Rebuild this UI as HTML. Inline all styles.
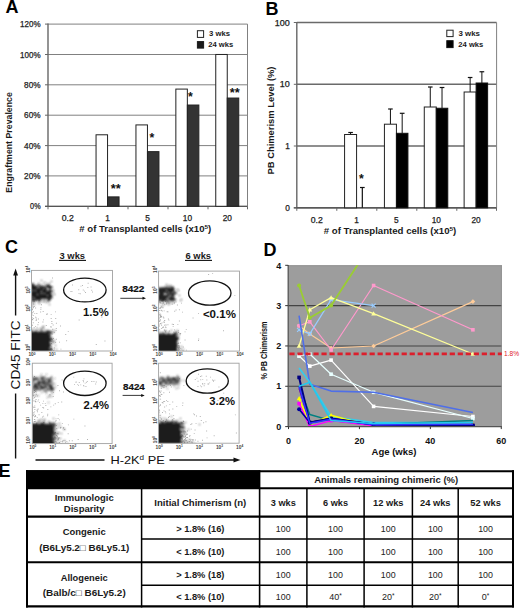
<!DOCTYPE html>
<html><head><meta charset="utf-8"><style>
html,body{margin:0;padding:0;background:#fff;}
body{width:520px;height:608px;overflow:hidden;}
svg{display:block;font-family:"Liberation Sans", sans-serif;}
</style></head><body>
<svg width="520" height="608" viewBox="0 0 520 608" font-family='"Liberation Sans", sans-serif'>
<text x="5.6" y="12.7" font-size="18" font-weight="bold" text-anchor="start" fill="#000" >A</text>
<line x1="48" y1="206.3" x2="247.5" y2="206.3" stroke="#808080" stroke-width="1" />
<line x1="45" y1="206.3" x2="48" y2="206.3" stroke="#666" stroke-width="1" />
<text x="40.6" y="209.35000000000002" font-size="8.3" text-anchor="end" fill="#222" textLength="10.5" lengthAdjust="spacingAndGlyphs" stroke="#222" stroke-width="0.25">0%</text>
<line x1="48" y1="175.9" x2="247.5" y2="175.9" stroke="#808080" stroke-width="1" />
<line x1="45" y1="175.9" x2="48" y2="175.9" stroke="#666" stroke-width="1" />
<text x="40.6" y="178.95000000000002" font-size="8.3" text-anchor="end" fill="#222" textLength="16.5" lengthAdjust="spacingAndGlyphs" stroke="#222" stroke-width="0.25">20%</text>
<line x1="48" y1="145.6" x2="247.5" y2="145.6" stroke="#808080" stroke-width="1" />
<line x1="45" y1="145.6" x2="48" y2="145.6" stroke="#666" stroke-width="1" />
<text x="40.6" y="148.65" font-size="8.3" text-anchor="end" fill="#222" textLength="16.5" lengthAdjust="spacingAndGlyphs" stroke="#222" stroke-width="0.25">40%</text>
<line x1="48" y1="115.2" x2="247.5" y2="115.2" stroke="#808080" stroke-width="1" />
<line x1="45" y1="115.2" x2="48" y2="115.2" stroke="#666" stroke-width="1" />
<text x="40.6" y="118.25" font-size="8.3" text-anchor="end" fill="#222" textLength="16.5" lengthAdjust="spacingAndGlyphs" stroke="#222" stroke-width="0.25">60%</text>
<line x1="48" y1="84.8" x2="247.5" y2="84.8" stroke="#808080" stroke-width="1" />
<line x1="45" y1="84.8" x2="48" y2="84.8" stroke="#666" stroke-width="1" />
<text x="40.6" y="87.85" font-size="8.3" text-anchor="end" fill="#222" textLength="16.5" lengthAdjust="spacingAndGlyphs" stroke="#222" stroke-width="0.25">80%</text>
<line x1="48" y1="54.5" x2="247.5" y2="54.5" stroke="#808080" stroke-width="1" />
<line x1="45" y1="54.5" x2="48" y2="54.5" stroke="#666" stroke-width="1" />
<text x="40.6" y="57.55" font-size="8.3" text-anchor="end" fill="#222" textLength="20.5" lengthAdjust="spacingAndGlyphs" stroke="#222" stroke-width="0.25">100%</text>
<line x1="48" y1="24.1" x2="247.5" y2="24.1" stroke="#808080" stroke-width="1" />
<line x1="45" y1="24.1" x2="48" y2="24.1" stroke="#666" stroke-width="1" />
<text x="40.6" y="27.150000000000002" font-size="8.3" text-anchor="end" fill="#222" textLength="20.5" lengthAdjust="spacingAndGlyphs" stroke="#222" stroke-width="0.25">120%</text>
<line x1="247.5" y1="24.1" x2="247.5" y2="206.3" stroke="#808080" stroke-width="1" />
<line x1="48" y1="23.6" x2="48" y2="206.8" stroke="#666" stroke-width="1.4" />
<line x1="45" y1="206.3" x2="247.5" y2="206.3" stroke="#555" stroke-width="1.3" />
<line x1="48" y1="206.3" x2="48" y2="209.3" stroke="#666" stroke-width="1" />
<line x1="88" y1="206.3" x2="88" y2="209.3" stroke="#666" stroke-width="1" />
<line x1="128" y1="206.3" x2="128" y2="209.3" stroke="#666" stroke-width="1" />
<line x1="168" y1="206.3" x2="168" y2="209.3" stroke="#666" stroke-width="1" />
<line x1="208" y1="206.3" x2="208" y2="209.3" stroke="#666" stroke-width="1" />
<line x1="247.5" y1="206.3" x2="247.5" y2="209.3" stroke="#666" stroke-width="1" />
<text x="67.75" y="221.2" font-size="8.3" text-anchor="middle" fill="#222" textLength="12.1" lengthAdjust="spacingAndGlyphs" stroke="#222" stroke-width="0.25">0.2</text>
<text x="107.64999999999999" y="221.2" font-size="8.3" text-anchor="middle" fill="#222" stroke="#222" stroke-width="0.25">1</text>
<text x="147.55" y="221.2" font-size="8.3" text-anchor="middle" fill="#222" stroke="#222" stroke-width="0.25">5</text>
<text x="187.45000000000002" y="221.2" font-size="8.3" text-anchor="middle" fill="#222" stroke="#222" stroke-width="0.25">10</text>
<text x="227.35" y="221.2" font-size="8.3" text-anchor="middle" fill="#222" stroke="#222" stroke-width="0.25">20</text>
<rect x="96.05" y="134.7865" width="11.5" height="71.51350000000001" fill="#fff" stroke="#222" stroke-width="1" />
<rect x="107.55" y="196.88633333333334" width="11.5" height="9.413666666666668" fill="#333" stroke="#222" stroke-width="1" />
<rect x="135.95" y="124.91733333333333" width="11.5" height="81.38266666666668" fill="#fff" stroke="#222" stroke-width="1" />
<rect x="147.45" y="151.64" width="11.5" height="54.66000000000001" fill="#333" stroke="#222" stroke-width="1" />
<rect x="175.85" y="89.08466666666666" width="11.5" height="117.21533333333335" fill="#fff" stroke="#222" stroke-width="1" />
<rect x="187.35" y="105.02716666666666" width="11.5" height="101.27283333333335" fill="#333" stroke="#222" stroke-width="1" />
<rect x="215.74999999999997" y="54.46666666666667" width="11.5" height="151.83333333333334" fill="#fff" stroke="#222" stroke-width="1" />
<rect x="227.24999999999997" y="98.04283333333333" width="11.5" height="108.25716666666668" fill="#333" stroke="#222" stroke-width="1" />
<text x="115.8" y="192.5" font-size="12.8" font-weight="bold" text-anchor="middle" fill="#111" >**</text>
<text x="151.8" y="142.4" font-size="12.3" font-weight="bold" text-anchor="middle" fill="#111" >*</text>
<text x="190.3" y="100.6" font-size="12.3" font-weight="bold" text-anchor="middle" fill="#111" >*</text>
<text x="234.8" y="97.3" font-size="12.8" font-weight="bold" text-anchor="middle" fill="#111" >**</text>
<rect x="197.4" y="30.7" width="6.2" height="6.7" fill="#fff" stroke="#222" stroke-width="1" />
<rect x="197.4" y="41.6" width="6.2" height="6.5" fill="#1a1a1a" stroke="#1a1a1a" stroke-width="1" />
<text x="209" y="36.4" font-size="8" font-weight="bold" text-anchor="start" fill="#1a1a1a" textLength="21" lengthAdjust="spacingAndGlyphs" >3 wks</text>
<text x="208.2" y="47.3" font-size="8" font-weight="bold" text-anchor="start" fill="#1a1a1a" textLength="25" lengthAdjust="spacingAndGlyphs" >24 wks</text>
<text x="79.3" y="232.4" font-size="9" font-weight="bold" text-anchor="start" fill="#1a1a1a" textLength="132" lengthAdjust="spacingAndGlyphs" ># of Transplanted cells (x10<tspan font-size="6" dy="-3.2">5</tspan><tspan dy="3.2">)</tspan></text>
<text x="0" y="0" font-size="8.8" font-weight="bold" text-anchor="middle" fill="#1a1a1a" textLength="100.5" lengthAdjust="spacingAndGlyphs" transform="translate(12.4,142.4) rotate(-90)">Engraftment Prevalence</text>
<text x="265.5" y="14.7" font-size="18" font-weight="bold" text-anchor="start" fill="#000" >B</text>
<line x1="296.8" y1="207.8" x2="496.6" y2="207.8" stroke="#6a6a6a" stroke-width="1.4" />
<line x1="293.8" y1="207.8" x2="296.8" y2="207.8" stroke="#666" stroke-width="1" />
<text x="289.8" y="210.85000000000002" font-size="8.3" text-anchor="end" fill="#222" stroke="#222" stroke-width="0.25">0</text>
<line x1="296.8" y1="146.0" x2="496.6" y2="146.0" stroke="#6a6a6a" stroke-width="1.4" />
<line x1="293.8" y1="146.0" x2="296.8" y2="146.0" stroke="#666" stroke-width="1" />
<text x="289.8" y="149.05" font-size="8.3" text-anchor="end" fill="#222" stroke="#222" stroke-width="0.25">1</text>
<line x1="296.8" y1="84.3" x2="496.6" y2="84.3" stroke="#6a6a6a" stroke-width="1.4" />
<line x1="293.8" y1="84.3" x2="296.8" y2="84.3" stroke="#666" stroke-width="1" />
<text x="289.8" y="87.35" font-size="8.3" text-anchor="end" fill="#222" textLength="10" lengthAdjust="spacingAndGlyphs" stroke="#222" stroke-width="0.25">10</text>
<line x1="296.8" y1="22.5" x2="496.6" y2="22.5" stroke="#6a6a6a" stroke-width="1.4" />
<line x1="293.8" y1="22.5" x2="296.8" y2="22.5" stroke="#666" stroke-width="1" />
<text x="289.8" y="25.55" font-size="8.3" text-anchor="end" fill="#222" textLength="15" lengthAdjust="spacingAndGlyphs" stroke="#222" stroke-width="0.25">100</text>
<line x1="496.6" y1="22.5" x2="496.6" y2="207.8" stroke="#808080" stroke-width="1" />
<line x1="296.8" y1="22.0" x2="296.8" y2="208.3" stroke="#666" stroke-width="1.4" />
<line x1="293.8" y1="207.8" x2="496.6" y2="207.8" stroke="#555" stroke-width="1.3" />
<line x1="296.8" y1="207.8" x2="296.8" y2="210.8" stroke="#666" stroke-width="1" />
<line x1="336.8" y1="207.8" x2="336.8" y2="210.8" stroke="#666" stroke-width="1" />
<line x1="376.8" y1="207.8" x2="376.8" y2="210.8" stroke="#666" stroke-width="1" />
<line x1="416.8" y1="207.8" x2="416.8" y2="210.8" stroke="#666" stroke-width="1" />
<line x1="456.8" y1="207.8" x2="456.8" y2="210.8" stroke="#666" stroke-width="1" />
<line x1="496.5" y1="207.8" x2="496.5" y2="210.8" stroke="#666" stroke-width="1" />
<text x="316.725" y="222.8" font-size="8.3" text-anchor="middle" fill="#222" textLength="12.1" lengthAdjust="spacingAndGlyphs" stroke="#222" stroke-width="0.25">0.2</text>
<text x="356.57500000000005" y="222.8" font-size="8.3" text-anchor="middle" fill="#222" stroke="#222" stroke-width="0.25">1</text>
<text x="396.425" y="222.8" font-size="8.3" text-anchor="middle" fill="#222" stroke="#222" stroke-width="0.25">5</text>
<text x="436.275" y="222.8" font-size="8.3" text-anchor="middle" fill="#222" stroke="#222" stroke-width="0.25">10</text>
<text x="476.125" y="222.8" font-size="8.3" text-anchor="middle" fill="#222" stroke="#222" stroke-width="0.25">20</text>
<line x1="350.57500000000005" y1="134.5" x2="350.57500000000005" y2="132.5" stroke="#111" stroke-width="1" />
<line x1="348.27500000000003" y1="132.5" x2="352.87500000000006" y2="132.5" stroke="#111" stroke-width="1.2" />
<line x1="362.32500000000005" y1="207.8" x2="362.32500000000005" y2="187.5" stroke="#111" stroke-width="1.2" />
<line x1="359.975" y1="187.5" x2="364.67500000000007" y2="187.5" stroke="#111" stroke-width="1.2" />
<rect x="344.57500000000005" y="134.5" width="12" height="73.30000000000001" fill="#fff" stroke="#222" stroke-width="1" />
<line x1="390.425" y1="124.2" x2="390.425" y2="109" stroke="#111" stroke-width="1" />
<line x1="388.125" y1="109" x2="392.725" y2="109" stroke="#111" stroke-width="1.2" />
<line x1="402.175" y1="133.3" x2="402.175" y2="113.3" stroke="#111" stroke-width="1" />
<line x1="399.825" y1="113.3" x2="404.52500000000003" y2="113.3" stroke="#111" stroke-width="1.2" />
<rect x="384.425" y="124.2" width="12" height="83.60000000000001" fill="#fff" stroke="#222" stroke-width="1" />
<rect x="396.425" y="133.3" width="11.5" height="74.5" fill="#000" stroke="#111" stroke-width="1" />
<line x1="430.275" y1="107" x2="430.275" y2="87" stroke="#111" stroke-width="1" />
<line x1="427.97499999999997" y1="87" x2="432.575" y2="87" stroke="#111" stroke-width="1.2" />
<line x1="442.025" y1="108.25" x2="442.025" y2="87.5" stroke="#111" stroke-width="1" />
<line x1="439.67499999999995" y1="87.5" x2="444.375" y2="87.5" stroke="#111" stroke-width="1.2" />
<rect x="424.275" y="107" width="12" height="100.80000000000001" fill="#fff" stroke="#222" stroke-width="1" />
<rect x="436.275" y="108.25" width="11.5" height="99.55000000000001" fill="#000" stroke="#111" stroke-width="1" />
<line x1="470.125" y1="92" x2="470.125" y2="77.5" stroke="#111" stroke-width="1" />
<line x1="467.825" y1="77.5" x2="472.425" y2="77.5" stroke="#111" stroke-width="1.2" />
<line x1="481.875" y1="83" x2="481.875" y2="71.75" stroke="#111" stroke-width="1" />
<line x1="479.525" y1="71.75" x2="484.225" y2="71.75" stroke="#111" stroke-width="1.2" />
<rect x="464.125" y="92" width="12" height="115.80000000000001" fill="#fff" stroke="#222" stroke-width="1" />
<rect x="476.125" y="83" width="11.5" height="124.80000000000001" fill="#000" stroke="#111" stroke-width="1" />
<text x="361.3" y="182.5" font-size="12.3" font-weight="bold" text-anchor="middle" fill="#111" >*</text>
<rect x="446.8" y="30.2" width="6.3" height="6.4" fill="#fff" stroke="#222" stroke-width="1" />
<rect x="446.8" y="40.7" width="6.3" height="6.9" fill="#000" stroke="#111" stroke-width="1" />
<text x="458.5" y="36.2" font-size="8" font-weight="bold" text-anchor="start" fill="#1a1a1a" textLength="21.5" lengthAdjust="spacingAndGlyphs" >3 wks</text>
<text x="458.3" y="46.9" font-size="8" font-weight="bold" text-anchor="start" fill="#1a1a1a" textLength="25" lengthAdjust="spacingAndGlyphs" >24 wks</text>
<text x="323.8" y="233.9" font-size="9" font-weight="bold" text-anchor="start" fill="#1a1a1a" textLength="132.5" lengthAdjust="spacingAndGlyphs" ># of Transplanted cells (x10<tspan font-size="6" dy="-3.2">5</tspan><tspan dy="3.2">)</tspan></text>
<text x="0" y="0" font-size="8.8" font-weight="bold" text-anchor="middle" fill="#1a1a1a" textLength="108" lengthAdjust="spacingAndGlyphs" transform="translate(273.6,120.5) rotate(-90)">PB Chimerism Level (%)</text>
<defs><filter id="b0" x="-10%" y="-10%" width="120%" height="120%"><feGaussianBlur stdDeviation="1.0"/></filter></defs>
<defs><filter id="b3" x="-10%" y="-10%" width="120%" height="120%"><feGaussianBlur stdDeviation="0.6"/></filter></defs>
<defs><filter id="b1" x="-30%" y="-30%" width="160%" height="160%"><feGaussianBlur stdDeviation="1.3"/></filter><filter id="b2" x="-30%" y="-30%" width="160%" height="160%"><feGaussianBlur stdDeviation="2.2"/></filter></defs>
<text x="5" y="253.4" font-size="18" font-weight="bold" text-anchor="start" fill="#000" >C</text>
<text x="72.3" y="258.7" font-size="9.2" font-weight="bold" text-anchor="middle" fill="#1a1a1a" textLength="25.5" lengthAdjust="spacingAndGlyphs" >3 wks</text>
<line x1="59" y1="260.4" x2="86" y2="260.4" stroke="#111" stroke-width="1.1" />
<text x="198.3" y="258.7" font-size="9.2" font-weight="bold" text-anchor="middle" fill="#1a1a1a" textLength="25.5" lengthAdjust="spacingAndGlyphs" >6 wks</text>
<line x1="185" y1="260.4" x2="212" y2="260.4" stroke="#111" stroke-width="1.1" />
<defs><clipPath id="cp0"><rect x="31.5" y="270.4" width="81.0" height="80.60000000000002"/></clipPath></defs>
<rect x="31.5" y="270.4" width="81.0" height="80.60000000000002" fill="#fff" stroke="none" stroke-width="1" />
<g clip-path="url(#cp0)">
<path d="M35.1 316.7h0.9v0.9h-0.9zM47.0 313.6h0.9v0.9h-0.9zM35.8 317.6h0.9v0.9h-0.9zM32.7 315.1h0.9v0.9h-0.9zM37.5 324.3h0.9v0.9h-0.9zM32.1 308.4h0.9v0.9h-0.9zM32.1 324.8h0.9v0.9h-0.9zM38.6 299.9h0.9v0.9h-0.9zM55.7 329.9h0.9v0.9h-0.9zM37.9 318.5h0.9v0.9h-0.9zM32.5 299.0h0.9v0.9h-0.9zM36.0 300.4h0.9v0.9h-0.9zM32.8 306.4h0.9v0.9h-0.9zM31.7 313.6h0.9v0.9h-0.9zM35.0 325.9h0.9v0.9h-0.9zM35.9 319.3h0.9v0.9h-0.9zM35.7 320.0h0.9v0.9h-0.9zM35.2 307.5h0.9v0.9h-0.9zM67.8 330.9h0.9v0.9h-0.9zM42.5 321.5h0.9v0.9h-0.9zM33.8 306.0h0.9v0.9h-0.9zM33.5 300.8h0.9v0.9h-0.9zM40.2 311.5h0.9v0.9h-0.9zM42.7 311.1h0.9v0.9h-0.9zM50.5 326.0h0.9v0.9h-0.9zM31.5 305.3h0.9v0.9h-0.9zM46.0 313.8h0.9v0.9h-0.9zM55.1 311.4h0.9v0.9h-0.9zM32.0 319.0h0.9v0.9h-0.9zM40.5 307.3h0.9v0.9h-0.9zM32.0 309.3h0.9v0.9h-0.9zM51.5 323.1h0.9v0.9h-0.9zM32.3 306.5h0.9v0.9h-0.9zM32.1 300.4h0.9v0.9h-0.9zM41.1 304.3h0.9v0.9h-0.9zM36.4 313.0h0.9v0.9h-0.9zM32.8 322.3h0.9v0.9h-0.9zM32.3 319.4h0.9v0.9h-0.9zM32.2 312.2h0.9v0.9h-0.9zM32.9 307.3h0.9v0.9h-0.9zM52.7 324.6h0.9v0.9h-0.9zM33.7 327.3h0.9v0.9h-0.9zM32.9 311.3h0.9v0.9h-0.9zM43.1 319.4h0.9v0.9h-0.9zM32.1 330.7h0.9v0.9h-0.9zM32.9 306.9h0.9v0.9h-0.9zM40.4 309.2h0.9v0.9h-0.9zM33.6 300.9h0.9v0.9h-0.9zM32.1 317.4h0.9v0.9h-0.9zM33.2 318.0h0.9v0.9h-0.9zM34.3 313.2h0.9v0.9h-0.9zM50.7 314.2h0.9v0.9h-0.9zM36.6 326.7h0.9v0.9h-0.9zM32.7 303.5h0.9v0.9h-0.9zM45.8 325.1h0.9v0.9h-0.9zM51.6 348.9h0.9v0.9h-0.9zM55.9 322.8h0.9v0.9h-0.9zM51.4 321.0h0.9v0.9h-0.9zM59.1 341.7h0.9v0.9h-0.9zM52.7 349.9h0.9v0.9h-0.9zM50.7 318.1h0.9v0.9h-0.9zM51.6 338.8h0.9v0.9h-0.9zM51.7 333.6h0.9v0.9h-0.9zM54.1 347.5h0.9v0.9h-0.9zM51.3 338.3h0.9v0.9h-0.9zM50.8 348.4h0.9v0.9h-0.9zM53.8 331.9h0.9v0.9h-0.9zM54.3 347.7h0.9v0.9h-0.9zM60.5 348.7h0.9v0.9h-0.9zM50.6 347.9h0.9v0.9h-0.9zM52.9 350.4h0.9v0.9h-0.9zM51.3 346.4h0.9v0.9h-0.9zM53.9 349.6h0.9v0.9h-0.9zM52.3 328.8h0.9v0.9h-0.9zM66.2 340.3h0.9v0.9h-0.9zM55.2 342.2h0.9v0.9h-0.9zM51.1 350.6h0.9v0.9h-0.9zM50.6 326.9h0.9v0.9h-0.9zM55.3 318.1h0.9v0.9h-0.9zM50.6 340.9h0.9v0.9h-0.9zM53.1 337.9h0.9v0.9h-0.9zM52.0 277.5h0.9v0.9h-0.9zM50.8 343.1h0.9v0.9h-0.9zM55.8 328.0h0.9v0.9h-0.9zM55.8 338.8h0.9v0.9h-0.9zM95.8 344.1h0.9v0.9h-0.9zM60.0 325.6h0.9v0.9h-0.9zM104.5 340.6h0.9v0.9h-0.9zM65.3 334.1h0.9v0.9h-0.9zM101.4 316.6h0.9v0.9h-0.9zM82.1 301.2h0.9v0.9h-0.9zM78.7 319.5h0.9v0.9h-0.9zM38.0 321.9h0.9v0.9h-0.9zM112.0 341.3h0.9v0.9h-0.9zM90.5 301.7h0.9v0.9h-0.9z" fill="#aaa"/>
<path d="M82.1 285.1h0.9v0.9h-0.9zM71.5 291.1h0.9v0.9h-0.9zM92.0 291.5h0.9v0.9h-0.9zM91.3 289.8h0.9v0.9h-0.9zM78.3 289.3h0.9v0.9h-0.9zM80.5 285.7h0.9v0.9h-0.9zM72.1 284.6h0.9v0.9h-0.9zM82.8 289.5h0.9v0.9h-0.9zM79.8 293.3h0.9v0.9h-0.9zM84.0 290.7h0.9v0.9h-0.9zM90.6 286.5h0.9v0.9h-0.9zM70.3 291.2h0.9v0.9h-0.9zM78.5 292.9h0.9v0.9h-0.9zM85.0 292.0h0.9v0.9h-0.9zM87.7 282.8h0.9v0.9h-0.9zM87.4 287.0h0.9v0.9h-0.9z" fill="#b0b0b0"/>
<g filter="url(#b0)">
<path d="M31.0 283.0h1.0v1.0h-1.0zM31.0 284.0h1.0v1.0h-1.0zM31.0 285.0h1.0v1.0h-1.0zM31.0 286.0h1.0v1.0h-1.0zM31.0 287.0h1.0v1.0h-1.0zM31.0 288.0h1.0v1.0h-1.0zM31.0 289.0h1.0v1.0h-1.0zM31.0 290.0h1.0v1.0h-1.0zM31.0 291.0h1.0v1.0h-1.0zM31.0 292.0h1.0v1.0h-1.0zM31.0 293.0h1.0v1.0h-1.0zM31.0 294.0h1.0v1.0h-1.0zM31.0 295.0h1.0v1.0h-1.0zM31.0 296.0h1.0v1.0h-1.0zM31.0 297.0h1.0v1.0h-1.0zM31.0 298.0h1.0v1.0h-1.0zM31.0 299.0h1.0v1.0h-1.0zM31.0 301.0h1.0v1.0h-1.0zM32.0 284.0h1.0v1.0h-1.0zM32.0 285.0h1.0v1.0h-1.0zM32.0 286.0h1.0v1.0h-1.0zM32.0 287.0h1.0v1.0h-1.0zM32.0 288.0h1.0v1.0h-1.0zM32.0 289.0h1.0v1.0h-1.0zM32.0 291.0h1.0v1.0h-1.0zM32.0 292.0h1.0v1.0h-1.0zM32.0 293.0h1.0v1.0h-1.0zM32.0 294.0h1.0v1.0h-1.0zM32.0 295.0h1.0v1.0h-1.0zM32.0 296.0h1.0v1.0h-1.0zM32.0 298.0h1.0v1.0h-1.0zM32.0 299.0h1.0v1.0h-1.0zM32.0 301.0h1.0v1.0h-1.0zM32.0 304.0h1.0v1.0h-1.0zM33.0 283.0h1.0v1.0h-1.0zM33.0 284.0h1.0v1.0h-1.0zM33.0 285.0h1.0v1.0h-1.0zM33.0 286.0h1.0v1.0h-1.0zM33.0 287.0h1.0v1.0h-1.0zM33.0 288.0h1.0v1.0h-1.0zM33.0 289.0h1.0v1.0h-1.0zM33.0 290.0h1.0v1.0h-1.0zM33.0 291.0h1.0v1.0h-1.0zM33.0 292.0h1.0v1.0h-1.0zM33.0 293.0h1.0v1.0h-1.0zM33.0 294.0h1.0v1.0h-1.0zM33.0 295.0h1.0v1.0h-1.0zM33.0 296.0h1.0v1.0h-1.0zM33.0 297.0h1.0v1.0h-1.0zM33.0 298.0h1.0v1.0h-1.0zM33.0 299.0h1.0v1.0h-1.0zM33.0 300.0h1.0v1.0h-1.0zM33.0 302.0h1.0v1.0h-1.0zM34.0 285.0h1.0v1.0h-1.0zM34.0 286.0h1.0v1.0h-1.0zM34.0 287.0h1.0v1.0h-1.0zM34.0 288.0h1.0v1.0h-1.0zM34.0 289.0h1.0v1.0h-1.0zM34.0 290.0h1.0v1.0h-1.0zM34.0 291.0h1.0v1.0h-1.0zM34.0 292.0h1.0v1.0h-1.0zM34.0 293.0h1.0v1.0h-1.0zM34.0 294.0h1.0v1.0h-1.0zM34.0 295.0h1.0v1.0h-1.0zM34.0 296.0h1.0v1.0h-1.0zM34.0 297.0h1.0v1.0h-1.0zM34.0 299.0h1.0v1.0h-1.0zM34.0 300.0h1.0v1.0h-1.0zM34.0 301.0h1.0v1.0h-1.0zM34.0 304.0h1.0v1.0h-1.0zM35.0 286.0h1.0v1.0h-1.0zM35.0 287.0h1.0v1.0h-1.0zM35.0 288.0h1.0v1.0h-1.0zM35.0 289.0h1.0v1.0h-1.0zM35.0 291.0h1.0v1.0h-1.0zM35.0 292.0h1.0v1.0h-1.0zM35.0 293.0h1.0v1.0h-1.0zM35.0 294.0h1.0v1.0h-1.0zM35.0 295.0h1.0v1.0h-1.0zM35.0 296.0h1.0v1.0h-1.0zM35.0 297.0h1.0v1.0h-1.0zM35.0 298.0h1.0v1.0h-1.0zM35.0 299.0h1.0v1.0h-1.0zM35.0 300.0h1.0v1.0h-1.0zM36.0 285.0h1.0v1.0h-1.0zM36.0 286.0h1.0v1.0h-1.0zM36.0 287.0h1.0v1.0h-1.0zM36.0 288.0h1.0v1.0h-1.0zM36.0 289.0h1.0v1.0h-1.0zM36.0 290.0h1.0v1.0h-1.0zM36.0 291.0h1.0v1.0h-1.0zM36.0 292.0h1.0v1.0h-1.0zM36.0 293.0h1.0v1.0h-1.0zM36.0 294.0h1.0v1.0h-1.0zM36.0 295.0h1.0v1.0h-1.0zM36.0 296.0h1.0v1.0h-1.0zM36.0 297.0h1.0v1.0h-1.0zM36.0 298.0h1.0v1.0h-1.0zM36.0 299.0h1.0v1.0h-1.0zM37.0 285.0h1.0v1.0h-1.0zM37.0 288.0h1.0v1.0h-1.0zM37.0 289.0h1.0v1.0h-1.0zM37.0 290.0h1.0v1.0h-1.0zM37.0 291.0h1.0v1.0h-1.0zM37.0 292.0h1.0v1.0h-1.0zM37.0 293.0h1.0v1.0h-1.0zM37.0 295.0h1.0v1.0h-1.0zM37.0 296.0h1.0v1.0h-1.0zM37.0 297.0h1.0v1.0h-1.0zM37.0 298.0h1.0v1.0h-1.0zM37.0 299.0h1.0v1.0h-1.0zM37.0 300.0h1.0v1.0h-1.0zM38.0 283.0h1.0v1.0h-1.0zM38.0 285.0h1.0v1.0h-1.0zM38.0 286.0h1.0v1.0h-1.0zM38.0 287.0h1.0v1.0h-1.0zM38.0 288.0h1.0v1.0h-1.0zM38.0 289.0h1.0v1.0h-1.0zM38.0 290.0h1.0v1.0h-1.0zM38.0 291.0h1.0v1.0h-1.0zM38.0 292.0h1.0v1.0h-1.0zM38.0 293.0h1.0v1.0h-1.0zM38.0 294.0h1.0v1.0h-1.0zM38.0 295.0h1.0v1.0h-1.0zM38.0 296.0h1.0v1.0h-1.0zM38.0 297.0h1.0v1.0h-1.0zM38.0 298.0h1.0v1.0h-1.0zM38.0 299.0h1.0v1.0h-1.0zM38.0 302.0h1.0v1.0h-1.0zM39.0 284.0h1.0v1.0h-1.0zM39.0 286.0h1.0v1.0h-1.0zM39.0 288.0h1.0v1.0h-1.0zM39.0 289.0h1.0v1.0h-1.0zM39.0 290.0h1.0v1.0h-1.0zM39.0 291.0h1.0v1.0h-1.0zM39.0 292.0h1.0v1.0h-1.0zM39.0 293.0h1.0v1.0h-1.0zM39.0 294.0h1.0v1.0h-1.0zM39.0 295.0h1.0v1.0h-1.0zM39.0 296.0h1.0v1.0h-1.0zM39.0 297.0h1.0v1.0h-1.0zM39.0 298.0h1.0v1.0h-1.0zM39.0 299.0h1.0v1.0h-1.0zM39.0 300.0h1.0v1.0h-1.0zM39.0 301.0h1.0v1.0h-1.0zM39.0 303.0h1.0v1.0h-1.0zM40.0 285.0h1.0v1.0h-1.0zM40.0 286.0h1.0v1.0h-1.0zM40.0 287.0h1.0v1.0h-1.0zM40.0 288.0h1.0v1.0h-1.0zM40.0 289.0h1.0v1.0h-1.0zM40.0 290.0h1.0v1.0h-1.0zM40.0 291.0h1.0v1.0h-1.0zM40.0 292.0h1.0v1.0h-1.0zM40.0 293.0h1.0v1.0h-1.0zM40.0 294.0h1.0v1.0h-1.0zM40.0 295.0h1.0v1.0h-1.0zM40.0 296.0h1.0v1.0h-1.0zM40.0 297.0h1.0v1.0h-1.0zM40.0 298.0h1.0v1.0h-1.0zM40.0 299.0h1.0v1.0h-1.0zM40.0 300.0h1.0v1.0h-1.0zM41.0 280.0h1.0v1.0h-1.0zM41.0 286.0h1.0v1.0h-1.0zM41.0 287.0h1.0v1.0h-1.0zM41.0 288.0h1.0v1.0h-1.0zM41.0 289.0h1.0v1.0h-1.0zM41.0 290.0h1.0v1.0h-1.0zM41.0 292.0h1.0v1.0h-1.0zM41.0 294.0h1.0v1.0h-1.0zM41.0 295.0h1.0v1.0h-1.0zM41.0 296.0h1.0v1.0h-1.0zM41.0 297.0h1.0v1.0h-1.0zM41.0 298.0h1.0v1.0h-1.0zM42.0 284.0h1.0v1.0h-1.0zM42.0 286.0h1.0v1.0h-1.0zM42.0 287.0h1.0v1.0h-1.0zM42.0 288.0h1.0v1.0h-1.0zM42.0 289.0h1.0v1.0h-1.0zM42.0 290.0h1.0v1.0h-1.0zM42.0 291.0h1.0v1.0h-1.0zM42.0 292.0h1.0v1.0h-1.0zM42.0 293.0h1.0v1.0h-1.0zM42.0 294.0h1.0v1.0h-1.0zM42.0 295.0h1.0v1.0h-1.0zM42.0 296.0h1.0v1.0h-1.0zM42.0 297.0h1.0v1.0h-1.0zM42.0 298.0h1.0v1.0h-1.0zM42.0 301.0h1.0v1.0h-1.0zM43.0 286.0h1.0v1.0h-1.0zM43.0 287.0h1.0v1.0h-1.0zM43.0 289.0h1.0v1.0h-1.0zM43.0 290.0h1.0v1.0h-1.0zM43.0 291.0h1.0v1.0h-1.0zM43.0 292.0h1.0v1.0h-1.0zM43.0 293.0h1.0v1.0h-1.0zM43.0 294.0h1.0v1.0h-1.0zM43.0 295.0h1.0v1.0h-1.0zM43.0 296.0h1.0v1.0h-1.0zM43.0 297.0h1.0v1.0h-1.0zM43.0 298.0h1.0v1.0h-1.0zM43.0 300.0h1.0v1.0h-1.0zM44.0 282.0h1.0v1.0h-1.0zM44.0 286.0h1.0v1.0h-1.0zM44.0 287.0h1.0v1.0h-1.0zM44.0 288.0h1.0v1.0h-1.0zM44.0 289.0h1.0v1.0h-1.0zM44.0 290.0h1.0v1.0h-1.0zM44.0 291.0h1.0v1.0h-1.0zM44.0 292.0h1.0v1.0h-1.0zM44.0 294.0h1.0v1.0h-1.0zM44.0 295.0h1.0v1.0h-1.0zM44.0 296.0h1.0v1.0h-1.0zM44.0 297.0h1.0v1.0h-1.0zM44.0 298.0h1.0v1.0h-1.0zM44.0 301.0h1.0v1.0h-1.0zM45.0 285.0h1.0v1.0h-1.0zM45.0 287.0h1.0v1.0h-1.0zM45.0 288.0h1.0v1.0h-1.0zM45.0 289.0h1.0v1.0h-1.0zM45.0 290.0h1.0v1.0h-1.0zM45.0 291.0h1.0v1.0h-1.0zM45.0 292.0h1.0v1.0h-1.0zM45.0 293.0h1.0v1.0h-1.0zM45.0 294.0h1.0v1.0h-1.0zM45.0 295.0h1.0v1.0h-1.0zM45.0 296.0h1.0v1.0h-1.0zM45.0 297.0h1.0v1.0h-1.0zM45.0 298.0h1.0v1.0h-1.0zM45.0 300.0h1.0v1.0h-1.0zM46.0 283.0h1.0v1.0h-1.0zM46.0 285.0h1.0v1.0h-1.0zM46.0 286.0h1.0v1.0h-1.0zM46.0 288.0h1.0v1.0h-1.0zM46.0 289.0h1.0v1.0h-1.0zM46.0 290.0h1.0v1.0h-1.0zM46.0 291.0h1.0v1.0h-1.0zM46.0 292.0h1.0v1.0h-1.0zM46.0 293.0h1.0v1.0h-1.0zM46.0 294.0h1.0v1.0h-1.0zM46.0 295.0h1.0v1.0h-1.0zM46.0 296.0h1.0v1.0h-1.0zM46.0 297.0h1.0v1.0h-1.0zM46.0 298.0h1.0v1.0h-1.0zM46.0 302.0h1.0v1.0h-1.0zM47.0 285.0h1.0v1.0h-1.0zM47.0 286.0h1.0v1.0h-1.0zM47.0 287.0h1.0v1.0h-1.0zM47.0 291.0h1.0v1.0h-1.0zM47.0 292.0h1.0v1.0h-1.0zM47.0 293.0h1.0v1.0h-1.0zM47.0 294.0h1.0v1.0h-1.0zM47.0 296.0h1.0v1.0h-1.0zM47.0 297.0h1.0v1.0h-1.0zM47.0 298.0h1.0v1.0h-1.0zM47.0 300.0h1.0v1.0h-1.0zM48.0 284.0h1.0v1.0h-1.0zM48.0 285.0h1.0v1.0h-1.0zM48.0 286.0h1.0v1.0h-1.0zM48.0 287.0h1.0v1.0h-1.0zM48.0 289.0h1.0v1.0h-1.0zM48.0 290.0h1.0v1.0h-1.0zM48.0 291.0h1.0v1.0h-1.0zM48.0 292.0h1.0v1.0h-1.0zM48.0 293.0h1.0v1.0h-1.0zM48.0 294.0h1.0v1.0h-1.0zM48.0 295.0h1.0v1.0h-1.0zM48.0 296.0h1.0v1.0h-1.0zM48.0 297.0h1.0v1.0h-1.0zM48.0 298.0h1.0v1.0h-1.0zM48.0 299.0h1.0v1.0h-1.0zM48.0 300.0h1.0v1.0h-1.0zM48.0 301.0h1.0v1.0h-1.0zM49.0 283.0h1.0v1.0h-1.0zM49.0 285.0h1.0v1.0h-1.0zM49.0 286.0h1.0v1.0h-1.0zM49.0 287.0h1.0v1.0h-1.0zM49.0 288.0h1.0v1.0h-1.0zM49.0 290.0h1.0v1.0h-1.0zM49.0 291.0h1.0v1.0h-1.0zM49.0 292.0h1.0v1.0h-1.0zM49.0 293.0h1.0v1.0h-1.0zM49.0 294.0h1.0v1.0h-1.0zM49.0 295.0h1.0v1.0h-1.0zM49.0 296.0h1.0v1.0h-1.0zM49.0 297.0h1.0v1.0h-1.0zM49.0 298.0h1.0v1.0h-1.0zM49.0 299.0h1.0v1.0h-1.0zM49.0 300.0h1.0v1.0h-1.0zM49.0 304.0h1.0v1.0h-1.0zM50.0 286.0h1.0v1.0h-1.0zM50.0 287.0h1.0v1.0h-1.0zM50.0 288.0h1.0v1.0h-1.0zM50.0 289.0h1.0v1.0h-1.0zM50.0 290.0h1.0v1.0h-1.0zM50.0 291.0h1.0v1.0h-1.0zM50.0 292.0h1.0v1.0h-1.0zM50.0 293.0h1.0v1.0h-1.0zM50.0 294.0h1.0v1.0h-1.0zM50.0 295.0h1.0v1.0h-1.0zM50.0 296.0h1.0v1.0h-1.0zM50.0 297.0h1.0v1.0h-1.0zM50.0 298.0h1.0v1.0h-1.0zM50.0 299.0h1.0v1.0h-1.0zM51.0 281.0h1.0v1.0h-1.0zM51.0 286.0h1.0v1.0h-1.0zM51.0 287.0h1.0v1.0h-1.0zM51.0 290.0h1.0v1.0h-1.0zM51.0 291.0h1.0v1.0h-1.0zM51.0 294.0h1.0v1.0h-1.0zM51.0 295.0h1.0v1.0h-1.0zM51.0 296.0h1.0v1.0h-1.0zM51.0 297.0h1.0v1.0h-1.0zM52.0 287.0h1.0v1.0h-1.0zM52.0 291.0h1.0v1.0h-1.0zM52.0 297.0h1.0v1.0h-1.0zM53.0 290.0h1.0v1.0h-1.0zM53.0 293.0h1.0v1.0h-1.0zM54.0 294.0h1.0v1.0h-1.0z" fill="#1c1c1c"/>
<path d="M27.5 332.2 H47.3 Q49.3 332.2 49.3 334.2 V355.0 H27.5 Z" fill="#141414"/>
<path d="M31.0 329.0h1.0v1.0h-1.0zM31.0 331.0h1.0v1.0h-1.0zM31.0 332.0h1.0v1.0h-1.0zM31.0 333.0h1.0v1.0h-1.0zM31.0 334.0h1.0v1.0h-1.0zM31.0 335.0h1.0v1.0h-1.0zM31.0 336.0h1.0v1.0h-1.0zM31.0 337.0h1.0v1.0h-1.0zM31.0 338.0h1.0v1.0h-1.0zM31.0 339.0h1.0v1.0h-1.0zM31.0 340.0h1.0v1.0h-1.0zM31.0 341.0h1.0v1.0h-1.0zM31.0 342.0h1.0v1.0h-1.0zM31.0 343.0h1.0v1.0h-1.0zM31.0 344.0h1.0v1.0h-1.0zM31.0 345.0h1.0v1.0h-1.0zM31.0 346.0h1.0v1.0h-1.0zM31.0 347.0h1.0v1.0h-1.0zM31.0 348.0h1.0v1.0h-1.0zM31.0 349.0h1.0v1.0h-1.0zM31.0 350.0h1.0v1.0h-1.0zM31.0 351.0h1.0v1.0h-1.0zM32.0 331.0h1.0v1.0h-1.0zM32.0 332.0h1.0v1.0h-1.0zM32.0 333.0h1.0v1.0h-1.0zM32.0 334.0h1.0v1.0h-1.0zM32.0 335.0h1.0v1.0h-1.0zM32.0 336.0h1.0v1.0h-1.0zM32.0 337.0h1.0v1.0h-1.0zM32.0 338.0h1.0v1.0h-1.0zM32.0 339.0h1.0v1.0h-1.0zM32.0 340.0h1.0v1.0h-1.0zM32.0 341.0h1.0v1.0h-1.0zM32.0 342.0h1.0v1.0h-1.0zM32.0 343.0h1.0v1.0h-1.0zM32.0 344.0h1.0v1.0h-1.0zM32.0 345.0h1.0v1.0h-1.0zM32.0 346.0h1.0v1.0h-1.0zM32.0 347.0h1.0v1.0h-1.0zM32.0 348.0h1.0v1.0h-1.0zM32.0 349.0h1.0v1.0h-1.0zM32.0 350.0h1.0v1.0h-1.0zM32.0 351.0h1.0v1.0h-1.0zM33.0 329.0h1.0v1.0h-1.0zM33.0 332.0h1.0v1.0h-1.0zM33.0 333.0h1.0v1.0h-1.0zM33.0 334.0h1.0v1.0h-1.0zM33.0 335.0h1.0v1.0h-1.0zM33.0 336.0h1.0v1.0h-1.0zM33.0 337.0h1.0v1.0h-1.0zM33.0 338.0h1.0v1.0h-1.0zM33.0 339.0h1.0v1.0h-1.0zM33.0 340.0h1.0v1.0h-1.0zM33.0 341.0h1.0v1.0h-1.0zM33.0 342.0h1.0v1.0h-1.0zM33.0 343.0h1.0v1.0h-1.0zM33.0 344.0h1.0v1.0h-1.0zM33.0 345.0h1.0v1.0h-1.0zM33.0 346.0h1.0v1.0h-1.0zM33.0 347.0h1.0v1.0h-1.0zM33.0 348.0h1.0v1.0h-1.0zM33.0 349.0h1.0v1.0h-1.0zM33.0 350.0h1.0v1.0h-1.0zM33.0 351.0h1.0v1.0h-1.0zM34.0 331.0h1.0v1.0h-1.0zM34.0 332.0h1.0v1.0h-1.0zM34.0 333.0h1.0v1.0h-1.0zM34.0 334.0h1.0v1.0h-1.0zM34.0 335.0h1.0v1.0h-1.0zM34.0 336.0h1.0v1.0h-1.0zM34.0 337.0h1.0v1.0h-1.0zM34.0 338.0h1.0v1.0h-1.0zM34.0 339.0h1.0v1.0h-1.0zM34.0 340.0h1.0v1.0h-1.0zM34.0 341.0h1.0v1.0h-1.0zM34.0 342.0h1.0v1.0h-1.0zM34.0 343.0h1.0v1.0h-1.0zM34.0 344.0h1.0v1.0h-1.0zM34.0 345.0h1.0v1.0h-1.0zM34.0 346.0h1.0v1.0h-1.0zM34.0 347.0h1.0v1.0h-1.0zM34.0 348.0h1.0v1.0h-1.0zM34.0 349.0h1.0v1.0h-1.0zM34.0 350.0h1.0v1.0h-1.0zM34.0 351.0h1.0v1.0h-1.0zM35.0 331.0h1.0v1.0h-1.0zM35.0 332.0h1.0v1.0h-1.0zM35.0 333.0h1.0v1.0h-1.0zM35.0 334.0h1.0v1.0h-1.0zM35.0 335.0h1.0v1.0h-1.0zM35.0 336.0h1.0v1.0h-1.0zM35.0 337.0h1.0v1.0h-1.0zM35.0 338.0h1.0v1.0h-1.0zM35.0 339.0h1.0v1.0h-1.0zM35.0 340.0h1.0v1.0h-1.0zM35.0 341.0h1.0v1.0h-1.0zM35.0 342.0h1.0v1.0h-1.0zM35.0 343.0h1.0v1.0h-1.0zM35.0 344.0h1.0v1.0h-1.0zM35.0 345.0h1.0v1.0h-1.0zM35.0 346.0h1.0v1.0h-1.0zM35.0 347.0h1.0v1.0h-1.0zM35.0 348.0h1.0v1.0h-1.0zM35.0 349.0h1.0v1.0h-1.0zM35.0 350.0h1.0v1.0h-1.0zM35.0 351.0h1.0v1.0h-1.0zM36.0 329.0h1.0v1.0h-1.0zM36.0 331.0h1.0v1.0h-1.0zM36.0 332.0h1.0v1.0h-1.0zM36.0 333.0h1.0v1.0h-1.0zM36.0 334.0h1.0v1.0h-1.0zM36.0 335.0h1.0v1.0h-1.0zM36.0 336.0h1.0v1.0h-1.0zM36.0 337.0h1.0v1.0h-1.0zM36.0 338.0h1.0v1.0h-1.0zM36.0 339.0h1.0v1.0h-1.0zM36.0 340.0h1.0v1.0h-1.0zM36.0 341.0h1.0v1.0h-1.0zM36.0 342.0h1.0v1.0h-1.0zM36.0 343.0h1.0v1.0h-1.0zM36.0 344.0h1.0v1.0h-1.0zM36.0 345.0h1.0v1.0h-1.0zM36.0 346.0h1.0v1.0h-1.0zM36.0 347.0h1.0v1.0h-1.0zM36.0 348.0h1.0v1.0h-1.0zM36.0 349.0h1.0v1.0h-1.0zM36.0 350.0h1.0v1.0h-1.0zM36.0 351.0h1.0v1.0h-1.0zM37.0 329.0h1.0v1.0h-1.0zM37.0 332.0h1.0v1.0h-1.0zM37.0 333.0h1.0v1.0h-1.0zM37.0 334.0h1.0v1.0h-1.0zM37.0 335.0h1.0v1.0h-1.0zM37.0 336.0h1.0v1.0h-1.0zM37.0 337.0h1.0v1.0h-1.0zM37.0 338.0h1.0v1.0h-1.0zM37.0 339.0h1.0v1.0h-1.0zM37.0 340.0h1.0v1.0h-1.0zM37.0 341.0h1.0v1.0h-1.0zM37.0 342.0h1.0v1.0h-1.0zM37.0 343.0h1.0v1.0h-1.0zM37.0 344.0h1.0v1.0h-1.0zM37.0 345.0h1.0v1.0h-1.0zM37.0 346.0h1.0v1.0h-1.0zM37.0 347.0h1.0v1.0h-1.0zM37.0 348.0h1.0v1.0h-1.0zM37.0 349.0h1.0v1.0h-1.0zM37.0 350.0h1.0v1.0h-1.0zM37.0 351.0h1.0v1.0h-1.0zM38.0 331.0h1.0v1.0h-1.0zM38.0 332.0h1.0v1.0h-1.0zM38.0 333.0h1.0v1.0h-1.0zM38.0 334.0h1.0v1.0h-1.0zM38.0 335.0h1.0v1.0h-1.0zM38.0 336.0h1.0v1.0h-1.0zM38.0 337.0h1.0v1.0h-1.0zM38.0 338.0h1.0v1.0h-1.0zM38.0 339.0h1.0v1.0h-1.0zM38.0 340.0h1.0v1.0h-1.0zM38.0 341.0h1.0v1.0h-1.0zM38.0 342.0h1.0v1.0h-1.0zM38.0 343.0h1.0v1.0h-1.0zM38.0 344.0h1.0v1.0h-1.0zM38.0 345.0h1.0v1.0h-1.0zM38.0 346.0h1.0v1.0h-1.0zM38.0 347.0h1.0v1.0h-1.0zM38.0 348.0h1.0v1.0h-1.0zM38.0 349.0h1.0v1.0h-1.0zM38.0 350.0h1.0v1.0h-1.0zM38.0 351.0h1.0v1.0h-1.0zM39.0 332.0h1.0v1.0h-1.0zM39.0 333.0h1.0v1.0h-1.0zM39.0 334.0h1.0v1.0h-1.0zM39.0 335.0h1.0v1.0h-1.0zM39.0 336.0h1.0v1.0h-1.0zM39.0 337.0h1.0v1.0h-1.0zM39.0 338.0h1.0v1.0h-1.0zM39.0 339.0h1.0v1.0h-1.0zM39.0 340.0h1.0v1.0h-1.0zM39.0 341.0h1.0v1.0h-1.0zM39.0 342.0h1.0v1.0h-1.0zM39.0 343.0h1.0v1.0h-1.0zM39.0 344.0h1.0v1.0h-1.0zM39.0 345.0h1.0v1.0h-1.0zM39.0 346.0h1.0v1.0h-1.0zM39.0 347.0h1.0v1.0h-1.0zM39.0 348.0h1.0v1.0h-1.0zM39.0 349.0h1.0v1.0h-1.0zM39.0 350.0h1.0v1.0h-1.0zM39.0 351.0h1.0v1.0h-1.0zM40.0 328.0h1.0v1.0h-1.0zM40.0 329.0h1.0v1.0h-1.0zM40.0 331.0h1.0v1.0h-1.0zM40.0 332.0h1.0v1.0h-1.0zM40.0 333.0h1.0v1.0h-1.0zM40.0 334.0h1.0v1.0h-1.0zM40.0 335.0h1.0v1.0h-1.0zM40.0 336.0h1.0v1.0h-1.0zM40.0 337.0h1.0v1.0h-1.0zM40.0 338.0h1.0v1.0h-1.0zM40.0 339.0h1.0v1.0h-1.0zM40.0 340.0h1.0v1.0h-1.0zM40.0 341.0h1.0v1.0h-1.0zM40.0 342.0h1.0v1.0h-1.0zM40.0 343.0h1.0v1.0h-1.0zM40.0 344.0h1.0v1.0h-1.0zM40.0 345.0h1.0v1.0h-1.0zM40.0 346.0h1.0v1.0h-1.0zM40.0 347.0h1.0v1.0h-1.0zM40.0 348.0h1.0v1.0h-1.0zM40.0 349.0h1.0v1.0h-1.0zM40.0 350.0h1.0v1.0h-1.0zM40.0 351.0h1.0v1.0h-1.0zM41.0 330.0h1.0v1.0h-1.0zM41.0 331.0h1.0v1.0h-1.0zM41.0 332.0h1.0v1.0h-1.0zM41.0 333.0h1.0v1.0h-1.0zM41.0 334.0h1.0v1.0h-1.0zM41.0 335.0h1.0v1.0h-1.0zM41.0 336.0h1.0v1.0h-1.0zM41.0 337.0h1.0v1.0h-1.0zM41.0 338.0h1.0v1.0h-1.0zM41.0 339.0h1.0v1.0h-1.0zM41.0 340.0h1.0v1.0h-1.0zM41.0 341.0h1.0v1.0h-1.0zM41.0 342.0h1.0v1.0h-1.0zM41.0 343.0h1.0v1.0h-1.0zM41.0 344.0h1.0v1.0h-1.0zM41.0 345.0h1.0v1.0h-1.0zM41.0 346.0h1.0v1.0h-1.0zM41.0 347.0h1.0v1.0h-1.0zM41.0 348.0h1.0v1.0h-1.0zM41.0 349.0h1.0v1.0h-1.0zM41.0 350.0h1.0v1.0h-1.0zM41.0 351.0h1.0v1.0h-1.0zM42.0 327.0h1.0v1.0h-1.0zM42.0 329.0h1.0v1.0h-1.0zM42.0 332.0h1.0v1.0h-1.0zM42.0 333.0h1.0v1.0h-1.0zM42.0 334.0h1.0v1.0h-1.0zM42.0 335.0h1.0v1.0h-1.0zM42.0 336.0h1.0v1.0h-1.0zM42.0 337.0h1.0v1.0h-1.0zM42.0 338.0h1.0v1.0h-1.0zM42.0 339.0h1.0v1.0h-1.0zM42.0 340.0h1.0v1.0h-1.0zM42.0 341.0h1.0v1.0h-1.0zM42.0 342.0h1.0v1.0h-1.0zM42.0 343.0h1.0v1.0h-1.0zM42.0 344.0h1.0v1.0h-1.0zM42.0 345.0h1.0v1.0h-1.0zM42.0 346.0h1.0v1.0h-1.0zM42.0 347.0h1.0v1.0h-1.0zM42.0 348.0h1.0v1.0h-1.0zM42.0 349.0h1.0v1.0h-1.0zM42.0 350.0h1.0v1.0h-1.0zM42.0 351.0h1.0v1.0h-1.0zM43.0 326.0h1.0v1.0h-1.0zM43.0 327.0h1.0v1.0h-1.0zM43.0 331.0h1.0v1.0h-1.0zM43.0 332.0h1.0v1.0h-1.0zM43.0 333.0h1.0v1.0h-1.0zM43.0 334.0h1.0v1.0h-1.0zM43.0 335.0h1.0v1.0h-1.0zM43.0 336.0h1.0v1.0h-1.0zM43.0 337.0h1.0v1.0h-1.0zM43.0 338.0h1.0v1.0h-1.0zM43.0 339.0h1.0v1.0h-1.0zM43.0 340.0h1.0v1.0h-1.0zM43.0 341.0h1.0v1.0h-1.0zM43.0 342.0h1.0v1.0h-1.0zM43.0 343.0h1.0v1.0h-1.0zM43.0 344.0h1.0v1.0h-1.0zM43.0 345.0h1.0v1.0h-1.0zM43.0 346.0h1.0v1.0h-1.0zM43.0 347.0h1.0v1.0h-1.0zM43.0 348.0h1.0v1.0h-1.0zM43.0 349.0h1.0v1.0h-1.0zM43.0 350.0h1.0v1.0h-1.0zM43.0 351.0h1.0v1.0h-1.0zM44.0 330.0h1.0v1.0h-1.0zM44.0 332.0h1.0v1.0h-1.0zM44.0 333.0h1.0v1.0h-1.0zM44.0 334.0h1.0v1.0h-1.0zM44.0 335.0h1.0v1.0h-1.0zM44.0 336.0h1.0v1.0h-1.0zM44.0 337.0h1.0v1.0h-1.0zM44.0 338.0h1.0v1.0h-1.0zM44.0 339.0h1.0v1.0h-1.0zM44.0 340.0h1.0v1.0h-1.0zM44.0 341.0h1.0v1.0h-1.0zM44.0 342.0h1.0v1.0h-1.0zM44.0 343.0h1.0v1.0h-1.0zM44.0 344.0h1.0v1.0h-1.0zM44.0 345.0h1.0v1.0h-1.0zM44.0 346.0h1.0v1.0h-1.0zM44.0 347.0h1.0v1.0h-1.0zM44.0 348.0h1.0v1.0h-1.0zM44.0 349.0h1.0v1.0h-1.0zM44.0 350.0h1.0v1.0h-1.0zM44.0 351.0h1.0v1.0h-1.0zM45.0 332.0h1.0v1.0h-1.0zM45.0 333.0h1.0v1.0h-1.0zM45.0 334.0h1.0v1.0h-1.0zM45.0 335.0h1.0v1.0h-1.0zM45.0 336.0h1.0v1.0h-1.0zM45.0 337.0h1.0v1.0h-1.0zM45.0 338.0h1.0v1.0h-1.0zM45.0 339.0h1.0v1.0h-1.0zM45.0 340.0h1.0v1.0h-1.0zM45.0 341.0h1.0v1.0h-1.0zM45.0 342.0h1.0v1.0h-1.0zM45.0 343.0h1.0v1.0h-1.0zM45.0 344.0h1.0v1.0h-1.0zM45.0 345.0h1.0v1.0h-1.0zM45.0 346.0h1.0v1.0h-1.0zM45.0 347.0h1.0v1.0h-1.0zM45.0 348.0h1.0v1.0h-1.0zM45.0 349.0h1.0v1.0h-1.0zM45.0 350.0h1.0v1.0h-1.0zM45.0 351.0h1.0v1.0h-1.0zM46.0 330.0h1.0v1.0h-1.0zM46.0 331.0h1.0v1.0h-1.0zM46.0 332.0h1.0v1.0h-1.0zM46.0 333.0h1.0v1.0h-1.0zM46.0 334.0h1.0v1.0h-1.0zM46.0 335.0h1.0v1.0h-1.0zM46.0 336.0h1.0v1.0h-1.0zM46.0 337.0h1.0v1.0h-1.0zM46.0 338.0h1.0v1.0h-1.0zM46.0 339.0h1.0v1.0h-1.0zM46.0 340.0h1.0v1.0h-1.0zM46.0 341.0h1.0v1.0h-1.0zM46.0 342.0h1.0v1.0h-1.0zM46.0 343.0h1.0v1.0h-1.0zM46.0 344.0h1.0v1.0h-1.0zM46.0 345.0h1.0v1.0h-1.0zM46.0 346.0h1.0v1.0h-1.0zM46.0 347.0h1.0v1.0h-1.0zM46.0 348.0h1.0v1.0h-1.0zM46.0 349.0h1.0v1.0h-1.0zM46.0 350.0h1.0v1.0h-1.0zM46.0 351.0h1.0v1.0h-1.0zM47.0 331.0h1.0v1.0h-1.0zM47.0 332.0h1.0v1.0h-1.0zM47.0 333.0h1.0v1.0h-1.0zM47.0 334.0h1.0v1.0h-1.0zM47.0 335.0h1.0v1.0h-1.0zM47.0 336.0h1.0v1.0h-1.0zM47.0 337.0h1.0v1.0h-1.0zM47.0 338.0h1.0v1.0h-1.0zM47.0 339.0h1.0v1.0h-1.0zM47.0 340.0h1.0v1.0h-1.0zM47.0 341.0h1.0v1.0h-1.0zM47.0 342.0h1.0v1.0h-1.0zM47.0 343.0h1.0v1.0h-1.0zM47.0 344.0h1.0v1.0h-1.0zM47.0 345.0h1.0v1.0h-1.0zM47.0 346.0h1.0v1.0h-1.0zM47.0 347.0h1.0v1.0h-1.0zM47.0 348.0h1.0v1.0h-1.0zM47.0 349.0h1.0v1.0h-1.0zM47.0 350.0h1.0v1.0h-1.0zM47.0 351.0h1.0v1.0h-1.0zM48.0 330.0h1.0v1.0h-1.0zM48.0 331.0h1.0v1.0h-1.0zM48.0 332.0h1.0v1.0h-1.0zM48.0 333.0h1.0v1.0h-1.0zM48.0 334.0h1.0v1.0h-1.0zM48.0 335.0h1.0v1.0h-1.0zM48.0 336.0h1.0v1.0h-1.0zM48.0 337.0h1.0v1.0h-1.0zM48.0 338.0h1.0v1.0h-1.0zM48.0 339.0h1.0v1.0h-1.0zM48.0 340.0h1.0v1.0h-1.0zM48.0 341.0h1.0v1.0h-1.0zM48.0 342.0h1.0v1.0h-1.0zM48.0 343.0h1.0v1.0h-1.0zM48.0 344.0h1.0v1.0h-1.0zM48.0 345.0h1.0v1.0h-1.0zM48.0 346.0h1.0v1.0h-1.0zM48.0 347.0h1.0v1.0h-1.0zM48.0 348.0h1.0v1.0h-1.0zM48.0 349.0h1.0v1.0h-1.0zM48.0 350.0h1.0v1.0h-1.0zM48.0 351.0h1.0v1.0h-1.0zM49.0 331.0h1.0v1.0h-1.0zM49.0 332.0h1.0v1.0h-1.0zM49.0 334.0h1.0v1.0h-1.0zM49.0 335.0h1.0v1.0h-1.0zM49.0 336.0h1.0v1.0h-1.0zM49.0 337.0h1.0v1.0h-1.0zM49.0 338.0h1.0v1.0h-1.0zM49.0 339.0h1.0v1.0h-1.0zM49.0 340.0h1.0v1.0h-1.0zM49.0 341.0h1.0v1.0h-1.0zM49.0 342.0h1.0v1.0h-1.0zM49.0 343.0h1.0v1.0h-1.0zM49.0 344.0h1.0v1.0h-1.0zM49.0 345.0h1.0v1.0h-1.0zM49.0 346.0h1.0v1.0h-1.0zM49.0 347.0h1.0v1.0h-1.0zM49.0 349.0h1.0v1.0h-1.0zM49.0 350.0h1.0v1.0h-1.0zM49.0 351.0h1.0v1.0h-1.0zM50.0 331.0h1.0v1.0h-1.0zM50.0 332.0h1.0v1.0h-1.0zM50.0 333.0h1.0v1.0h-1.0zM50.0 334.0h1.0v1.0h-1.0zM50.0 336.0h1.0v1.0h-1.0zM50.0 338.0h1.0v1.0h-1.0zM50.0 339.0h1.0v1.0h-1.0zM50.0 340.0h1.0v1.0h-1.0zM50.0 344.0h1.0v1.0h-1.0zM50.0 345.0h1.0v1.0h-1.0zM50.0 347.0h1.0v1.0h-1.0zM50.0 349.0h1.0v1.0h-1.0zM50.0 350.0h1.0v1.0h-1.0zM51.0 331.0h1.0v1.0h-1.0zM51.0 333.0h1.0v1.0h-1.0zM51.0 337.0h1.0v1.0h-1.0zM51.0 339.0h1.0v1.0h-1.0zM51.0 340.0h1.0v1.0h-1.0zM51.0 341.0h1.0v1.0h-1.0zM51.0 344.0h1.0v1.0h-1.0zM51.0 348.0h1.0v1.0h-1.0zM51.0 349.0h1.0v1.0h-1.0zM51.0 350.0h1.0v1.0h-1.0zM51.0 351.0h1.0v1.0h-1.0zM52.0 331.0h1.0v1.0h-1.0zM52.0 338.0h1.0v1.0h-1.0zM52.0 342.0h1.0v1.0h-1.0zM52.0 348.0h1.0v1.0h-1.0zM53.0 332.0h1.0v1.0h-1.0zM53.0 340.0h1.0v1.0h-1.0zM53.0 342.0h1.0v1.0h-1.0zM54.0 330.0h1.0v1.0h-1.0zM54.0 341.0h1.0v1.0h-1.0zM55.0 345.0h1.0v1.0h-1.0zM56.0 349.0h1.0v1.0h-1.0z" fill="#1a1a1a"/>
</g>
</g>
<rect x="31.5" y="270.4" width="81.0" height="80.60000000000002" fill="none" stroke="#a0a0a0" stroke-width="0.9" />
<ellipse cx="84.85" cy="290.0" rx="21.25" ry="11.95" fill="none" stroke="#111" stroke-width="1.3"/>
<text x="83.0" y="315.6" font-size="11.5" font-weight="bold" text-anchor="start" fill="#111" textLength="25.7" lengthAdjust="spacingAndGlyphs" >1.5%</text>
<text x="32.0" y="356.3" font-size="4.8" font-weight="bold" text-anchor="middle" fill="#444" >10<tspan font-size="3.2" dy="-1.6">0</tspan></text>
<text x="52.25" y="356.3" font-size="4.8" font-weight="bold" text-anchor="middle" fill="#444" >10<tspan font-size="3.2" dy="-1.6">1</tspan></text>
<text x="72.5" y="356.3" font-size="4.8" font-weight="bold" text-anchor="middle" fill="#444" >10<tspan font-size="3.2" dy="-1.6">2</tspan></text>
<text x="92.75" y="356.3" font-size="4.8" font-weight="bold" text-anchor="middle" fill="#444" >10<tspan font-size="3.2" dy="-1.6">3</tspan></text>
<text x="113.0" y="356.3" font-size="4.8" font-weight="bold" text-anchor="middle" fill="#444" >10<tspan font-size="3.2" dy="-1.6">4</tspan></text>
<text x="0" y="0" font-size="4.8" font-weight="bold" text-anchor="middle" fill="#444" transform="translate(29.5,347.5) rotate(-90)">10<tspan font-size="3.2" dy="-1.6">0</tspan></text>
<text x="0" y="0" font-size="4.8" font-weight="bold" text-anchor="middle" fill="#444" transform="translate(29.5,328.0) rotate(-90)">10<tspan font-size="3.2" dy="-1.6">1</tspan></text>
<text x="0" y="0" font-size="4.8" font-weight="bold" text-anchor="middle" fill="#444" transform="translate(29.5,308.0) rotate(-90)">10<tspan font-size="3.2" dy="-1.6">2</tspan></text>
<text x="0" y="0" font-size="4.8" font-weight="bold" text-anchor="middle" fill="#444" transform="translate(29.5,290.0) rotate(-90)">10<tspan font-size="3.2" dy="-1.6">3</tspan></text>
<text x="0" y="0" font-size="4.8" font-weight="bold" text-anchor="middle" fill="#444" transform="translate(29.5,269.3) rotate(-90)">10<tspan font-size="3.2" dy="-1.6">4</tspan></text>
<defs><clipPath id="cp1"><rect x="32.3" y="363.2" width="79.8" height="80.40000000000003"/></clipPath></defs>
<rect x="32.3" y="363.2" width="79.8" height="80.40000000000003" fill="#fff" stroke="none" stroke-width="1" />
<g clip-path="url(#cp1)">
<path d="M37.4 408.9h0.9v0.9h-0.9zM42.2 416.6h0.9v0.9h-0.9zM32.3 391.8h0.9v0.9h-0.9zM43.4 422.2h0.9v0.9h-0.9zM44.8 403.2h0.9v0.9h-0.9zM35.2 401.1h0.9v0.9h-0.9zM32.4 415.3h0.9v0.9h-0.9zM34.4 409.1h0.9v0.9h-0.9zM37.5 400.7h0.9v0.9h-0.9zM40.2 404.7h0.9v0.9h-0.9zM34.2 419.0h0.9v0.9h-0.9zM33.7 394.5h0.9v0.9h-0.9zM34.3 405.5h0.9v0.9h-0.9zM43.0 400.7h0.9v0.9h-0.9zM34.2 411.4h0.9v0.9h-0.9zM34.4 407.0h0.9v0.9h-0.9zM34.4 418.9h0.9v0.9h-0.9zM33.7 397.3h0.9v0.9h-0.9zM34.8 400.5h0.9v0.9h-0.9zM41.4 412.1h0.9v0.9h-0.9zM43.2 407.6h0.9v0.9h-0.9zM32.9 415.1h0.9v0.9h-0.9zM34.3 396.8h0.9v0.9h-0.9zM36.0 422.7h0.9v0.9h-0.9zM35.5 401.4h0.9v0.9h-0.9zM49.2 422.7h0.9v0.9h-0.9zM35.7 394.0h0.9v0.9h-0.9zM43.2 415.7h0.9v0.9h-0.9zM35.2 416.0h0.9v0.9h-0.9zM35.6 399.1h0.9v0.9h-0.9zM38.6 414.3h0.9v0.9h-0.9zM36.8 416.9h0.9v0.9h-0.9zM32.4 406.2h0.9v0.9h-0.9zM35.7 391.7h0.9v0.9h-0.9zM49.5 394.3h0.9v0.9h-0.9zM33.9 418.9h0.9v0.9h-0.9zM54.9 420.7h0.9v0.9h-0.9zM35.2 420.7h0.9v0.9h-0.9zM33.4 413.4h0.9v0.9h-0.9zM52.7 396.0h0.9v0.9h-0.9zM33.3 412.2h0.9v0.9h-0.9zM47.3 413.8h0.9v0.9h-0.9zM53.2 404.7h0.9v0.9h-0.9zM35.6 393.5h0.9v0.9h-0.9zM34.5 421.0h0.9v0.9h-0.9zM32.8 395.7h0.9v0.9h-0.9zM35.3 391.1h0.9v0.9h-0.9zM34.9 395.6h0.9v0.9h-0.9zM33.2 407.2h0.9v0.9h-0.9zM37.7 408.5h0.9v0.9h-0.9zM42.4 407.1h0.9v0.9h-0.9zM52.9 392.2h0.9v0.9h-0.9zM34.1 392.1h0.9v0.9h-0.9zM34.9 415.0h0.9v0.9h-0.9zM50.4 406.4h0.9v0.9h-0.9zM33.5 400.6h0.9v0.9h-0.9zM38.2 399.4h0.9v0.9h-0.9zM43.3 422.1h0.9v0.9h-0.9zM36.6 409.7h0.9v0.9h-0.9zM45.4 405.1h0.9v0.9h-0.9zM33.8 421.1h0.9v0.9h-0.9zM59.0 390.3h0.9v0.9h-0.9zM42.4 402.9h0.9v0.9h-0.9zM32.7 395.0h0.9v0.9h-0.9zM33.6 414.2h0.9v0.9h-0.9zM34.0 390.2h0.9v0.9h-0.9zM34.0 416.3h0.9v0.9h-0.9zM37.1 411.4h0.9v0.9h-0.9zM36.7 395.6h0.9v0.9h-0.9zM32.4 399.7h0.9v0.9h-0.9zM32.6 398.2h0.9v0.9h-0.9zM39.1 401.9h0.9v0.9h-0.9zM36.8 410.4h0.9v0.9h-0.9zM35.0 401.4h0.9v0.9h-0.9zM47.4 409.0h0.9v0.9h-0.9zM56.9 435.8h0.9v0.9h-0.9zM57.3 439.6h0.9v0.9h-0.9zM66.4 440.9h0.9v0.9h-0.9zM67.9 424.4h0.9v0.9h-0.9zM64.9 441.8h0.9v0.9h-0.9zM57.8 401.9h0.9v0.9h-0.9zM55.9 441.7h0.9v0.9h-0.9zM60.6 440.9h0.9v0.9h-0.9zM58.6 441.9h0.9v0.9h-0.9zM68.9 440.3h0.9v0.9h-0.9zM54.7 432.0h0.9v0.9h-0.9zM56.3 435.4h0.9v0.9h-0.9zM57.6 418.0h0.9v0.9h-0.9zM57.8 438.8h0.9v0.9h-0.9zM54.2 436.7h0.9v0.9h-0.9zM55.8 435.1h0.9v0.9h-0.9zM59.2 437.4h0.9v0.9h-0.9zM54.7 436.7h0.9v0.9h-0.9zM57.5 433.3h0.9v0.9h-0.9zM71.8 440.3h0.9v0.9h-0.9zM57.1 442.7h0.9v0.9h-0.9zM62.2 440.9h0.9v0.9h-0.9zM63.0 427.6h0.9v0.9h-0.9zM55.7 420.3h0.9v0.9h-0.9zM57.7 438.0h0.9v0.9h-0.9zM58.3 414.4h0.9v0.9h-0.9zM57.6 437.0h0.9v0.9h-0.9zM55.9 425.2h0.9v0.9h-0.9zM57.7 439.4h0.9v0.9h-0.9zM55.3 441.2h0.9v0.9h-0.9zM63.2 427.3h0.9v0.9h-0.9zM73.4 418.7h0.9v0.9h-0.9zM60.0 427.6h0.9v0.9h-0.9zM60.4 427.0h0.9v0.9h-0.9zM62.3 441.7h0.9v0.9h-0.9zM62.6 440.0h0.9v0.9h-0.9zM55.6 418.4h0.9v0.9h-0.9zM54.3 436.4h0.9v0.9h-0.9zM56.3 427.9h0.9v0.9h-0.9zM58.9 419.4h0.9v0.9h-0.9zM67.7 433.3h0.9v0.9h-0.9zM54.5 432.6h0.9v0.9h-0.9zM54.8 403.3h0.9v0.9h-0.9zM64.5 439.9h0.9v0.9h-0.9zM55.2 431.8h0.9v0.9h-0.9zM61.3 401.6h0.9v0.9h-0.9zM59.1 442.3h0.9v0.9h-0.9zM60.7 443.0h0.9v0.9h-0.9zM64.3 429.0h0.9v0.9h-0.9zM61.9 422.9h0.9v0.9h-0.9zM77.7 439.1h0.9v0.9h-0.9zM83.3 402.8h0.9v0.9h-0.9zM63.0 391.6h0.9v0.9h-0.9zM34.1 376.1h0.9v0.9h-0.9zM95.8 381.6h0.9v0.9h-0.9zM84.5 425.5h0.9v0.9h-0.9zM87.7 404.7h0.9v0.9h-0.9zM57.5 385.1h0.9v0.9h-0.9zM47.2 415.3h0.9v0.9h-0.9zM87.1 439.0h0.9v0.9h-0.9zM58.7 437.7h0.9v0.9h-0.9zM105.0 386.6h0.9v0.9h-0.9z" fill="#aaa"/>
<path d="M91.3 381.0h0.9v0.9h-0.9zM93.5 381.1h0.9v0.9h-0.9zM80.3 384.4h0.9v0.9h-0.9zM75.5 381.8h0.9v0.9h-0.9zM95.2 383.6h0.9v0.9h-0.9zM75.8 381.5h0.9v0.9h-0.9zM82.7 380.0h0.9v0.9h-0.9zM85.5 386.1h0.9v0.9h-0.9zM83.2 385.0h0.9v0.9h-0.9zM84.7 382.7h0.9v0.9h-0.9zM78.1 385.2h0.9v0.9h-0.9zM91.5 380.9h0.9v0.9h-0.9zM77.3 383.9h0.9v0.9h-0.9zM83.5 385.7h0.9v0.9h-0.9zM86.0 381.9h0.9v0.9h-0.9zM74.0 384.2h0.9v0.9h-0.9zM83.5 378.4h0.9v0.9h-0.9zM73.3 376.7h0.9v0.9h-0.9zM86.8 381.0h0.9v0.9h-0.9zM61.6 379.6h0.9v0.9h-0.9zM78.8 382.0h0.9v0.9h-0.9zM83.1 381.3h0.9v0.9h-0.9z" fill="#b0b0b0"/>
<g filter="url(#b0)">
<path d="M32.0 377.0h1.0v1.0h-1.0zM32.0 378.0h1.0v1.0h-1.0zM32.0 379.0h1.0v1.0h-1.0zM32.0 380.0h1.0v1.0h-1.0zM32.0 381.0h1.0v1.0h-1.0zM32.0 382.0h1.0v1.0h-1.0zM32.0 383.0h1.0v1.0h-1.0zM32.0 387.0h1.0v1.0h-1.0zM32.0 389.0h1.0v1.0h-1.0zM32.0 392.0h1.0v1.0h-1.0zM32.0 393.0h1.0v1.0h-1.0zM32.0 394.0h1.0v1.0h-1.0zM32.0 395.0h1.0v1.0h-1.0zM33.0 376.0h1.0v1.0h-1.0zM33.0 378.0h1.0v1.0h-1.0zM33.0 380.0h1.0v1.0h-1.0zM33.0 385.0h1.0v1.0h-1.0zM33.0 386.0h1.0v1.0h-1.0zM33.0 387.0h1.0v1.0h-1.0zM33.0 389.0h1.0v1.0h-1.0zM33.0 391.0h1.0v1.0h-1.0zM34.0 378.0h1.0v1.0h-1.0zM34.0 379.0h1.0v1.0h-1.0zM34.0 380.0h1.0v1.0h-1.0zM34.0 382.0h1.0v1.0h-1.0zM34.0 383.0h1.0v1.0h-1.0zM34.0 384.0h1.0v1.0h-1.0zM34.0 385.0h1.0v1.0h-1.0zM34.0 386.0h1.0v1.0h-1.0zM34.0 387.0h1.0v1.0h-1.0zM34.0 388.0h1.0v1.0h-1.0zM34.0 389.0h1.0v1.0h-1.0zM34.0 390.0h1.0v1.0h-1.0zM35.0 377.0h1.0v1.0h-1.0zM35.0 378.0h1.0v1.0h-1.0zM35.0 379.0h1.0v1.0h-1.0zM35.0 380.0h1.0v1.0h-1.0zM35.0 383.0h1.0v1.0h-1.0zM35.0 384.0h1.0v1.0h-1.0zM35.0 385.0h1.0v1.0h-1.0zM35.0 386.0h1.0v1.0h-1.0zM35.0 387.0h1.0v1.0h-1.0zM35.0 390.0h1.0v1.0h-1.0zM36.0 377.0h1.0v1.0h-1.0zM36.0 378.0h1.0v1.0h-1.0zM36.0 383.0h1.0v1.0h-1.0zM36.0 385.0h1.0v1.0h-1.0zM36.0 386.0h1.0v1.0h-1.0zM36.0 387.0h1.0v1.0h-1.0zM36.0 388.0h1.0v1.0h-1.0zM36.0 389.0h1.0v1.0h-1.0zM36.0 390.0h1.0v1.0h-1.0zM36.0 395.0h1.0v1.0h-1.0zM37.0 378.0h1.0v1.0h-1.0zM37.0 379.0h1.0v1.0h-1.0zM37.0 380.0h1.0v1.0h-1.0zM37.0 382.0h1.0v1.0h-1.0zM37.0 383.0h1.0v1.0h-1.0zM37.0 384.0h1.0v1.0h-1.0zM37.0 385.0h1.0v1.0h-1.0zM37.0 386.0h1.0v1.0h-1.0zM37.0 387.0h1.0v1.0h-1.0zM37.0 388.0h1.0v1.0h-1.0zM37.0 389.0h1.0v1.0h-1.0zM38.0 378.0h1.0v1.0h-1.0zM38.0 380.0h1.0v1.0h-1.0zM38.0 381.0h1.0v1.0h-1.0zM38.0 382.0h1.0v1.0h-1.0zM38.0 383.0h1.0v1.0h-1.0zM38.0 384.0h1.0v1.0h-1.0zM38.0 386.0h1.0v1.0h-1.0zM38.0 388.0h1.0v1.0h-1.0zM38.0 395.0h1.0v1.0h-1.0zM39.0 376.0h1.0v1.0h-1.0zM39.0 378.0h1.0v1.0h-1.0zM39.0 381.0h1.0v1.0h-1.0zM39.0 382.0h1.0v1.0h-1.0zM39.0 383.0h1.0v1.0h-1.0zM39.0 384.0h1.0v1.0h-1.0zM39.0 385.0h1.0v1.0h-1.0zM39.0 386.0h1.0v1.0h-1.0zM39.0 388.0h1.0v1.0h-1.0zM39.0 389.0h1.0v1.0h-1.0zM39.0 390.0h1.0v1.0h-1.0zM40.0 379.0h1.0v1.0h-1.0zM40.0 381.0h1.0v1.0h-1.0zM40.0 382.0h1.0v1.0h-1.0zM40.0 383.0h1.0v1.0h-1.0zM40.0 385.0h1.0v1.0h-1.0zM40.0 386.0h1.0v1.0h-1.0zM40.0 387.0h1.0v1.0h-1.0zM40.0 389.0h1.0v1.0h-1.0zM41.0 374.0h1.0v1.0h-1.0zM41.0 376.0h1.0v1.0h-1.0zM41.0 377.0h1.0v1.0h-1.0zM41.0 378.0h1.0v1.0h-1.0zM41.0 379.0h1.0v1.0h-1.0zM41.0 381.0h1.0v1.0h-1.0zM41.0 383.0h1.0v1.0h-1.0zM41.0 385.0h1.0v1.0h-1.0zM41.0 386.0h1.0v1.0h-1.0zM41.0 387.0h1.0v1.0h-1.0zM41.0 388.0h1.0v1.0h-1.0zM41.0 389.0h1.0v1.0h-1.0zM41.0 392.0h1.0v1.0h-1.0zM42.0 377.0h1.0v1.0h-1.0zM42.0 378.0h1.0v1.0h-1.0zM42.0 379.0h1.0v1.0h-1.0zM42.0 380.0h1.0v1.0h-1.0zM42.0 381.0h1.0v1.0h-1.0zM42.0 382.0h1.0v1.0h-1.0zM42.0 383.0h1.0v1.0h-1.0zM42.0 384.0h1.0v1.0h-1.0zM42.0 386.0h1.0v1.0h-1.0zM42.0 387.0h1.0v1.0h-1.0zM42.0 388.0h1.0v1.0h-1.0zM43.0 377.0h1.0v1.0h-1.0zM43.0 378.0h1.0v1.0h-1.0zM43.0 380.0h1.0v1.0h-1.0zM43.0 381.0h1.0v1.0h-1.0zM43.0 382.0h1.0v1.0h-1.0zM43.0 383.0h1.0v1.0h-1.0zM43.0 384.0h1.0v1.0h-1.0zM43.0 386.0h1.0v1.0h-1.0zM43.0 387.0h1.0v1.0h-1.0zM43.0 388.0h1.0v1.0h-1.0zM43.0 389.0h1.0v1.0h-1.0zM43.0 391.0h1.0v1.0h-1.0zM44.0 376.0h1.0v1.0h-1.0zM44.0 377.0h1.0v1.0h-1.0zM44.0 380.0h1.0v1.0h-1.0zM44.0 381.0h1.0v1.0h-1.0zM44.0 383.0h1.0v1.0h-1.0zM44.0 384.0h1.0v1.0h-1.0zM44.0 386.0h1.0v1.0h-1.0zM44.0 387.0h1.0v1.0h-1.0zM44.0 390.0h1.0v1.0h-1.0zM45.0 378.0h1.0v1.0h-1.0zM45.0 379.0h1.0v1.0h-1.0zM45.0 380.0h1.0v1.0h-1.0zM45.0 381.0h1.0v1.0h-1.0zM45.0 382.0h1.0v1.0h-1.0zM45.0 383.0h1.0v1.0h-1.0zM45.0 384.0h1.0v1.0h-1.0zM45.0 385.0h1.0v1.0h-1.0zM45.0 386.0h1.0v1.0h-1.0zM45.0 387.0h1.0v1.0h-1.0zM45.0 388.0h1.0v1.0h-1.0zM45.0 390.0h1.0v1.0h-1.0zM45.0 391.0h1.0v1.0h-1.0zM46.0 374.0h1.0v1.0h-1.0zM46.0 378.0h1.0v1.0h-1.0zM46.0 382.0h1.0v1.0h-1.0zM46.0 383.0h1.0v1.0h-1.0zM46.0 385.0h1.0v1.0h-1.0zM46.0 386.0h1.0v1.0h-1.0zM46.0 388.0h1.0v1.0h-1.0zM46.0 391.0h1.0v1.0h-1.0zM46.0 393.0h1.0v1.0h-1.0zM47.0 378.0h1.0v1.0h-1.0zM47.0 380.0h1.0v1.0h-1.0zM47.0 381.0h1.0v1.0h-1.0zM47.0 383.0h1.0v1.0h-1.0zM47.0 384.0h1.0v1.0h-1.0zM47.0 386.0h1.0v1.0h-1.0zM47.0 388.0h1.0v1.0h-1.0zM47.0 389.0h1.0v1.0h-1.0zM47.0 390.0h1.0v1.0h-1.0zM47.0 397.0h1.0v1.0h-1.0zM48.0 378.0h1.0v1.0h-1.0zM48.0 379.0h1.0v1.0h-1.0zM48.0 380.0h1.0v1.0h-1.0zM48.0 381.0h1.0v1.0h-1.0zM48.0 382.0h1.0v1.0h-1.0zM48.0 383.0h1.0v1.0h-1.0zM48.0 384.0h1.0v1.0h-1.0zM48.0 385.0h1.0v1.0h-1.0zM48.0 387.0h1.0v1.0h-1.0zM48.0 389.0h1.0v1.0h-1.0zM48.0 402.0h1.0v1.0h-1.0zM49.0 378.0h1.0v1.0h-1.0zM49.0 380.0h1.0v1.0h-1.0zM49.0 381.0h1.0v1.0h-1.0zM49.0 382.0h1.0v1.0h-1.0zM49.0 384.0h1.0v1.0h-1.0zM49.0 385.0h1.0v1.0h-1.0zM49.0 386.0h1.0v1.0h-1.0zM49.0 387.0h1.0v1.0h-1.0zM49.0 389.0h1.0v1.0h-1.0zM49.0 390.0h1.0v1.0h-1.0zM49.0 395.0h1.0v1.0h-1.0zM49.0 396.0h1.0v1.0h-1.0zM50.0 378.0h1.0v1.0h-1.0zM50.0 379.0h1.0v1.0h-1.0zM50.0 380.0h1.0v1.0h-1.0zM50.0 381.0h1.0v1.0h-1.0zM50.0 383.0h1.0v1.0h-1.0zM50.0 385.0h1.0v1.0h-1.0zM50.0 386.0h1.0v1.0h-1.0zM50.0 387.0h1.0v1.0h-1.0zM50.0 388.0h1.0v1.0h-1.0zM50.0 389.0h1.0v1.0h-1.0zM51.0 376.0h1.0v1.0h-1.0zM51.0 377.0h1.0v1.0h-1.0zM51.0 378.0h1.0v1.0h-1.0zM51.0 381.0h1.0v1.0h-1.0zM51.0 383.0h1.0v1.0h-1.0zM51.0 384.0h1.0v1.0h-1.0zM51.0 385.0h1.0v1.0h-1.0zM51.0 386.0h1.0v1.0h-1.0zM51.0 387.0h1.0v1.0h-1.0zM51.0 388.0h1.0v1.0h-1.0zM51.0 389.0h1.0v1.0h-1.0zM51.0 390.0h1.0v1.0h-1.0zM51.0 392.0h1.0v1.0h-1.0zM51.0 396.0h1.0v1.0h-1.0zM52.0 380.0h1.0v1.0h-1.0zM52.0 382.0h1.0v1.0h-1.0zM52.0 386.0h1.0v1.0h-1.0zM52.0 387.0h1.0v1.0h-1.0zM52.0 388.0h1.0v1.0h-1.0zM52.0 389.0h1.0v1.0h-1.0zM52.0 390.0h1.0v1.0h-1.0zM52.0 393.0h1.0v1.0h-1.0zM53.0 384.0h1.0v1.0h-1.0zM53.0 388.0h1.0v1.0h-1.0zM53.0 390.0h1.0v1.0h-1.0zM54.0 378.0h1.0v1.0h-1.0zM54.0 383.0h1.0v1.0h-1.0zM54.0 388.0h1.0v1.0h-1.0zM55.0 386.0h1.0v1.0h-1.0z" fill="#333"/>
<path d="M28.299999999999997 424.2 H51.0 Q53.0 424.2 53.0 426.2 V447.6 H28.299999999999997 Z" fill="#141414"/>
<path d="M32.0 423.0h1.0v1.0h-1.0zM32.0 424.0h1.0v1.0h-1.0zM32.0 425.0h1.0v1.0h-1.0zM32.0 426.0h1.0v1.0h-1.0zM32.0 427.0h1.0v1.0h-1.0zM32.0 428.0h1.0v1.0h-1.0zM32.0 429.0h1.0v1.0h-1.0zM32.0 430.0h1.0v1.0h-1.0zM32.0 431.0h1.0v1.0h-1.0zM32.0 432.0h1.0v1.0h-1.0zM32.0 433.0h1.0v1.0h-1.0zM32.0 434.0h1.0v1.0h-1.0zM32.0 435.0h1.0v1.0h-1.0zM32.0 436.0h1.0v1.0h-1.0zM32.0 437.0h1.0v1.0h-1.0zM32.0 438.0h1.0v1.0h-1.0zM32.0 439.0h1.0v1.0h-1.0zM32.0 440.0h1.0v1.0h-1.0zM32.0 441.0h1.0v1.0h-1.0zM32.0 442.0h1.0v1.0h-1.0zM32.0 443.0h1.0v1.0h-1.0zM32.0 444.0h1.0v1.0h-1.0zM33.0 423.0h1.0v1.0h-1.0zM33.0 424.0h1.0v1.0h-1.0zM33.0 425.0h1.0v1.0h-1.0zM33.0 426.0h1.0v1.0h-1.0zM33.0 427.0h1.0v1.0h-1.0zM33.0 428.0h1.0v1.0h-1.0zM33.0 429.0h1.0v1.0h-1.0zM33.0 430.0h1.0v1.0h-1.0zM33.0 431.0h1.0v1.0h-1.0zM33.0 432.0h1.0v1.0h-1.0zM33.0 433.0h1.0v1.0h-1.0zM33.0 434.0h1.0v1.0h-1.0zM33.0 435.0h1.0v1.0h-1.0zM33.0 436.0h1.0v1.0h-1.0zM33.0 437.0h1.0v1.0h-1.0zM33.0 438.0h1.0v1.0h-1.0zM33.0 439.0h1.0v1.0h-1.0zM33.0 440.0h1.0v1.0h-1.0zM33.0 441.0h1.0v1.0h-1.0zM33.0 442.0h1.0v1.0h-1.0zM33.0 443.0h1.0v1.0h-1.0zM33.0 444.0h1.0v1.0h-1.0zM34.0 424.0h1.0v1.0h-1.0zM34.0 425.0h1.0v1.0h-1.0zM34.0 426.0h1.0v1.0h-1.0zM34.0 427.0h1.0v1.0h-1.0zM34.0 428.0h1.0v1.0h-1.0zM34.0 429.0h1.0v1.0h-1.0zM34.0 430.0h1.0v1.0h-1.0zM34.0 431.0h1.0v1.0h-1.0zM34.0 432.0h1.0v1.0h-1.0zM34.0 433.0h1.0v1.0h-1.0zM34.0 434.0h1.0v1.0h-1.0zM34.0 435.0h1.0v1.0h-1.0zM34.0 436.0h1.0v1.0h-1.0zM34.0 437.0h1.0v1.0h-1.0zM34.0 438.0h1.0v1.0h-1.0zM34.0 439.0h1.0v1.0h-1.0zM34.0 440.0h1.0v1.0h-1.0zM34.0 441.0h1.0v1.0h-1.0zM34.0 442.0h1.0v1.0h-1.0zM34.0 443.0h1.0v1.0h-1.0zM34.0 444.0h1.0v1.0h-1.0zM35.0 423.0h1.0v1.0h-1.0zM35.0 424.0h1.0v1.0h-1.0zM35.0 425.0h1.0v1.0h-1.0zM35.0 426.0h1.0v1.0h-1.0zM35.0 427.0h1.0v1.0h-1.0zM35.0 428.0h1.0v1.0h-1.0zM35.0 429.0h1.0v1.0h-1.0zM35.0 430.0h1.0v1.0h-1.0zM35.0 431.0h1.0v1.0h-1.0zM35.0 432.0h1.0v1.0h-1.0zM35.0 433.0h1.0v1.0h-1.0zM35.0 434.0h1.0v1.0h-1.0zM35.0 435.0h1.0v1.0h-1.0zM35.0 436.0h1.0v1.0h-1.0zM35.0 437.0h1.0v1.0h-1.0zM35.0 438.0h1.0v1.0h-1.0zM35.0 439.0h1.0v1.0h-1.0zM35.0 440.0h1.0v1.0h-1.0zM35.0 441.0h1.0v1.0h-1.0zM35.0 442.0h1.0v1.0h-1.0zM35.0 443.0h1.0v1.0h-1.0zM35.0 444.0h1.0v1.0h-1.0zM36.0 423.0h1.0v1.0h-1.0zM36.0 424.0h1.0v1.0h-1.0zM36.0 425.0h1.0v1.0h-1.0zM36.0 426.0h1.0v1.0h-1.0zM36.0 427.0h1.0v1.0h-1.0zM36.0 428.0h1.0v1.0h-1.0zM36.0 429.0h1.0v1.0h-1.0zM36.0 430.0h1.0v1.0h-1.0zM36.0 431.0h1.0v1.0h-1.0zM36.0 432.0h1.0v1.0h-1.0zM36.0 433.0h1.0v1.0h-1.0zM36.0 434.0h1.0v1.0h-1.0zM36.0 435.0h1.0v1.0h-1.0zM36.0 436.0h1.0v1.0h-1.0zM36.0 437.0h1.0v1.0h-1.0zM36.0 438.0h1.0v1.0h-1.0zM36.0 439.0h1.0v1.0h-1.0zM36.0 440.0h1.0v1.0h-1.0zM36.0 441.0h1.0v1.0h-1.0zM36.0 442.0h1.0v1.0h-1.0zM36.0 443.0h1.0v1.0h-1.0zM36.0 444.0h1.0v1.0h-1.0zM37.0 423.0h1.0v1.0h-1.0zM37.0 424.0h1.0v1.0h-1.0zM37.0 425.0h1.0v1.0h-1.0zM37.0 426.0h1.0v1.0h-1.0zM37.0 427.0h1.0v1.0h-1.0zM37.0 428.0h1.0v1.0h-1.0zM37.0 429.0h1.0v1.0h-1.0zM37.0 430.0h1.0v1.0h-1.0zM37.0 431.0h1.0v1.0h-1.0zM37.0 432.0h1.0v1.0h-1.0zM37.0 433.0h1.0v1.0h-1.0zM37.0 434.0h1.0v1.0h-1.0zM37.0 435.0h1.0v1.0h-1.0zM37.0 436.0h1.0v1.0h-1.0zM37.0 437.0h1.0v1.0h-1.0zM37.0 438.0h1.0v1.0h-1.0zM37.0 439.0h1.0v1.0h-1.0zM37.0 440.0h1.0v1.0h-1.0zM37.0 441.0h1.0v1.0h-1.0zM37.0 442.0h1.0v1.0h-1.0zM37.0 443.0h1.0v1.0h-1.0zM37.0 444.0h1.0v1.0h-1.0zM38.0 420.0h1.0v1.0h-1.0zM38.0 421.0h1.0v1.0h-1.0zM38.0 422.0h1.0v1.0h-1.0zM38.0 424.0h1.0v1.0h-1.0zM38.0 425.0h1.0v1.0h-1.0zM38.0 426.0h1.0v1.0h-1.0zM38.0 427.0h1.0v1.0h-1.0zM38.0 428.0h1.0v1.0h-1.0zM38.0 429.0h1.0v1.0h-1.0zM38.0 430.0h1.0v1.0h-1.0zM38.0 431.0h1.0v1.0h-1.0zM38.0 432.0h1.0v1.0h-1.0zM38.0 433.0h1.0v1.0h-1.0zM38.0 434.0h1.0v1.0h-1.0zM38.0 435.0h1.0v1.0h-1.0zM38.0 436.0h1.0v1.0h-1.0zM38.0 437.0h1.0v1.0h-1.0zM38.0 438.0h1.0v1.0h-1.0zM38.0 439.0h1.0v1.0h-1.0zM38.0 440.0h1.0v1.0h-1.0zM38.0 441.0h1.0v1.0h-1.0zM38.0 442.0h1.0v1.0h-1.0zM38.0 443.0h1.0v1.0h-1.0zM38.0 444.0h1.0v1.0h-1.0zM39.0 424.0h1.0v1.0h-1.0zM39.0 425.0h1.0v1.0h-1.0zM39.0 426.0h1.0v1.0h-1.0zM39.0 427.0h1.0v1.0h-1.0zM39.0 428.0h1.0v1.0h-1.0zM39.0 429.0h1.0v1.0h-1.0zM39.0 430.0h1.0v1.0h-1.0zM39.0 431.0h1.0v1.0h-1.0zM39.0 432.0h1.0v1.0h-1.0zM39.0 433.0h1.0v1.0h-1.0zM39.0 434.0h1.0v1.0h-1.0zM39.0 435.0h1.0v1.0h-1.0zM39.0 436.0h1.0v1.0h-1.0zM39.0 437.0h1.0v1.0h-1.0zM39.0 438.0h1.0v1.0h-1.0zM39.0 439.0h1.0v1.0h-1.0zM39.0 440.0h1.0v1.0h-1.0zM39.0 441.0h1.0v1.0h-1.0zM39.0 442.0h1.0v1.0h-1.0zM39.0 443.0h1.0v1.0h-1.0zM39.0 444.0h1.0v1.0h-1.0zM40.0 420.0h1.0v1.0h-1.0zM40.0 423.0h1.0v1.0h-1.0zM40.0 424.0h1.0v1.0h-1.0zM40.0 425.0h1.0v1.0h-1.0zM40.0 426.0h1.0v1.0h-1.0zM40.0 427.0h1.0v1.0h-1.0zM40.0 428.0h1.0v1.0h-1.0zM40.0 429.0h1.0v1.0h-1.0zM40.0 430.0h1.0v1.0h-1.0zM40.0 431.0h1.0v1.0h-1.0zM40.0 432.0h1.0v1.0h-1.0zM40.0 433.0h1.0v1.0h-1.0zM40.0 434.0h1.0v1.0h-1.0zM40.0 435.0h1.0v1.0h-1.0zM40.0 436.0h1.0v1.0h-1.0zM40.0 437.0h1.0v1.0h-1.0zM40.0 438.0h1.0v1.0h-1.0zM40.0 439.0h1.0v1.0h-1.0zM40.0 440.0h1.0v1.0h-1.0zM40.0 441.0h1.0v1.0h-1.0zM40.0 442.0h1.0v1.0h-1.0zM40.0 443.0h1.0v1.0h-1.0zM40.0 444.0h1.0v1.0h-1.0zM41.0 419.0h1.0v1.0h-1.0zM41.0 422.0h1.0v1.0h-1.0zM41.0 423.0h1.0v1.0h-1.0zM41.0 424.0h1.0v1.0h-1.0zM41.0 425.0h1.0v1.0h-1.0zM41.0 426.0h1.0v1.0h-1.0zM41.0 427.0h1.0v1.0h-1.0zM41.0 428.0h1.0v1.0h-1.0zM41.0 429.0h1.0v1.0h-1.0zM41.0 430.0h1.0v1.0h-1.0zM41.0 431.0h1.0v1.0h-1.0zM41.0 432.0h1.0v1.0h-1.0zM41.0 433.0h1.0v1.0h-1.0zM41.0 434.0h1.0v1.0h-1.0zM41.0 435.0h1.0v1.0h-1.0zM41.0 436.0h1.0v1.0h-1.0zM41.0 437.0h1.0v1.0h-1.0zM41.0 438.0h1.0v1.0h-1.0zM41.0 439.0h1.0v1.0h-1.0zM41.0 440.0h1.0v1.0h-1.0zM41.0 441.0h1.0v1.0h-1.0zM41.0 442.0h1.0v1.0h-1.0zM41.0 443.0h1.0v1.0h-1.0zM41.0 444.0h1.0v1.0h-1.0zM42.0 423.0h1.0v1.0h-1.0zM42.0 424.0h1.0v1.0h-1.0zM42.0 425.0h1.0v1.0h-1.0zM42.0 426.0h1.0v1.0h-1.0zM42.0 427.0h1.0v1.0h-1.0zM42.0 428.0h1.0v1.0h-1.0zM42.0 429.0h1.0v1.0h-1.0zM42.0 430.0h1.0v1.0h-1.0zM42.0 431.0h1.0v1.0h-1.0zM42.0 432.0h1.0v1.0h-1.0zM42.0 433.0h1.0v1.0h-1.0zM42.0 434.0h1.0v1.0h-1.0zM42.0 435.0h1.0v1.0h-1.0zM42.0 436.0h1.0v1.0h-1.0zM42.0 437.0h1.0v1.0h-1.0zM42.0 438.0h1.0v1.0h-1.0zM42.0 439.0h1.0v1.0h-1.0zM42.0 440.0h1.0v1.0h-1.0zM42.0 441.0h1.0v1.0h-1.0zM42.0 442.0h1.0v1.0h-1.0zM42.0 443.0h1.0v1.0h-1.0zM42.0 444.0h1.0v1.0h-1.0zM43.0 421.0h1.0v1.0h-1.0zM43.0 423.0h1.0v1.0h-1.0zM43.0 424.0h1.0v1.0h-1.0zM43.0 425.0h1.0v1.0h-1.0zM43.0 426.0h1.0v1.0h-1.0zM43.0 427.0h1.0v1.0h-1.0zM43.0 428.0h1.0v1.0h-1.0zM43.0 429.0h1.0v1.0h-1.0zM43.0 430.0h1.0v1.0h-1.0zM43.0 431.0h1.0v1.0h-1.0zM43.0 432.0h1.0v1.0h-1.0zM43.0 433.0h1.0v1.0h-1.0zM43.0 434.0h1.0v1.0h-1.0zM43.0 435.0h1.0v1.0h-1.0zM43.0 436.0h1.0v1.0h-1.0zM43.0 437.0h1.0v1.0h-1.0zM43.0 438.0h1.0v1.0h-1.0zM43.0 439.0h1.0v1.0h-1.0zM43.0 440.0h1.0v1.0h-1.0zM43.0 441.0h1.0v1.0h-1.0zM43.0 442.0h1.0v1.0h-1.0zM43.0 443.0h1.0v1.0h-1.0zM43.0 444.0h1.0v1.0h-1.0zM44.0 419.0h1.0v1.0h-1.0zM44.0 420.0h1.0v1.0h-1.0zM44.0 422.0h1.0v1.0h-1.0zM44.0 423.0h1.0v1.0h-1.0zM44.0 424.0h1.0v1.0h-1.0zM44.0 425.0h1.0v1.0h-1.0zM44.0 426.0h1.0v1.0h-1.0zM44.0 427.0h1.0v1.0h-1.0zM44.0 428.0h1.0v1.0h-1.0zM44.0 429.0h1.0v1.0h-1.0zM44.0 430.0h1.0v1.0h-1.0zM44.0 431.0h1.0v1.0h-1.0zM44.0 432.0h1.0v1.0h-1.0zM44.0 433.0h1.0v1.0h-1.0zM44.0 434.0h1.0v1.0h-1.0zM44.0 435.0h1.0v1.0h-1.0zM44.0 436.0h1.0v1.0h-1.0zM44.0 437.0h1.0v1.0h-1.0zM44.0 438.0h1.0v1.0h-1.0zM44.0 439.0h1.0v1.0h-1.0zM44.0 440.0h1.0v1.0h-1.0zM44.0 441.0h1.0v1.0h-1.0zM44.0 442.0h1.0v1.0h-1.0zM44.0 443.0h1.0v1.0h-1.0zM44.0 444.0h1.0v1.0h-1.0zM45.0 424.0h1.0v1.0h-1.0zM45.0 425.0h1.0v1.0h-1.0zM45.0 426.0h1.0v1.0h-1.0zM45.0 427.0h1.0v1.0h-1.0zM45.0 428.0h1.0v1.0h-1.0zM45.0 429.0h1.0v1.0h-1.0zM45.0 430.0h1.0v1.0h-1.0zM45.0 431.0h1.0v1.0h-1.0zM45.0 432.0h1.0v1.0h-1.0zM45.0 433.0h1.0v1.0h-1.0zM45.0 434.0h1.0v1.0h-1.0zM45.0 435.0h1.0v1.0h-1.0zM45.0 436.0h1.0v1.0h-1.0zM45.0 437.0h1.0v1.0h-1.0zM45.0 438.0h1.0v1.0h-1.0zM45.0 439.0h1.0v1.0h-1.0zM45.0 440.0h1.0v1.0h-1.0zM45.0 441.0h1.0v1.0h-1.0zM45.0 442.0h1.0v1.0h-1.0zM45.0 443.0h1.0v1.0h-1.0zM45.0 444.0h1.0v1.0h-1.0zM46.0 424.0h1.0v1.0h-1.0zM46.0 425.0h1.0v1.0h-1.0zM46.0 426.0h1.0v1.0h-1.0zM46.0 427.0h1.0v1.0h-1.0zM46.0 428.0h1.0v1.0h-1.0zM46.0 429.0h1.0v1.0h-1.0zM46.0 430.0h1.0v1.0h-1.0zM46.0 431.0h1.0v1.0h-1.0zM46.0 432.0h1.0v1.0h-1.0zM46.0 433.0h1.0v1.0h-1.0zM46.0 434.0h1.0v1.0h-1.0zM46.0 435.0h1.0v1.0h-1.0zM46.0 436.0h1.0v1.0h-1.0zM46.0 437.0h1.0v1.0h-1.0zM46.0 438.0h1.0v1.0h-1.0zM46.0 439.0h1.0v1.0h-1.0zM46.0 440.0h1.0v1.0h-1.0zM46.0 441.0h1.0v1.0h-1.0zM46.0 442.0h1.0v1.0h-1.0zM46.0 443.0h1.0v1.0h-1.0zM46.0 444.0h1.0v1.0h-1.0zM47.0 423.0h1.0v1.0h-1.0zM47.0 424.0h1.0v1.0h-1.0zM47.0 425.0h1.0v1.0h-1.0zM47.0 426.0h1.0v1.0h-1.0zM47.0 427.0h1.0v1.0h-1.0zM47.0 428.0h1.0v1.0h-1.0zM47.0 429.0h1.0v1.0h-1.0zM47.0 430.0h1.0v1.0h-1.0zM47.0 431.0h1.0v1.0h-1.0zM47.0 432.0h1.0v1.0h-1.0zM47.0 433.0h1.0v1.0h-1.0zM47.0 434.0h1.0v1.0h-1.0zM47.0 435.0h1.0v1.0h-1.0zM47.0 436.0h1.0v1.0h-1.0zM47.0 437.0h1.0v1.0h-1.0zM47.0 438.0h1.0v1.0h-1.0zM47.0 439.0h1.0v1.0h-1.0zM47.0 440.0h1.0v1.0h-1.0zM47.0 441.0h1.0v1.0h-1.0zM47.0 442.0h1.0v1.0h-1.0zM47.0 443.0h1.0v1.0h-1.0zM47.0 444.0h1.0v1.0h-1.0zM48.0 421.0h1.0v1.0h-1.0zM48.0 424.0h1.0v1.0h-1.0zM48.0 425.0h1.0v1.0h-1.0zM48.0 426.0h1.0v1.0h-1.0zM48.0 427.0h1.0v1.0h-1.0zM48.0 428.0h1.0v1.0h-1.0zM48.0 429.0h1.0v1.0h-1.0zM48.0 430.0h1.0v1.0h-1.0zM48.0 431.0h1.0v1.0h-1.0zM48.0 432.0h1.0v1.0h-1.0zM48.0 433.0h1.0v1.0h-1.0zM48.0 434.0h1.0v1.0h-1.0zM48.0 435.0h1.0v1.0h-1.0zM48.0 436.0h1.0v1.0h-1.0zM48.0 437.0h1.0v1.0h-1.0zM48.0 438.0h1.0v1.0h-1.0zM48.0 439.0h1.0v1.0h-1.0zM48.0 440.0h1.0v1.0h-1.0zM48.0 441.0h1.0v1.0h-1.0zM48.0 442.0h1.0v1.0h-1.0zM48.0 443.0h1.0v1.0h-1.0zM48.0 444.0h1.0v1.0h-1.0zM49.0 422.0h1.0v1.0h-1.0zM49.0 424.0h1.0v1.0h-1.0zM49.0 425.0h1.0v1.0h-1.0zM49.0 426.0h1.0v1.0h-1.0zM49.0 427.0h1.0v1.0h-1.0zM49.0 428.0h1.0v1.0h-1.0zM49.0 429.0h1.0v1.0h-1.0zM49.0 430.0h1.0v1.0h-1.0zM49.0 431.0h1.0v1.0h-1.0zM49.0 432.0h1.0v1.0h-1.0zM49.0 433.0h1.0v1.0h-1.0zM49.0 434.0h1.0v1.0h-1.0zM49.0 435.0h1.0v1.0h-1.0zM49.0 436.0h1.0v1.0h-1.0zM49.0 437.0h1.0v1.0h-1.0zM49.0 438.0h1.0v1.0h-1.0zM49.0 439.0h1.0v1.0h-1.0zM49.0 440.0h1.0v1.0h-1.0zM49.0 441.0h1.0v1.0h-1.0zM49.0 442.0h1.0v1.0h-1.0zM49.0 443.0h1.0v1.0h-1.0zM49.0 444.0h1.0v1.0h-1.0zM50.0 422.0h1.0v1.0h-1.0zM50.0 423.0h1.0v1.0h-1.0zM50.0 424.0h1.0v1.0h-1.0zM50.0 425.0h1.0v1.0h-1.0zM50.0 426.0h1.0v1.0h-1.0zM50.0 427.0h1.0v1.0h-1.0zM50.0 428.0h1.0v1.0h-1.0zM50.0 429.0h1.0v1.0h-1.0zM50.0 430.0h1.0v1.0h-1.0zM50.0 431.0h1.0v1.0h-1.0zM50.0 432.0h1.0v1.0h-1.0zM50.0 433.0h1.0v1.0h-1.0zM50.0 434.0h1.0v1.0h-1.0zM50.0 435.0h1.0v1.0h-1.0zM50.0 436.0h1.0v1.0h-1.0zM50.0 437.0h1.0v1.0h-1.0zM50.0 438.0h1.0v1.0h-1.0zM50.0 439.0h1.0v1.0h-1.0zM50.0 440.0h1.0v1.0h-1.0zM50.0 441.0h1.0v1.0h-1.0zM50.0 442.0h1.0v1.0h-1.0zM50.0 443.0h1.0v1.0h-1.0zM50.0 444.0h1.0v1.0h-1.0zM51.0 423.0h1.0v1.0h-1.0zM51.0 424.0h1.0v1.0h-1.0zM51.0 425.0h1.0v1.0h-1.0zM51.0 426.0h1.0v1.0h-1.0zM51.0 427.0h1.0v1.0h-1.0zM51.0 428.0h1.0v1.0h-1.0zM51.0 429.0h1.0v1.0h-1.0zM51.0 430.0h1.0v1.0h-1.0zM51.0 431.0h1.0v1.0h-1.0zM51.0 432.0h1.0v1.0h-1.0zM51.0 433.0h1.0v1.0h-1.0zM51.0 434.0h1.0v1.0h-1.0zM51.0 435.0h1.0v1.0h-1.0zM51.0 436.0h1.0v1.0h-1.0zM51.0 437.0h1.0v1.0h-1.0zM51.0 438.0h1.0v1.0h-1.0zM51.0 439.0h1.0v1.0h-1.0zM51.0 440.0h1.0v1.0h-1.0zM51.0 441.0h1.0v1.0h-1.0zM51.0 442.0h1.0v1.0h-1.0zM51.0 443.0h1.0v1.0h-1.0zM51.0 444.0h1.0v1.0h-1.0zM52.0 424.0h1.0v1.0h-1.0zM52.0 425.0h1.0v1.0h-1.0zM52.0 426.0h1.0v1.0h-1.0zM52.0 427.0h1.0v1.0h-1.0zM52.0 428.0h1.0v1.0h-1.0zM52.0 429.0h1.0v1.0h-1.0zM52.0 430.0h1.0v1.0h-1.0zM52.0 431.0h1.0v1.0h-1.0zM52.0 432.0h1.0v1.0h-1.0zM52.0 433.0h1.0v1.0h-1.0zM52.0 434.0h1.0v1.0h-1.0zM52.0 435.0h1.0v1.0h-1.0zM52.0 436.0h1.0v1.0h-1.0zM52.0 437.0h1.0v1.0h-1.0zM52.0 438.0h1.0v1.0h-1.0zM52.0 439.0h1.0v1.0h-1.0zM52.0 440.0h1.0v1.0h-1.0zM52.0 441.0h1.0v1.0h-1.0zM52.0 442.0h1.0v1.0h-1.0zM52.0 443.0h1.0v1.0h-1.0zM52.0 444.0h1.0v1.0h-1.0zM53.0 418.0h1.0v1.0h-1.0zM53.0 422.0h1.0v1.0h-1.0zM53.0 423.0h1.0v1.0h-1.0zM53.0 424.0h1.0v1.0h-1.0zM53.0 426.0h1.0v1.0h-1.0zM53.0 427.0h1.0v1.0h-1.0zM53.0 428.0h1.0v1.0h-1.0zM53.0 429.0h1.0v1.0h-1.0zM53.0 430.0h1.0v1.0h-1.0zM53.0 431.0h1.0v1.0h-1.0zM53.0 432.0h1.0v1.0h-1.0zM53.0 433.0h1.0v1.0h-1.0zM53.0 435.0h1.0v1.0h-1.0zM53.0 438.0h1.0v1.0h-1.0zM53.0 439.0h1.0v1.0h-1.0zM53.0 441.0h1.0v1.0h-1.0zM53.0 442.0h1.0v1.0h-1.0zM53.0 443.0h1.0v1.0h-1.0zM53.0 444.0h1.0v1.0h-1.0zM54.0 423.0h1.0v1.0h-1.0zM54.0 424.0h1.0v1.0h-1.0zM54.0 425.0h1.0v1.0h-1.0zM54.0 426.0h1.0v1.0h-1.0zM54.0 432.0h1.0v1.0h-1.0zM54.0 433.0h1.0v1.0h-1.0zM54.0 434.0h1.0v1.0h-1.0zM54.0 435.0h1.0v1.0h-1.0zM54.0 437.0h1.0v1.0h-1.0zM54.0 438.0h1.0v1.0h-1.0zM54.0 439.0h1.0v1.0h-1.0zM54.0 441.0h1.0v1.0h-1.0zM54.0 443.0h1.0v1.0h-1.0zM55.0 424.0h1.0v1.0h-1.0zM55.0 426.0h1.0v1.0h-1.0zM55.0 428.0h1.0v1.0h-1.0zM55.0 429.0h1.0v1.0h-1.0zM55.0 430.0h1.0v1.0h-1.0zM55.0 433.0h1.0v1.0h-1.0zM55.0 437.0h1.0v1.0h-1.0zM55.0 440.0h1.0v1.0h-1.0zM55.0 444.0h1.0v1.0h-1.0zM56.0 433.0h1.0v1.0h-1.0zM56.0 434.0h1.0v1.0h-1.0zM56.0 437.0h1.0v1.0h-1.0zM56.0 438.0h1.0v1.0h-1.0zM56.0 442.0h1.0v1.0h-1.0zM57.0 424.0h1.0v1.0h-1.0zM57.0 444.0h1.0v1.0h-1.0zM58.0 427.0h1.0v1.0h-1.0zM58.0 432.0h1.0v1.0h-1.0zM58.0 433.0h1.0v1.0h-1.0zM58.0 439.0h1.0v1.0h-1.0zM59.0 423.0h1.0v1.0h-1.0zM59.0 442.0h1.0v1.0h-1.0zM60.0 426.0h1.0v1.0h-1.0zM60.0 438.0h1.0v1.0h-1.0zM61.0 433.0h1.0v1.0h-1.0zM63.0 428.0h1.0v1.0h-1.0zM64.0 429.0h1.0v1.0h-1.0zM64.0 440.0h1.0v1.0h-1.0zM67.0 443.0h1.0v1.0h-1.0z" fill="#1a1a1a"/>
</g>
</g>
<rect x="32.3" y="363.2" width="79.8" height="80.40000000000003" fill="none" stroke="#a0a0a0" stroke-width="0.9" />
<ellipse cx="84.85" cy="383.3" rx="21.25" ry="12.2" fill="none" stroke="#111" stroke-width="1.3"/>
<text x="83.4" y="408.70000000000005" font-size="11.5" font-weight="bold" text-anchor="start" fill="#111" textLength="25.6" lengthAdjust="spacingAndGlyphs" >2.4%</text>
<text x="32.8" y="448.90000000000003" font-size="4.8" font-weight="bold" text-anchor="middle" fill="#444" >10<tspan font-size="3.2" dy="-1.6">0</tspan></text>
<text x="52.75" y="448.90000000000003" font-size="4.8" font-weight="bold" text-anchor="middle" fill="#444" >10<tspan font-size="3.2" dy="-1.6">1</tspan></text>
<text x="72.69999999999999" y="448.90000000000003" font-size="4.8" font-weight="bold" text-anchor="middle" fill="#444" >10<tspan font-size="3.2" dy="-1.6">2</tspan></text>
<text x="92.64999999999999" y="448.90000000000003" font-size="4.8" font-weight="bold" text-anchor="middle" fill="#444" >10<tspan font-size="3.2" dy="-1.6">3</tspan></text>
<text x="112.6" y="448.90000000000003" font-size="4.8" font-weight="bold" text-anchor="middle" fill="#444" >10<tspan font-size="3.2" dy="-1.6">4</tspan></text>
<text x="0" y="0" font-size="4.8" font-weight="bold" text-anchor="middle" fill="#444" transform="translate(30.299999999999997,440.1) rotate(-90)">10<tspan font-size="3.2" dy="-1.6">0</tspan></text>
<text x="0" y="0" font-size="4.8" font-weight="bold" text-anchor="middle" fill="#444" transform="translate(30.299999999999997,420.6) rotate(-90)">10<tspan font-size="3.2" dy="-1.6">1</tspan></text>
<text x="0" y="0" font-size="4.8" font-weight="bold" text-anchor="middle" fill="#444" transform="translate(30.299999999999997,400.6) rotate(-90)">10<tspan font-size="3.2" dy="-1.6">2</tspan></text>
<text x="0" y="0" font-size="4.8" font-weight="bold" text-anchor="middle" fill="#444" transform="translate(30.299999999999997,382.6) rotate(-90)">10<tspan font-size="3.2" dy="-1.6">3</tspan></text>
<text x="0" y="0" font-size="4.8" font-weight="bold" text-anchor="middle" fill="#444" transform="translate(30.299999999999997,361.90000000000003) rotate(-90)">10<tspan font-size="3.2" dy="-1.6">4</tspan></text>
<defs><clipPath id="cp2"><rect x="158.6" y="271.1" width="80.9" height="80.0"/></clipPath></defs>
<rect x="158.6" y="271.1" width="80.9" height="80.0" fill="#fff" stroke="none" stroke-width="1" />
<g clip-path="url(#cp2)">
<path d="M178.9 320.5h0.9v0.9h-0.9zM158.6 312.4h0.9v0.9h-0.9zM161.3 309.9h0.9v0.9h-0.9zM159.0 307.7h0.9v0.9h-0.9zM158.7 314.6h0.9v0.9h-0.9zM162.5 307.3h0.9v0.9h-0.9zM174.1 329.4h0.9v0.9h-0.9zM162.8 326.5h0.9v0.9h-0.9zM161.2 324.9h0.9v0.9h-0.9zM167.6 311.4h0.9v0.9h-0.9zM166.7 311.3h0.9v0.9h-0.9zM159.7 313.6h0.9v0.9h-0.9zM159.3 323.7h0.9v0.9h-0.9zM160.3 316.3h0.9v0.9h-0.9zM168.5 319.7h0.9v0.9h-0.9zM173.0 324.0h0.9v0.9h-0.9zM165.7 324.5h0.9v0.9h-0.9zM165.6 330.5h0.9v0.9h-0.9zM164.0 321.8h0.9v0.9h-0.9zM163.4 317.5h0.9v0.9h-0.9zM175.6 309.6h0.9v0.9h-0.9zM159.9 316.4h0.9v0.9h-0.9zM160.8 323.6h0.9v0.9h-0.9zM164.7 299.6h0.9v0.9h-0.9zM160.0 320.4h0.9v0.9h-0.9zM161.6 322.4h0.9v0.9h-0.9zM162.4 303.3h0.9v0.9h-0.9zM165.6 332.3h0.9v0.9h-0.9zM159.2 320.3h0.9v0.9h-0.9zM164.3 320.1h0.9v0.9h-0.9zM162.8 316.6h0.9v0.9h-0.9zM185.8 328.9h0.9v0.9h-0.9zM162.0 326.9h0.9v0.9h-0.9zM165.2 326.6h0.9v0.9h-0.9zM195.7 301.9h0.9v0.9h-0.9zM160.0 307.3h0.9v0.9h-0.9zM168.8 330.6h0.9v0.9h-0.9zM160.1 315.9h0.9v0.9h-0.9zM171.8 323.8h0.9v0.9h-0.9zM163.9 329.6h0.9v0.9h-0.9zM174.0 302.6h0.9v0.9h-0.9zM178.9 309.3h0.9v0.9h-0.9zM164.3 324.9h0.9v0.9h-0.9zM160.7 309.8h0.9v0.9h-0.9zM172.7 326.2h0.9v0.9h-0.9zM181.1 302.7h0.9v0.9h-0.9zM164.5 324.4h0.9v0.9h-0.9zM177.4 323.9h0.9v0.9h-0.9zM160.6 302.9h0.9v0.9h-0.9zM159.7 308.2h0.9v0.9h-0.9zM163.7 310.4h0.9v0.9h-0.9zM159.6 302.4h0.9v0.9h-0.9zM165.5 327.0h0.9v0.9h-0.9zM159.4 316.8h0.9v0.9h-0.9zM182.1 311.7h0.9v0.9h-0.9zM163.2 326.8h0.9v0.9h-0.9zM158.7 328.9h0.9v0.9h-0.9zM167.5 324.3h0.9v0.9h-0.9zM161.1 316.1h0.9v0.9h-0.9zM175.5 301.6h0.9v0.9h-0.9zM159.1 321.1h0.9v0.9h-0.9zM176.9 304.5h0.9v0.9h-0.9zM159.9 315.0h0.9v0.9h-0.9zM167.9 318.5h0.9v0.9h-0.9zM165.1 301.2h0.9v0.9h-0.9zM159.9 319.2h0.9v0.9h-0.9zM166.3 302.6h0.9v0.9h-0.9zM159.2 310.1h0.9v0.9h-0.9zM161.8 310.7h0.9v0.9h-0.9zM159.7 302.0h0.9v0.9h-0.9zM164.8 331.6h0.9v0.9h-0.9zM164.6 330.5h0.9v0.9h-0.9zM159.4 320.3h0.9v0.9h-0.9zM161.3 328.0h0.9v0.9h-0.9zM164.1 320.2h0.9v0.9h-0.9zM173.4 331.7h0.9v0.9h-0.9zM159.5 314.2h0.9v0.9h-0.9zM159.1 318.4h0.9v0.9h-0.9zM160.1 323.0h0.9v0.9h-0.9zM161.2 299.8h0.9v0.9h-0.9zM171.7 303.8h0.9v0.9h-0.9zM160.5 317.0h0.9v0.9h-0.9zM159.0 325.5h0.9v0.9h-0.9zM166.2 303.5h0.9v0.9h-0.9zM164.4 303.8h0.9v0.9h-0.9zM163.1 302.6h0.9v0.9h-0.9zM160.6 314.7h0.9v0.9h-0.9zM163.3 321.5h0.9v0.9h-0.9zM174.3 310.8h0.9v0.9h-0.9zM161.2 306.6h0.9v0.9h-0.9zM182.8 346.5h0.9v0.9h-0.9zM178.4 349.0h0.9v0.9h-0.9zM179.6 333.0h0.9v0.9h-0.9zM179.7 334.3h0.9v0.9h-0.9zM180.0 342.4h0.9v0.9h-0.9zM178.6 345.8h0.9v0.9h-0.9zM182.6 350.2h0.9v0.9h-0.9zM179.8 348.2h0.9v0.9h-0.9zM178.8 347.0h0.9v0.9h-0.9zM178.3 342.5h0.9v0.9h-0.9zM177.6 348.4h0.9v0.9h-0.9zM178.6 349.1h0.9v0.9h-0.9zM184.6 339.5h0.9v0.9h-0.9zM186.1 349.7h0.9v0.9h-0.9zM178.2 347.3h0.9v0.9h-0.9zM180.2 333.1h0.9v0.9h-0.9zM184.6 331.4h0.9v0.9h-0.9zM177.5 350.8h0.9v0.9h-0.9zM179.0 345.5h0.9v0.9h-0.9zM177.4 346.8h0.9v0.9h-0.9zM177.9 330.4h0.9v0.9h-0.9zM178.3 347.3h0.9v0.9h-0.9zM178.2 332.2h0.9v0.9h-0.9zM177.9 345.3h0.9v0.9h-0.9zM178.4 348.3h0.9v0.9h-0.9zM198.3 338.6h0.9v0.9h-0.9zM182.7 346.7h0.9v0.9h-0.9zM192.6 317.5h0.9v0.9h-0.9zM181.4 348.5h0.9v0.9h-0.9zM177.6 343.2h0.9v0.9h-0.9zM198.0 340.1h0.9v0.9h-0.9zM239.4 336.5h0.9v0.9h-0.9zM178.2 349.9h0.9v0.9h-0.9zM208.2 274.1h0.9v0.9h-0.9zM175.4 347.8h0.9v0.9h-0.9zM223.0 330.3h0.9v0.9h-0.9zM212.2 272.9h0.9v0.9h-0.9zM234.4 294.9h0.9v0.9h-0.9zM221.0 314.3h0.9v0.9h-0.9zM198.1 313.2h0.9v0.9h-0.9z" fill="#aaa"/>
<path d="" fill="#b0b0b0"/>
<g filter="url(#b0)">
<path d="M158.0 287.0h1.0v1.0h-1.0zM158.0 288.0h1.0v1.0h-1.0zM158.0 289.0h1.0v1.0h-1.0zM158.0 290.0h1.0v1.0h-1.0zM158.0 291.0h1.0v1.0h-1.0zM158.0 292.0h1.0v1.0h-1.0zM158.0 294.0h1.0v1.0h-1.0zM158.0 295.0h1.0v1.0h-1.0zM158.0 296.0h1.0v1.0h-1.0zM158.0 297.0h1.0v1.0h-1.0zM158.0 298.0h1.0v1.0h-1.0zM158.0 299.0h1.0v1.0h-1.0zM158.0 300.0h1.0v1.0h-1.0zM158.0 301.0h1.0v1.0h-1.0zM158.0 303.0h1.0v1.0h-1.0zM159.0 288.0h1.0v1.0h-1.0zM159.0 289.0h1.0v1.0h-1.0zM159.0 290.0h1.0v1.0h-1.0zM159.0 291.0h1.0v1.0h-1.0zM159.0 292.0h1.0v1.0h-1.0zM159.0 293.0h1.0v1.0h-1.0zM159.0 294.0h1.0v1.0h-1.0zM159.0 295.0h1.0v1.0h-1.0zM159.0 296.0h1.0v1.0h-1.0zM159.0 297.0h1.0v1.0h-1.0zM159.0 298.0h1.0v1.0h-1.0zM159.0 299.0h1.0v1.0h-1.0zM159.0 300.0h1.0v1.0h-1.0zM159.0 301.0h1.0v1.0h-1.0zM160.0 287.0h1.0v1.0h-1.0zM160.0 288.0h1.0v1.0h-1.0zM160.0 289.0h1.0v1.0h-1.0zM160.0 290.0h1.0v1.0h-1.0zM160.0 291.0h1.0v1.0h-1.0zM160.0 292.0h1.0v1.0h-1.0zM160.0 293.0h1.0v1.0h-1.0zM160.0 294.0h1.0v1.0h-1.0zM160.0 295.0h1.0v1.0h-1.0zM160.0 296.0h1.0v1.0h-1.0zM160.0 297.0h1.0v1.0h-1.0zM160.0 298.0h1.0v1.0h-1.0zM160.0 299.0h1.0v1.0h-1.0zM161.0 288.0h1.0v1.0h-1.0zM161.0 289.0h1.0v1.0h-1.0zM161.0 290.0h1.0v1.0h-1.0zM161.0 291.0h1.0v1.0h-1.0zM161.0 292.0h1.0v1.0h-1.0zM161.0 293.0h1.0v1.0h-1.0zM161.0 294.0h1.0v1.0h-1.0zM161.0 295.0h1.0v1.0h-1.0zM161.0 296.0h1.0v1.0h-1.0zM161.0 297.0h1.0v1.0h-1.0zM161.0 298.0h1.0v1.0h-1.0zM161.0 299.0h1.0v1.0h-1.0zM161.0 300.0h1.0v1.0h-1.0zM161.0 301.0h1.0v1.0h-1.0zM161.0 306.0h1.0v1.0h-1.0zM162.0 287.0h1.0v1.0h-1.0zM162.0 288.0h1.0v1.0h-1.0zM162.0 289.0h1.0v1.0h-1.0zM162.0 290.0h1.0v1.0h-1.0zM162.0 291.0h1.0v1.0h-1.0zM162.0 292.0h1.0v1.0h-1.0zM162.0 293.0h1.0v1.0h-1.0zM162.0 294.0h1.0v1.0h-1.0zM162.0 295.0h1.0v1.0h-1.0zM162.0 296.0h1.0v1.0h-1.0zM162.0 297.0h1.0v1.0h-1.0zM162.0 298.0h1.0v1.0h-1.0zM162.0 299.0h1.0v1.0h-1.0zM162.0 300.0h1.0v1.0h-1.0zM162.0 301.0h1.0v1.0h-1.0zM162.0 305.0h1.0v1.0h-1.0zM163.0 287.0h1.0v1.0h-1.0zM163.0 288.0h1.0v1.0h-1.0zM163.0 289.0h1.0v1.0h-1.0zM163.0 290.0h1.0v1.0h-1.0zM163.0 291.0h1.0v1.0h-1.0zM163.0 292.0h1.0v1.0h-1.0zM163.0 293.0h1.0v1.0h-1.0zM163.0 294.0h1.0v1.0h-1.0zM163.0 295.0h1.0v1.0h-1.0zM163.0 296.0h1.0v1.0h-1.0zM163.0 297.0h1.0v1.0h-1.0zM163.0 298.0h1.0v1.0h-1.0zM163.0 299.0h1.0v1.0h-1.0zM163.0 300.0h1.0v1.0h-1.0zM163.0 301.0h1.0v1.0h-1.0zM164.0 288.0h1.0v1.0h-1.0zM164.0 289.0h1.0v1.0h-1.0zM164.0 290.0h1.0v1.0h-1.0zM164.0 291.0h1.0v1.0h-1.0zM164.0 292.0h1.0v1.0h-1.0zM164.0 295.0h1.0v1.0h-1.0zM164.0 296.0h1.0v1.0h-1.0zM164.0 297.0h1.0v1.0h-1.0zM164.0 298.0h1.0v1.0h-1.0zM164.0 299.0h1.0v1.0h-1.0zM164.0 300.0h1.0v1.0h-1.0zM164.0 304.0h1.0v1.0h-1.0zM165.0 286.0h1.0v1.0h-1.0zM165.0 287.0h1.0v1.0h-1.0zM165.0 288.0h1.0v1.0h-1.0zM165.0 289.0h1.0v1.0h-1.0zM165.0 290.0h1.0v1.0h-1.0zM165.0 291.0h1.0v1.0h-1.0zM165.0 292.0h1.0v1.0h-1.0zM165.0 295.0h1.0v1.0h-1.0zM165.0 296.0h1.0v1.0h-1.0zM165.0 297.0h1.0v1.0h-1.0zM165.0 298.0h1.0v1.0h-1.0zM165.0 299.0h1.0v1.0h-1.0zM165.0 300.0h1.0v1.0h-1.0zM166.0 284.0h1.0v1.0h-1.0zM166.0 287.0h1.0v1.0h-1.0zM166.0 288.0h1.0v1.0h-1.0zM166.0 289.0h1.0v1.0h-1.0zM166.0 291.0h1.0v1.0h-1.0zM166.0 292.0h1.0v1.0h-1.0zM166.0 293.0h1.0v1.0h-1.0zM166.0 294.0h1.0v1.0h-1.0zM166.0 295.0h1.0v1.0h-1.0zM166.0 296.0h1.0v1.0h-1.0zM166.0 297.0h1.0v1.0h-1.0zM166.0 298.0h1.0v1.0h-1.0zM166.0 300.0h1.0v1.0h-1.0zM166.0 301.0h1.0v1.0h-1.0zM167.0 286.0h1.0v1.0h-1.0zM167.0 288.0h1.0v1.0h-1.0zM167.0 289.0h1.0v1.0h-1.0zM167.0 290.0h1.0v1.0h-1.0zM167.0 291.0h1.0v1.0h-1.0zM167.0 292.0h1.0v1.0h-1.0zM167.0 293.0h1.0v1.0h-1.0zM167.0 295.0h1.0v1.0h-1.0zM167.0 296.0h1.0v1.0h-1.0zM167.0 297.0h1.0v1.0h-1.0zM167.0 299.0h1.0v1.0h-1.0zM167.0 300.0h1.0v1.0h-1.0zM167.0 301.0h1.0v1.0h-1.0zM167.0 302.0h1.0v1.0h-1.0zM168.0 285.0h1.0v1.0h-1.0zM168.0 287.0h1.0v1.0h-1.0zM168.0 288.0h1.0v1.0h-1.0zM168.0 289.0h1.0v1.0h-1.0zM168.0 290.0h1.0v1.0h-1.0zM168.0 291.0h1.0v1.0h-1.0zM168.0 293.0h1.0v1.0h-1.0zM168.0 294.0h1.0v1.0h-1.0zM168.0 295.0h1.0v1.0h-1.0zM168.0 296.0h1.0v1.0h-1.0zM168.0 298.0h1.0v1.0h-1.0zM168.0 299.0h1.0v1.0h-1.0zM168.0 304.0h1.0v1.0h-1.0zM169.0 287.0h1.0v1.0h-1.0zM169.0 288.0h1.0v1.0h-1.0zM169.0 289.0h1.0v1.0h-1.0zM169.0 290.0h1.0v1.0h-1.0zM169.0 291.0h1.0v1.0h-1.0zM169.0 292.0h1.0v1.0h-1.0zM169.0 293.0h1.0v1.0h-1.0zM169.0 294.0h1.0v1.0h-1.0zM169.0 295.0h1.0v1.0h-1.0zM169.0 297.0h1.0v1.0h-1.0zM169.0 298.0h1.0v1.0h-1.0zM169.0 299.0h1.0v1.0h-1.0zM169.0 301.0h1.0v1.0h-1.0zM169.0 302.0h1.0v1.0h-1.0zM169.0 303.0h1.0v1.0h-1.0zM170.0 285.0h1.0v1.0h-1.0zM170.0 286.0h1.0v1.0h-1.0zM170.0 288.0h1.0v1.0h-1.0zM170.0 289.0h1.0v1.0h-1.0zM170.0 290.0h1.0v1.0h-1.0zM170.0 291.0h1.0v1.0h-1.0zM170.0 292.0h1.0v1.0h-1.0zM170.0 293.0h1.0v1.0h-1.0zM170.0 295.0h1.0v1.0h-1.0zM170.0 296.0h1.0v1.0h-1.0zM170.0 297.0h1.0v1.0h-1.0zM170.0 298.0h1.0v1.0h-1.0zM170.0 299.0h1.0v1.0h-1.0zM170.0 300.0h1.0v1.0h-1.0zM171.0 287.0h1.0v1.0h-1.0zM171.0 288.0h1.0v1.0h-1.0zM171.0 289.0h1.0v1.0h-1.0zM171.0 290.0h1.0v1.0h-1.0zM171.0 291.0h1.0v1.0h-1.0zM171.0 292.0h1.0v1.0h-1.0zM171.0 293.0h1.0v1.0h-1.0zM171.0 294.0h1.0v1.0h-1.0zM171.0 295.0h1.0v1.0h-1.0zM171.0 297.0h1.0v1.0h-1.0zM171.0 298.0h1.0v1.0h-1.0zM171.0 299.0h1.0v1.0h-1.0zM171.0 300.0h1.0v1.0h-1.0zM172.0 286.0h1.0v1.0h-1.0zM172.0 287.0h1.0v1.0h-1.0zM172.0 288.0h1.0v1.0h-1.0zM172.0 289.0h1.0v1.0h-1.0zM172.0 290.0h1.0v1.0h-1.0zM172.0 291.0h1.0v1.0h-1.0zM172.0 293.0h1.0v1.0h-1.0zM172.0 294.0h1.0v1.0h-1.0zM172.0 295.0h1.0v1.0h-1.0zM172.0 296.0h1.0v1.0h-1.0zM172.0 297.0h1.0v1.0h-1.0zM172.0 298.0h1.0v1.0h-1.0zM172.0 299.0h1.0v1.0h-1.0zM172.0 300.0h1.0v1.0h-1.0zM172.0 302.0h1.0v1.0h-1.0zM173.0 287.0h1.0v1.0h-1.0zM173.0 288.0h1.0v1.0h-1.0zM173.0 289.0h1.0v1.0h-1.0zM173.0 290.0h1.0v1.0h-1.0zM173.0 291.0h1.0v1.0h-1.0zM173.0 292.0h1.0v1.0h-1.0zM173.0 293.0h1.0v1.0h-1.0zM173.0 294.0h1.0v1.0h-1.0zM173.0 295.0h1.0v1.0h-1.0zM173.0 296.0h1.0v1.0h-1.0zM173.0 297.0h1.0v1.0h-1.0zM173.0 298.0h1.0v1.0h-1.0zM173.0 299.0h1.0v1.0h-1.0zM173.0 300.0h1.0v1.0h-1.0zM173.0 302.0h1.0v1.0h-1.0zM174.0 289.0h1.0v1.0h-1.0zM174.0 292.0h1.0v1.0h-1.0zM174.0 293.0h1.0v1.0h-1.0zM174.0 295.0h1.0v1.0h-1.0zM174.0 298.0h1.0v1.0h-1.0zM174.0 299.0h1.0v1.0h-1.0zM175.0 291.0h1.0v1.0h-1.0zM175.0 292.0h1.0v1.0h-1.0zM175.0 293.0h1.0v1.0h-1.0zM175.0 299.0h1.0v1.0h-1.0zM175.0 300.0h1.0v1.0h-1.0zM176.0 293.0h1.0v1.0h-1.0zM177.0 289.0h1.0v1.0h-1.0zM178.0 290.0h1.0v1.0h-1.0zM179.0 295.0h1.0v1.0h-1.0zM180.0 300.0h1.0v1.0h-1.0zM181.0 299.0h1.0v1.0h-1.0z" fill="#222"/>
<path d="M154.6 334.2 H171.4 Q176.4 334.2 176.4 339.2 V355.1 H154.6 Z" fill="#141414"/>
<path d="M158.0 330.0h1.0v1.0h-1.0zM158.0 332.0h1.0v1.0h-1.0zM158.0 334.0h1.0v1.0h-1.0zM158.0 335.0h1.0v1.0h-1.0zM158.0 336.0h1.0v1.0h-1.0zM158.0 337.0h1.0v1.0h-1.0zM158.0 338.0h1.0v1.0h-1.0zM158.0 339.0h1.0v1.0h-1.0zM158.0 340.0h1.0v1.0h-1.0zM158.0 341.0h1.0v1.0h-1.0zM158.0 342.0h1.0v1.0h-1.0zM158.0 343.0h1.0v1.0h-1.0zM158.0 344.0h1.0v1.0h-1.0zM158.0 345.0h1.0v1.0h-1.0zM158.0 346.0h1.0v1.0h-1.0zM158.0 347.0h1.0v1.0h-1.0zM158.0 348.0h1.0v1.0h-1.0zM158.0 349.0h1.0v1.0h-1.0zM158.0 350.0h1.0v1.0h-1.0zM158.0 351.0h1.0v1.0h-1.0zM158.0 352.0h1.0v1.0h-1.0zM159.0 333.0h1.0v1.0h-1.0zM159.0 334.0h1.0v1.0h-1.0zM159.0 335.0h1.0v1.0h-1.0zM159.0 336.0h1.0v1.0h-1.0zM159.0 337.0h1.0v1.0h-1.0zM159.0 338.0h1.0v1.0h-1.0zM159.0 339.0h1.0v1.0h-1.0zM159.0 340.0h1.0v1.0h-1.0zM159.0 341.0h1.0v1.0h-1.0zM159.0 342.0h1.0v1.0h-1.0zM159.0 343.0h1.0v1.0h-1.0zM159.0 344.0h1.0v1.0h-1.0zM159.0 345.0h1.0v1.0h-1.0zM159.0 346.0h1.0v1.0h-1.0zM159.0 347.0h1.0v1.0h-1.0zM159.0 348.0h1.0v1.0h-1.0zM159.0 349.0h1.0v1.0h-1.0zM159.0 350.0h1.0v1.0h-1.0zM159.0 351.0h1.0v1.0h-1.0zM159.0 352.0h1.0v1.0h-1.0zM160.0 334.0h1.0v1.0h-1.0zM160.0 335.0h1.0v1.0h-1.0zM160.0 336.0h1.0v1.0h-1.0zM160.0 337.0h1.0v1.0h-1.0zM160.0 338.0h1.0v1.0h-1.0zM160.0 339.0h1.0v1.0h-1.0zM160.0 340.0h1.0v1.0h-1.0zM160.0 341.0h1.0v1.0h-1.0zM160.0 342.0h1.0v1.0h-1.0zM160.0 343.0h1.0v1.0h-1.0zM160.0 344.0h1.0v1.0h-1.0zM160.0 345.0h1.0v1.0h-1.0zM160.0 346.0h1.0v1.0h-1.0zM160.0 347.0h1.0v1.0h-1.0zM160.0 348.0h1.0v1.0h-1.0zM160.0 349.0h1.0v1.0h-1.0zM160.0 350.0h1.0v1.0h-1.0zM160.0 351.0h1.0v1.0h-1.0zM160.0 352.0h1.0v1.0h-1.0zM161.0 332.0h1.0v1.0h-1.0zM161.0 333.0h1.0v1.0h-1.0zM161.0 334.0h1.0v1.0h-1.0zM161.0 335.0h1.0v1.0h-1.0zM161.0 336.0h1.0v1.0h-1.0zM161.0 337.0h1.0v1.0h-1.0zM161.0 338.0h1.0v1.0h-1.0zM161.0 339.0h1.0v1.0h-1.0zM161.0 340.0h1.0v1.0h-1.0zM161.0 341.0h1.0v1.0h-1.0zM161.0 342.0h1.0v1.0h-1.0zM161.0 343.0h1.0v1.0h-1.0zM161.0 344.0h1.0v1.0h-1.0zM161.0 345.0h1.0v1.0h-1.0zM161.0 346.0h1.0v1.0h-1.0zM161.0 347.0h1.0v1.0h-1.0zM161.0 348.0h1.0v1.0h-1.0zM161.0 349.0h1.0v1.0h-1.0zM161.0 350.0h1.0v1.0h-1.0zM161.0 351.0h1.0v1.0h-1.0zM161.0 352.0h1.0v1.0h-1.0zM162.0 334.0h1.0v1.0h-1.0zM162.0 335.0h1.0v1.0h-1.0zM162.0 336.0h1.0v1.0h-1.0zM162.0 337.0h1.0v1.0h-1.0zM162.0 338.0h1.0v1.0h-1.0zM162.0 339.0h1.0v1.0h-1.0zM162.0 340.0h1.0v1.0h-1.0zM162.0 341.0h1.0v1.0h-1.0zM162.0 342.0h1.0v1.0h-1.0zM162.0 343.0h1.0v1.0h-1.0zM162.0 344.0h1.0v1.0h-1.0zM162.0 345.0h1.0v1.0h-1.0zM162.0 346.0h1.0v1.0h-1.0zM162.0 347.0h1.0v1.0h-1.0zM162.0 348.0h1.0v1.0h-1.0zM162.0 349.0h1.0v1.0h-1.0zM162.0 350.0h1.0v1.0h-1.0zM162.0 351.0h1.0v1.0h-1.0zM162.0 352.0h1.0v1.0h-1.0zM163.0 332.0h1.0v1.0h-1.0zM163.0 333.0h1.0v1.0h-1.0zM163.0 334.0h1.0v1.0h-1.0zM163.0 335.0h1.0v1.0h-1.0zM163.0 336.0h1.0v1.0h-1.0zM163.0 337.0h1.0v1.0h-1.0zM163.0 338.0h1.0v1.0h-1.0zM163.0 339.0h1.0v1.0h-1.0zM163.0 340.0h1.0v1.0h-1.0zM163.0 341.0h1.0v1.0h-1.0zM163.0 342.0h1.0v1.0h-1.0zM163.0 343.0h1.0v1.0h-1.0zM163.0 344.0h1.0v1.0h-1.0zM163.0 345.0h1.0v1.0h-1.0zM163.0 346.0h1.0v1.0h-1.0zM163.0 347.0h1.0v1.0h-1.0zM163.0 348.0h1.0v1.0h-1.0zM163.0 349.0h1.0v1.0h-1.0zM163.0 350.0h1.0v1.0h-1.0zM163.0 351.0h1.0v1.0h-1.0zM163.0 352.0h1.0v1.0h-1.0zM164.0 333.0h1.0v1.0h-1.0zM164.0 334.0h1.0v1.0h-1.0zM164.0 335.0h1.0v1.0h-1.0zM164.0 336.0h1.0v1.0h-1.0zM164.0 337.0h1.0v1.0h-1.0zM164.0 338.0h1.0v1.0h-1.0zM164.0 339.0h1.0v1.0h-1.0zM164.0 340.0h1.0v1.0h-1.0zM164.0 341.0h1.0v1.0h-1.0zM164.0 342.0h1.0v1.0h-1.0zM164.0 343.0h1.0v1.0h-1.0zM164.0 344.0h1.0v1.0h-1.0zM164.0 345.0h1.0v1.0h-1.0zM164.0 346.0h1.0v1.0h-1.0zM164.0 347.0h1.0v1.0h-1.0zM164.0 348.0h1.0v1.0h-1.0zM164.0 349.0h1.0v1.0h-1.0zM164.0 350.0h1.0v1.0h-1.0zM164.0 351.0h1.0v1.0h-1.0zM164.0 352.0h1.0v1.0h-1.0zM165.0 330.0h1.0v1.0h-1.0zM165.0 334.0h1.0v1.0h-1.0zM165.0 335.0h1.0v1.0h-1.0zM165.0 336.0h1.0v1.0h-1.0zM165.0 337.0h1.0v1.0h-1.0zM165.0 338.0h1.0v1.0h-1.0zM165.0 339.0h1.0v1.0h-1.0zM165.0 340.0h1.0v1.0h-1.0zM165.0 341.0h1.0v1.0h-1.0zM165.0 342.0h1.0v1.0h-1.0zM165.0 343.0h1.0v1.0h-1.0zM165.0 344.0h1.0v1.0h-1.0zM165.0 345.0h1.0v1.0h-1.0zM165.0 346.0h1.0v1.0h-1.0zM165.0 347.0h1.0v1.0h-1.0zM165.0 348.0h1.0v1.0h-1.0zM165.0 349.0h1.0v1.0h-1.0zM165.0 350.0h1.0v1.0h-1.0zM165.0 351.0h1.0v1.0h-1.0zM165.0 352.0h1.0v1.0h-1.0zM166.0 334.0h1.0v1.0h-1.0zM166.0 335.0h1.0v1.0h-1.0zM166.0 336.0h1.0v1.0h-1.0zM166.0 337.0h1.0v1.0h-1.0zM166.0 338.0h1.0v1.0h-1.0zM166.0 339.0h1.0v1.0h-1.0zM166.0 340.0h1.0v1.0h-1.0zM166.0 341.0h1.0v1.0h-1.0zM166.0 342.0h1.0v1.0h-1.0zM166.0 343.0h1.0v1.0h-1.0zM166.0 344.0h1.0v1.0h-1.0zM166.0 345.0h1.0v1.0h-1.0zM166.0 346.0h1.0v1.0h-1.0zM166.0 347.0h1.0v1.0h-1.0zM166.0 348.0h1.0v1.0h-1.0zM166.0 349.0h1.0v1.0h-1.0zM166.0 350.0h1.0v1.0h-1.0zM166.0 351.0h1.0v1.0h-1.0zM166.0 352.0h1.0v1.0h-1.0zM167.0 332.0h1.0v1.0h-1.0zM167.0 334.0h1.0v1.0h-1.0zM167.0 335.0h1.0v1.0h-1.0zM167.0 336.0h1.0v1.0h-1.0zM167.0 337.0h1.0v1.0h-1.0zM167.0 338.0h1.0v1.0h-1.0zM167.0 339.0h1.0v1.0h-1.0zM167.0 340.0h1.0v1.0h-1.0zM167.0 341.0h1.0v1.0h-1.0zM167.0 342.0h1.0v1.0h-1.0zM167.0 343.0h1.0v1.0h-1.0zM167.0 344.0h1.0v1.0h-1.0zM167.0 345.0h1.0v1.0h-1.0zM167.0 346.0h1.0v1.0h-1.0zM167.0 347.0h1.0v1.0h-1.0zM167.0 348.0h1.0v1.0h-1.0zM167.0 349.0h1.0v1.0h-1.0zM167.0 350.0h1.0v1.0h-1.0zM167.0 351.0h1.0v1.0h-1.0zM167.0 352.0h1.0v1.0h-1.0zM168.0 333.0h1.0v1.0h-1.0zM168.0 334.0h1.0v1.0h-1.0zM168.0 335.0h1.0v1.0h-1.0zM168.0 336.0h1.0v1.0h-1.0zM168.0 337.0h1.0v1.0h-1.0zM168.0 338.0h1.0v1.0h-1.0zM168.0 339.0h1.0v1.0h-1.0zM168.0 340.0h1.0v1.0h-1.0zM168.0 341.0h1.0v1.0h-1.0zM168.0 342.0h1.0v1.0h-1.0zM168.0 343.0h1.0v1.0h-1.0zM168.0 344.0h1.0v1.0h-1.0zM168.0 345.0h1.0v1.0h-1.0zM168.0 346.0h1.0v1.0h-1.0zM168.0 347.0h1.0v1.0h-1.0zM168.0 348.0h1.0v1.0h-1.0zM168.0 349.0h1.0v1.0h-1.0zM168.0 350.0h1.0v1.0h-1.0zM168.0 351.0h1.0v1.0h-1.0zM168.0 352.0h1.0v1.0h-1.0zM169.0 332.0h1.0v1.0h-1.0zM169.0 334.0h1.0v1.0h-1.0zM169.0 335.0h1.0v1.0h-1.0zM169.0 336.0h1.0v1.0h-1.0zM169.0 337.0h1.0v1.0h-1.0zM169.0 338.0h1.0v1.0h-1.0zM169.0 339.0h1.0v1.0h-1.0zM169.0 340.0h1.0v1.0h-1.0zM169.0 341.0h1.0v1.0h-1.0zM169.0 342.0h1.0v1.0h-1.0zM169.0 343.0h1.0v1.0h-1.0zM169.0 344.0h1.0v1.0h-1.0zM169.0 345.0h1.0v1.0h-1.0zM169.0 346.0h1.0v1.0h-1.0zM169.0 347.0h1.0v1.0h-1.0zM169.0 348.0h1.0v1.0h-1.0zM169.0 349.0h1.0v1.0h-1.0zM169.0 350.0h1.0v1.0h-1.0zM169.0 351.0h1.0v1.0h-1.0zM169.0 352.0h1.0v1.0h-1.0zM170.0 334.0h1.0v1.0h-1.0zM170.0 335.0h1.0v1.0h-1.0zM170.0 336.0h1.0v1.0h-1.0zM170.0 337.0h1.0v1.0h-1.0zM170.0 338.0h1.0v1.0h-1.0zM170.0 339.0h1.0v1.0h-1.0zM170.0 340.0h1.0v1.0h-1.0zM170.0 341.0h1.0v1.0h-1.0zM170.0 342.0h1.0v1.0h-1.0zM170.0 343.0h1.0v1.0h-1.0zM170.0 344.0h1.0v1.0h-1.0zM170.0 345.0h1.0v1.0h-1.0zM170.0 346.0h1.0v1.0h-1.0zM170.0 347.0h1.0v1.0h-1.0zM170.0 348.0h1.0v1.0h-1.0zM170.0 349.0h1.0v1.0h-1.0zM170.0 350.0h1.0v1.0h-1.0zM170.0 351.0h1.0v1.0h-1.0zM170.0 352.0h1.0v1.0h-1.0zM171.0 330.0h1.0v1.0h-1.0zM171.0 334.0h1.0v1.0h-1.0zM171.0 335.0h1.0v1.0h-1.0zM171.0 336.0h1.0v1.0h-1.0zM171.0 337.0h1.0v1.0h-1.0zM171.0 338.0h1.0v1.0h-1.0zM171.0 339.0h1.0v1.0h-1.0zM171.0 340.0h1.0v1.0h-1.0zM171.0 341.0h1.0v1.0h-1.0zM171.0 342.0h1.0v1.0h-1.0zM171.0 343.0h1.0v1.0h-1.0zM171.0 344.0h1.0v1.0h-1.0zM171.0 345.0h1.0v1.0h-1.0zM171.0 346.0h1.0v1.0h-1.0zM171.0 347.0h1.0v1.0h-1.0zM171.0 348.0h1.0v1.0h-1.0zM171.0 349.0h1.0v1.0h-1.0zM171.0 350.0h1.0v1.0h-1.0zM171.0 351.0h1.0v1.0h-1.0zM171.0 352.0h1.0v1.0h-1.0zM172.0 334.0h1.0v1.0h-1.0zM172.0 335.0h1.0v1.0h-1.0zM172.0 336.0h1.0v1.0h-1.0zM172.0 337.0h1.0v1.0h-1.0zM172.0 338.0h1.0v1.0h-1.0zM172.0 339.0h1.0v1.0h-1.0zM172.0 340.0h1.0v1.0h-1.0zM172.0 341.0h1.0v1.0h-1.0zM172.0 342.0h1.0v1.0h-1.0zM172.0 343.0h1.0v1.0h-1.0zM172.0 344.0h1.0v1.0h-1.0zM172.0 345.0h1.0v1.0h-1.0zM172.0 346.0h1.0v1.0h-1.0zM172.0 347.0h1.0v1.0h-1.0zM172.0 348.0h1.0v1.0h-1.0zM172.0 349.0h1.0v1.0h-1.0zM172.0 350.0h1.0v1.0h-1.0zM172.0 351.0h1.0v1.0h-1.0zM172.0 352.0h1.0v1.0h-1.0zM173.0 333.0h1.0v1.0h-1.0zM173.0 334.0h1.0v1.0h-1.0zM173.0 335.0h1.0v1.0h-1.0zM173.0 336.0h1.0v1.0h-1.0zM173.0 337.0h1.0v1.0h-1.0zM173.0 338.0h1.0v1.0h-1.0zM173.0 339.0h1.0v1.0h-1.0zM173.0 340.0h1.0v1.0h-1.0zM173.0 341.0h1.0v1.0h-1.0zM173.0 342.0h1.0v1.0h-1.0zM173.0 343.0h1.0v1.0h-1.0zM173.0 344.0h1.0v1.0h-1.0zM173.0 345.0h1.0v1.0h-1.0zM173.0 346.0h1.0v1.0h-1.0zM173.0 347.0h1.0v1.0h-1.0zM173.0 348.0h1.0v1.0h-1.0zM173.0 349.0h1.0v1.0h-1.0zM173.0 350.0h1.0v1.0h-1.0zM173.0 351.0h1.0v1.0h-1.0zM173.0 352.0h1.0v1.0h-1.0zM174.0 333.0h1.0v1.0h-1.0zM174.0 334.0h1.0v1.0h-1.0zM174.0 335.0h1.0v1.0h-1.0zM174.0 336.0h1.0v1.0h-1.0zM174.0 337.0h1.0v1.0h-1.0zM174.0 338.0h1.0v1.0h-1.0zM174.0 339.0h1.0v1.0h-1.0zM174.0 340.0h1.0v1.0h-1.0zM174.0 341.0h1.0v1.0h-1.0zM174.0 342.0h1.0v1.0h-1.0zM174.0 343.0h1.0v1.0h-1.0zM174.0 344.0h1.0v1.0h-1.0zM174.0 345.0h1.0v1.0h-1.0zM174.0 346.0h1.0v1.0h-1.0zM174.0 347.0h1.0v1.0h-1.0zM174.0 348.0h1.0v1.0h-1.0zM174.0 349.0h1.0v1.0h-1.0zM174.0 350.0h1.0v1.0h-1.0zM174.0 351.0h1.0v1.0h-1.0zM174.0 352.0h1.0v1.0h-1.0zM175.0 331.0h1.0v1.0h-1.0zM175.0 332.0h1.0v1.0h-1.0zM175.0 333.0h1.0v1.0h-1.0zM175.0 334.0h1.0v1.0h-1.0zM175.0 335.0h1.0v1.0h-1.0zM175.0 336.0h1.0v1.0h-1.0zM175.0 337.0h1.0v1.0h-1.0zM175.0 338.0h1.0v1.0h-1.0zM175.0 339.0h1.0v1.0h-1.0zM175.0 340.0h1.0v1.0h-1.0zM175.0 341.0h1.0v1.0h-1.0zM175.0 342.0h1.0v1.0h-1.0zM175.0 343.0h1.0v1.0h-1.0zM175.0 344.0h1.0v1.0h-1.0zM175.0 345.0h1.0v1.0h-1.0zM175.0 346.0h1.0v1.0h-1.0zM175.0 347.0h1.0v1.0h-1.0zM175.0 348.0h1.0v1.0h-1.0zM175.0 349.0h1.0v1.0h-1.0zM175.0 350.0h1.0v1.0h-1.0zM175.0 351.0h1.0v1.0h-1.0zM175.0 352.0h1.0v1.0h-1.0zM176.0 333.0h1.0v1.0h-1.0zM176.0 334.0h1.0v1.0h-1.0zM176.0 336.0h1.0v1.0h-1.0zM176.0 337.0h1.0v1.0h-1.0zM176.0 338.0h1.0v1.0h-1.0zM176.0 339.0h1.0v1.0h-1.0zM176.0 340.0h1.0v1.0h-1.0zM176.0 341.0h1.0v1.0h-1.0zM176.0 342.0h1.0v1.0h-1.0zM176.0 343.0h1.0v1.0h-1.0zM176.0 344.0h1.0v1.0h-1.0zM176.0 345.0h1.0v1.0h-1.0zM176.0 346.0h1.0v1.0h-1.0zM176.0 347.0h1.0v1.0h-1.0zM176.0 348.0h1.0v1.0h-1.0zM176.0 349.0h1.0v1.0h-1.0zM176.0 350.0h1.0v1.0h-1.0zM176.0 351.0h1.0v1.0h-1.0zM176.0 352.0h1.0v1.0h-1.0zM177.0 330.0h1.0v1.0h-1.0zM177.0 332.0h1.0v1.0h-1.0zM177.0 335.0h1.0v1.0h-1.0zM177.0 337.0h1.0v1.0h-1.0zM177.0 338.0h1.0v1.0h-1.0zM177.0 339.0h1.0v1.0h-1.0zM177.0 340.0h1.0v1.0h-1.0zM177.0 343.0h1.0v1.0h-1.0zM177.0 345.0h1.0v1.0h-1.0zM177.0 346.0h1.0v1.0h-1.0zM177.0 350.0h1.0v1.0h-1.0zM178.0 334.0h1.0v1.0h-1.0zM178.0 337.0h1.0v1.0h-1.0zM178.0 338.0h1.0v1.0h-1.0zM179.0 347.0h1.0v1.0h-1.0zM179.0 349.0h1.0v1.0h-1.0zM179.0 351.0h1.0v1.0h-1.0zM181.0 346.0h1.0v1.0h-1.0zM181.0 351.0h1.0v1.0h-1.0zM183.0 349.0h1.0v1.0h-1.0z" fill="#1a1a1a"/>
</g>
</g>
<rect x="158.6" y="271.1" width="80.9" height="80.0" fill="none" stroke="#a0a0a0" stroke-width="0.9" />
<ellipse cx="209.75" cy="293.0" rx="21.25" ry="12.2" fill="none" stroke="#111" stroke-width="1.3"/>
<text x="202.9" y="317.5" font-size="11.5" font-weight="bold" text-anchor="start" fill="#111" textLength="33" lengthAdjust="spacingAndGlyphs" >&lt;0.1%</text>
<text x="159.1" y="356.40000000000003" font-size="4.8" font-weight="bold" text-anchor="middle" fill="#444" >10<tspan font-size="3.2" dy="-1.6">0</tspan></text>
<text x="179.325" y="356.40000000000003" font-size="4.8" font-weight="bold" text-anchor="middle" fill="#444" >10<tspan font-size="3.2" dy="-1.6">1</tspan></text>
<text x="199.55" y="356.40000000000003" font-size="4.8" font-weight="bold" text-anchor="middle" fill="#444" >10<tspan font-size="3.2" dy="-1.6">2</tspan></text>
<text x="219.775" y="356.40000000000003" font-size="4.8" font-weight="bold" text-anchor="middle" fill="#444" >10<tspan font-size="3.2" dy="-1.6">3</tspan></text>
<text x="240.0" y="356.40000000000003" font-size="4.8" font-weight="bold" text-anchor="middle" fill="#444" >10<tspan font-size="3.2" dy="-1.6">4</tspan></text>
<text x="0" y="0" font-size="4.8" font-weight="bold" text-anchor="middle" fill="#444" transform="translate(156.6,347.6) rotate(-90)">10<tspan font-size="3.2" dy="-1.6">0</tspan></text>
<text x="0" y="0" font-size="4.8" font-weight="bold" text-anchor="middle" fill="#444" transform="translate(156.6,328.1) rotate(-90)">10<tspan font-size="3.2" dy="-1.6">1</tspan></text>
<text x="0" y="0" font-size="4.8" font-weight="bold" text-anchor="middle" fill="#444" transform="translate(156.6,308.1) rotate(-90)">10<tspan font-size="3.2" dy="-1.6">2</tspan></text>
<text x="0" y="0" font-size="4.8" font-weight="bold" text-anchor="middle" fill="#444" transform="translate(156.6,290.1) rotate(-90)">10<tspan font-size="3.2" dy="-1.6">3</tspan></text>
<text x="0" y="0" font-size="4.8" font-weight="bold" text-anchor="middle" fill="#444" transform="translate(156.6,269.40000000000003) rotate(-90)">10<tspan font-size="3.2" dy="-1.6">4</tspan></text>
<defs><clipPath id="cp3"><rect x="158.6" y="363.2" width="80.5" height="80.0"/></clipPath></defs>
<rect x="158.6" y="363.2" width="80.5" height="80.0" fill="#fff" stroke="none" stroke-width="1" />
<g clip-path="url(#cp3)">
<path d="M164.2 401.0h0.9v0.9h-0.9zM159.4 420.3h0.9v0.9h-0.9zM165.7 386.3h0.9v0.9h-0.9zM172.4 408.6h0.9v0.9h-0.9zM169.0 413.4h0.9v0.9h-0.9zM159.7 396.1h0.9v0.9h-0.9zM159.7 414.9h0.9v0.9h-0.9zM176.3 405.9h0.9v0.9h-0.9zM165.2 421.1h0.9v0.9h-0.9zM163.0 400.9h0.9v0.9h-0.9zM160.6 421.5h0.9v0.9h-0.9zM159.4 391.4h0.9v0.9h-0.9zM170.0 385.2h0.9v0.9h-0.9zM159.9 404.2h0.9v0.9h-0.9zM160.2 398.7h0.9v0.9h-0.9zM158.8 409.5h0.9v0.9h-0.9zM159.1 395.1h0.9v0.9h-0.9zM159.2 410.5h0.9v0.9h-0.9zM160.1 405.2h0.9v0.9h-0.9zM158.8 405.6h0.9v0.9h-0.9zM161.1 418.5h0.9v0.9h-0.9zM159.9 395.4h0.9v0.9h-0.9zM170.8 386.5h0.9v0.9h-0.9zM162.6 402.5h0.9v0.9h-0.9zM160.7 390.6h0.9v0.9h-0.9zM162.7 385.3h0.9v0.9h-0.9zM158.7 395.0h0.9v0.9h-0.9zM161.4 394.0h0.9v0.9h-0.9zM166.0 399.9h0.9v0.9h-0.9zM164.2 406.5h0.9v0.9h-0.9zM166.0 419.4h0.9v0.9h-0.9zM163.5 410.4h0.9v0.9h-0.9zM163.5 387.1h0.9v0.9h-0.9zM169.4 404.2h0.9v0.9h-0.9zM158.8 412.3h0.9v0.9h-0.9zM162.8 420.0h0.9v0.9h-0.9zM161.8 402.0h0.9v0.9h-0.9zM172.2 419.3h0.9v0.9h-0.9zM167.4 401.0h0.9v0.9h-0.9zM162.0 412.0h0.9v0.9h-0.9zM172.3 401.5h0.9v0.9h-0.9zM165.9 405.4h0.9v0.9h-0.9zM163.4 392.3h0.9v0.9h-0.9zM160.6 393.8h0.9v0.9h-0.9zM183.4 385.2h0.9v0.9h-0.9zM160.1 391.9h0.9v0.9h-0.9zM168.8 409.6h0.9v0.9h-0.9zM160.8 388.2h0.9v0.9h-0.9zM165.3 412.4h0.9v0.9h-0.9zM164.8 411.2h0.9v0.9h-0.9zM164.1 385.3h0.9v0.9h-0.9zM168.1 417.1h0.9v0.9h-0.9zM159.7 398.7h0.9v0.9h-0.9zM183.3 421.1h0.9v0.9h-0.9zM168.8 416.1h0.9v0.9h-0.9zM159.6 417.3h0.9v0.9h-0.9zM169.0 391.8h0.9v0.9h-0.9zM173.2 414.9h0.9v0.9h-0.9zM173.5 418.1h0.9v0.9h-0.9zM159.2 390.6h0.9v0.9h-0.9zM190.8 441.7h0.9v0.9h-0.9zM183.6 430.8h0.9v0.9h-0.9zM191.6 439.1h0.9v0.9h-0.9zM184.2 433.7h0.9v0.9h-0.9zM213.7 435.3h0.9v0.9h-0.9zM183.6 441.0h0.9v0.9h-0.9zM182.2 435.6h0.9v0.9h-0.9zM188.6 441.2h0.9v0.9h-0.9zM189.2 435.8h0.9v0.9h-0.9zM186.1 437.2h0.9v0.9h-0.9zM184.2 443.1h0.9v0.9h-0.9zM185.6 434.5h0.9v0.9h-0.9zM194.1 414.3h0.9v0.9h-0.9zM187.3 441.8h0.9v0.9h-0.9zM192.8 438.9h0.9v0.9h-0.9zM200.8 420.1h0.9v0.9h-0.9zM181.6 442.8h0.9v0.9h-0.9zM181.3 434.2h0.9v0.9h-0.9zM185.1 435.4h0.9v0.9h-0.9zM183.4 436.0h0.9v0.9h-0.9zM181.6 441.4h0.9v0.9h-0.9zM188.9 441.1h0.9v0.9h-0.9zM181.7 434.8h0.9v0.9h-0.9zM205.5 421.3h0.9v0.9h-0.9zM193.8 433.2h0.9v0.9h-0.9zM181.0 441.8h0.9v0.9h-0.9zM186.2 437.1h0.9v0.9h-0.9zM191.9 443.0h0.9v0.9h-0.9zM186.9 442.6h0.9v0.9h-0.9zM189.4 442.5h0.9v0.9h-0.9zM185.0 431.4h0.9v0.9h-0.9zM206.2 430.5h0.9v0.9h-0.9zM190.1 440.4h0.9v0.9h-0.9zM187.1 437.0h0.9v0.9h-0.9zM185.1 436.0h0.9v0.9h-0.9zM184.5 439.4h0.9v0.9h-0.9zM189.6 434.9h0.9v0.9h-0.9zM203.2 422.3h0.9v0.9h-0.9zM190.7 442.3h0.9v0.9h-0.9zM185.2 437.7h0.9v0.9h-0.9zM190.4 424.0h0.9v0.9h-0.9zM182.3 443.1h0.9v0.9h-0.9zM193.2 413.4h0.9v0.9h-0.9zM183.5 435.8h0.9v0.9h-0.9zM183.9 439.3h0.9v0.9h-0.9zM187.1 433.8h0.9v0.9h-0.9zM194.9 439.6h0.9v0.9h-0.9zM185.1 438.4h0.9v0.9h-0.9zM206.6 437.4h0.9v0.9h-0.9zM196.0 415.5h0.9v0.9h-0.9zM181.2 431.4h0.9v0.9h-0.9zM181.7 437.7h0.9v0.9h-0.9zM187.0 442.5h0.9v0.9h-0.9zM186.2 433.8h0.9v0.9h-0.9zM183.6 437.0h0.9v0.9h-0.9zM184.0 441.9h0.9v0.9h-0.9zM182.8 420.5h0.9v0.9h-0.9zM187.1 437.0h0.9v0.9h-0.9zM190.8 428.7h0.9v0.9h-0.9zM189.5 439.1h0.9v0.9h-0.9zM185.7 440.1h0.9v0.9h-0.9zM181.4 422.5h0.9v0.9h-0.9zM181.5 439.5h0.9v0.9h-0.9zM192.5 440.2h0.9v0.9h-0.9zM195.5 443.0h0.9v0.9h-0.9zM182.0 438.5h0.9v0.9h-0.9zM187.1 430.6h0.9v0.9h-0.9zM194.6 429.5h0.9v0.9h-0.9zM182.2 404.9h0.9v0.9h-0.9zM181.3 438.2h0.9v0.9h-0.9zM183.6 443.0h0.9v0.9h-0.9zM182.4 402.6h0.9v0.9h-0.9zM202.1 439.8h0.9v0.9h-0.9zM235.9 432.5h0.9v0.9h-0.9zM181.2 435.8h0.9v0.9h-0.9zM182.4 440.6h0.9v0.9h-0.9zM188.6 441.3h0.9v0.9h-0.9zM183.6 443.2h0.9v0.9h-0.9zM183.3 440.3h0.9v0.9h-0.9zM181.7 442.4h0.9v0.9h-0.9zM184.1 442.5h0.9v0.9h-0.9zM197.5 440.8h0.9v0.9h-0.9zM183.7 442.7h0.9v0.9h-0.9zM191.0 441.5h0.9v0.9h-0.9zM181.5 439.5h0.9v0.9h-0.9zM195.6 423.2h0.9v0.9h-0.9zM184.8 436.3h0.9v0.9h-0.9zM181.5 424.5h0.9v0.9h-0.9zM189.4 440.9h0.9v0.9h-0.9zM192.0 441.8h0.9v0.9h-0.9zM197.5 386.1h0.9v0.9h-0.9zM204.3 383.3h0.9v0.9h-0.9zM202.4 383.6h0.9v0.9h-0.9zM159.9 372.3h0.9v0.9h-0.9zM222.1 399.0h0.9v0.9h-0.9zM199.8 416.0h0.9v0.9h-0.9zM179.2 378.3h0.9v0.9h-0.9zM191.4 423.3h0.9v0.9h-0.9zM217.5 400.0h0.9v0.9h-0.9zM207.5 383.6h0.9v0.9h-0.9zM234.9 414.4h0.9v0.9h-0.9zM223.3 392.7h0.9v0.9h-0.9z" fill="#aaa"/>
<path d="M196.5 377.7h0.9v0.9h-0.9zM194.8 379.0h0.9v0.9h-0.9zM203.7 385.3h0.9v0.9h-0.9zM202.1 383.3h0.9v0.9h-0.9zM209.2 382.4h0.9v0.9h-0.9zM206.4 379.5h0.9v0.9h-0.9zM208.2 383.5h0.9v0.9h-0.9zM200.0 376.1h0.9v0.9h-0.9zM201.3 375.5h0.9v0.9h-0.9zM202.3 378.9h0.9v0.9h-0.9zM200.3 379.3h0.9v0.9h-0.9zM212.8 380.1h0.9v0.9h-0.9zM212.2 379.5h0.9v0.9h-0.9zM205.8 375.8h0.9v0.9h-0.9zM213.0 380.9h0.9v0.9h-0.9zM214.4 379.7h0.9v0.9h-0.9zM201.2 386.3h0.9v0.9h-0.9zM198.1 373.8h0.9v0.9h-0.9zM210.1 376.7h0.9v0.9h-0.9zM197.6 380.8h0.9v0.9h-0.9zM200.0 385.4h0.9v0.9h-0.9zM218.5 386.6h0.9v0.9h-0.9z" fill="#b0b0b0"/>
<g filter="url(#b0)">
<path d="M158.0 378.0h1.0v1.0h-1.0zM158.0 379.0h1.0v1.0h-1.0zM158.0 380.0h1.0v1.0h-1.0zM158.0 381.0h1.0v1.0h-1.0zM158.0 382.0h1.0v1.0h-1.0zM158.0 383.0h1.0v1.0h-1.0zM159.0 378.0h1.0v1.0h-1.0zM159.0 380.0h1.0v1.0h-1.0zM159.0 382.0h1.0v1.0h-1.0zM159.0 383.0h1.0v1.0h-1.0zM159.0 384.0h1.0v1.0h-1.0zM160.0 377.0h1.0v1.0h-1.0zM160.0 380.0h1.0v1.0h-1.0zM160.0 382.0h1.0v1.0h-1.0zM160.0 383.0h1.0v1.0h-1.0zM160.0 384.0h1.0v1.0h-1.0zM161.0 377.0h1.0v1.0h-1.0zM161.0 378.0h1.0v1.0h-1.0zM161.0 379.0h1.0v1.0h-1.0zM161.0 381.0h1.0v1.0h-1.0zM161.0 382.0h1.0v1.0h-1.0zM161.0 383.0h1.0v1.0h-1.0zM161.0 384.0h1.0v1.0h-1.0zM161.0 385.0h1.0v1.0h-1.0zM161.0 386.0h1.0v1.0h-1.0zM162.0 377.0h1.0v1.0h-1.0zM162.0 378.0h1.0v1.0h-1.0zM162.0 380.0h1.0v1.0h-1.0zM162.0 381.0h1.0v1.0h-1.0zM162.0 382.0h1.0v1.0h-1.0zM162.0 386.0h1.0v1.0h-1.0zM163.0 378.0h1.0v1.0h-1.0zM163.0 379.0h1.0v1.0h-1.0zM163.0 380.0h1.0v1.0h-1.0zM163.0 381.0h1.0v1.0h-1.0zM163.0 384.0h1.0v1.0h-1.0zM163.0 386.0h1.0v1.0h-1.0zM164.0 377.0h1.0v1.0h-1.0zM164.0 379.0h1.0v1.0h-1.0zM164.0 380.0h1.0v1.0h-1.0zM164.0 381.0h1.0v1.0h-1.0zM164.0 382.0h1.0v1.0h-1.0zM164.0 384.0h1.0v1.0h-1.0zM165.0 379.0h1.0v1.0h-1.0zM165.0 381.0h1.0v1.0h-1.0zM165.0 382.0h1.0v1.0h-1.0zM165.0 383.0h1.0v1.0h-1.0zM165.0 386.0h1.0v1.0h-1.0zM166.0 378.0h1.0v1.0h-1.0zM166.0 379.0h1.0v1.0h-1.0zM166.0 380.0h1.0v1.0h-1.0zM166.0 382.0h1.0v1.0h-1.0zM166.0 383.0h1.0v1.0h-1.0zM166.0 384.0h1.0v1.0h-1.0zM167.0 376.0h1.0v1.0h-1.0zM167.0 377.0h1.0v1.0h-1.0zM167.0 378.0h1.0v1.0h-1.0zM167.0 380.0h1.0v1.0h-1.0zM167.0 381.0h1.0v1.0h-1.0zM167.0 382.0h1.0v1.0h-1.0zM167.0 384.0h1.0v1.0h-1.0zM167.0 388.0h1.0v1.0h-1.0zM168.0 376.0h1.0v1.0h-1.0zM168.0 378.0h1.0v1.0h-1.0zM168.0 379.0h1.0v1.0h-1.0zM168.0 380.0h1.0v1.0h-1.0zM168.0 381.0h1.0v1.0h-1.0zM168.0 384.0h1.0v1.0h-1.0zM169.0 377.0h1.0v1.0h-1.0zM169.0 378.0h1.0v1.0h-1.0zM169.0 379.0h1.0v1.0h-1.0zM169.0 380.0h1.0v1.0h-1.0zM169.0 382.0h1.0v1.0h-1.0zM169.0 383.0h1.0v1.0h-1.0zM169.0 384.0h1.0v1.0h-1.0zM170.0 379.0h1.0v1.0h-1.0zM170.0 380.0h1.0v1.0h-1.0zM170.0 381.0h1.0v1.0h-1.0zM170.0 382.0h1.0v1.0h-1.0zM170.0 383.0h1.0v1.0h-1.0zM171.0 377.0h1.0v1.0h-1.0zM171.0 378.0h1.0v1.0h-1.0zM171.0 379.0h1.0v1.0h-1.0zM171.0 381.0h1.0v1.0h-1.0zM171.0 382.0h1.0v1.0h-1.0zM171.0 383.0h1.0v1.0h-1.0zM172.0 378.0h1.0v1.0h-1.0zM172.0 379.0h1.0v1.0h-1.0zM172.0 380.0h1.0v1.0h-1.0zM172.0 381.0h1.0v1.0h-1.0zM172.0 384.0h1.0v1.0h-1.0zM173.0 377.0h1.0v1.0h-1.0zM173.0 378.0h1.0v1.0h-1.0zM173.0 379.0h1.0v1.0h-1.0zM173.0 381.0h1.0v1.0h-1.0zM173.0 382.0h1.0v1.0h-1.0zM173.0 383.0h1.0v1.0h-1.0zM173.0 384.0h1.0v1.0h-1.0zM174.0 377.0h1.0v1.0h-1.0zM174.0 378.0h1.0v1.0h-1.0zM174.0 379.0h1.0v1.0h-1.0zM174.0 380.0h1.0v1.0h-1.0zM174.0 381.0h1.0v1.0h-1.0zM174.0 383.0h1.0v1.0h-1.0zM174.0 386.0h1.0v1.0h-1.0zM175.0 378.0h1.0v1.0h-1.0zM175.0 379.0h1.0v1.0h-1.0zM175.0 380.0h1.0v1.0h-1.0zM175.0 381.0h1.0v1.0h-1.0zM175.0 383.0h1.0v1.0h-1.0zM175.0 384.0h1.0v1.0h-1.0zM176.0 377.0h1.0v1.0h-1.0zM176.0 378.0h1.0v1.0h-1.0zM176.0 380.0h1.0v1.0h-1.0zM176.0 381.0h1.0v1.0h-1.0zM176.0 382.0h1.0v1.0h-1.0zM176.0 383.0h1.0v1.0h-1.0zM176.0 388.0h1.0v1.0h-1.0zM177.0 375.0h1.0v1.0h-1.0zM177.0 376.0h1.0v1.0h-1.0zM177.0 378.0h1.0v1.0h-1.0zM177.0 380.0h1.0v1.0h-1.0zM177.0 381.0h1.0v1.0h-1.0zM177.0 382.0h1.0v1.0h-1.0zM177.0 384.0h1.0v1.0h-1.0zM178.0 377.0h1.0v1.0h-1.0zM178.0 378.0h1.0v1.0h-1.0zM178.0 379.0h1.0v1.0h-1.0zM178.0 380.0h1.0v1.0h-1.0zM178.0 381.0h1.0v1.0h-1.0zM178.0 384.0h1.0v1.0h-1.0zM178.0 387.0h1.0v1.0h-1.0zM179.0 377.0h1.0v1.0h-1.0zM179.0 379.0h1.0v1.0h-1.0zM179.0 381.0h1.0v1.0h-1.0zM179.0 383.0h1.0v1.0h-1.0zM181.0 380.0h1.0v1.0h-1.0zM184.0 380.0h1.0v1.0h-1.0z" fill="#333"/>
<path d="M154.6 423.0 H175.0 Q180.0 423.0 180.0 428.0 V447.2 H154.6 Z" fill="#141414"/>
<path d="M158.0 423.0h1.0v1.0h-1.0zM158.0 424.0h1.0v1.0h-1.0zM158.0 425.0h1.0v1.0h-1.0zM158.0 426.0h1.0v1.0h-1.0zM158.0 427.0h1.0v1.0h-1.0zM158.0 428.0h1.0v1.0h-1.0zM158.0 429.0h1.0v1.0h-1.0zM158.0 430.0h1.0v1.0h-1.0zM158.0 431.0h1.0v1.0h-1.0zM158.0 432.0h1.0v1.0h-1.0zM158.0 433.0h1.0v1.0h-1.0zM158.0 434.0h1.0v1.0h-1.0zM158.0 435.0h1.0v1.0h-1.0zM158.0 436.0h1.0v1.0h-1.0zM158.0 437.0h1.0v1.0h-1.0zM158.0 438.0h1.0v1.0h-1.0zM158.0 439.0h1.0v1.0h-1.0zM158.0 440.0h1.0v1.0h-1.0zM158.0 441.0h1.0v1.0h-1.0zM158.0 442.0h1.0v1.0h-1.0zM158.0 443.0h1.0v1.0h-1.0zM158.0 444.0h1.0v1.0h-1.0zM159.0 415.0h1.0v1.0h-1.0zM159.0 420.0h1.0v1.0h-1.0zM159.0 421.0h1.0v1.0h-1.0zM159.0 423.0h1.0v1.0h-1.0zM159.0 424.0h1.0v1.0h-1.0zM159.0 425.0h1.0v1.0h-1.0zM159.0 426.0h1.0v1.0h-1.0zM159.0 427.0h1.0v1.0h-1.0zM159.0 428.0h1.0v1.0h-1.0zM159.0 429.0h1.0v1.0h-1.0zM159.0 430.0h1.0v1.0h-1.0zM159.0 431.0h1.0v1.0h-1.0zM159.0 432.0h1.0v1.0h-1.0zM159.0 433.0h1.0v1.0h-1.0zM159.0 434.0h1.0v1.0h-1.0zM159.0 435.0h1.0v1.0h-1.0zM159.0 436.0h1.0v1.0h-1.0zM159.0 437.0h1.0v1.0h-1.0zM159.0 438.0h1.0v1.0h-1.0zM159.0 439.0h1.0v1.0h-1.0zM159.0 440.0h1.0v1.0h-1.0zM159.0 441.0h1.0v1.0h-1.0zM159.0 442.0h1.0v1.0h-1.0zM159.0 443.0h1.0v1.0h-1.0zM159.0 444.0h1.0v1.0h-1.0zM160.0 423.0h1.0v1.0h-1.0zM160.0 424.0h1.0v1.0h-1.0zM160.0 425.0h1.0v1.0h-1.0zM160.0 426.0h1.0v1.0h-1.0zM160.0 427.0h1.0v1.0h-1.0zM160.0 428.0h1.0v1.0h-1.0zM160.0 429.0h1.0v1.0h-1.0zM160.0 430.0h1.0v1.0h-1.0zM160.0 431.0h1.0v1.0h-1.0zM160.0 432.0h1.0v1.0h-1.0zM160.0 433.0h1.0v1.0h-1.0zM160.0 434.0h1.0v1.0h-1.0zM160.0 435.0h1.0v1.0h-1.0zM160.0 436.0h1.0v1.0h-1.0zM160.0 437.0h1.0v1.0h-1.0zM160.0 438.0h1.0v1.0h-1.0zM160.0 439.0h1.0v1.0h-1.0zM160.0 440.0h1.0v1.0h-1.0zM160.0 441.0h1.0v1.0h-1.0zM160.0 442.0h1.0v1.0h-1.0zM160.0 443.0h1.0v1.0h-1.0zM160.0 444.0h1.0v1.0h-1.0zM161.0 418.0h1.0v1.0h-1.0zM161.0 421.0h1.0v1.0h-1.0zM161.0 422.0h1.0v1.0h-1.0zM161.0 423.0h1.0v1.0h-1.0zM161.0 424.0h1.0v1.0h-1.0zM161.0 425.0h1.0v1.0h-1.0zM161.0 426.0h1.0v1.0h-1.0zM161.0 427.0h1.0v1.0h-1.0zM161.0 428.0h1.0v1.0h-1.0zM161.0 429.0h1.0v1.0h-1.0zM161.0 430.0h1.0v1.0h-1.0zM161.0 431.0h1.0v1.0h-1.0zM161.0 432.0h1.0v1.0h-1.0zM161.0 433.0h1.0v1.0h-1.0zM161.0 434.0h1.0v1.0h-1.0zM161.0 435.0h1.0v1.0h-1.0zM161.0 436.0h1.0v1.0h-1.0zM161.0 437.0h1.0v1.0h-1.0zM161.0 438.0h1.0v1.0h-1.0zM161.0 439.0h1.0v1.0h-1.0zM161.0 440.0h1.0v1.0h-1.0zM161.0 441.0h1.0v1.0h-1.0zM161.0 442.0h1.0v1.0h-1.0zM161.0 443.0h1.0v1.0h-1.0zM161.0 444.0h1.0v1.0h-1.0zM162.0 421.0h1.0v1.0h-1.0zM162.0 422.0h1.0v1.0h-1.0zM162.0 423.0h1.0v1.0h-1.0zM162.0 424.0h1.0v1.0h-1.0zM162.0 425.0h1.0v1.0h-1.0zM162.0 426.0h1.0v1.0h-1.0zM162.0 427.0h1.0v1.0h-1.0zM162.0 428.0h1.0v1.0h-1.0zM162.0 429.0h1.0v1.0h-1.0zM162.0 430.0h1.0v1.0h-1.0zM162.0 431.0h1.0v1.0h-1.0zM162.0 432.0h1.0v1.0h-1.0zM162.0 433.0h1.0v1.0h-1.0zM162.0 434.0h1.0v1.0h-1.0zM162.0 435.0h1.0v1.0h-1.0zM162.0 436.0h1.0v1.0h-1.0zM162.0 437.0h1.0v1.0h-1.0zM162.0 438.0h1.0v1.0h-1.0zM162.0 439.0h1.0v1.0h-1.0zM162.0 440.0h1.0v1.0h-1.0zM162.0 441.0h1.0v1.0h-1.0zM162.0 442.0h1.0v1.0h-1.0zM162.0 443.0h1.0v1.0h-1.0zM162.0 444.0h1.0v1.0h-1.0zM163.0 422.0h1.0v1.0h-1.0zM163.0 423.0h1.0v1.0h-1.0zM163.0 424.0h1.0v1.0h-1.0zM163.0 425.0h1.0v1.0h-1.0zM163.0 426.0h1.0v1.0h-1.0zM163.0 427.0h1.0v1.0h-1.0zM163.0 428.0h1.0v1.0h-1.0zM163.0 429.0h1.0v1.0h-1.0zM163.0 430.0h1.0v1.0h-1.0zM163.0 431.0h1.0v1.0h-1.0zM163.0 432.0h1.0v1.0h-1.0zM163.0 433.0h1.0v1.0h-1.0zM163.0 434.0h1.0v1.0h-1.0zM163.0 435.0h1.0v1.0h-1.0zM163.0 436.0h1.0v1.0h-1.0zM163.0 437.0h1.0v1.0h-1.0zM163.0 438.0h1.0v1.0h-1.0zM163.0 439.0h1.0v1.0h-1.0zM163.0 440.0h1.0v1.0h-1.0zM163.0 441.0h1.0v1.0h-1.0zM163.0 442.0h1.0v1.0h-1.0zM163.0 443.0h1.0v1.0h-1.0zM163.0 444.0h1.0v1.0h-1.0zM164.0 418.0h1.0v1.0h-1.0zM164.0 421.0h1.0v1.0h-1.0zM164.0 423.0h1.0v1.0h-1.0zM164.0 424.0h1.0v1.0h-1.0zM164.0 425.0h1.0v1.0h-1.0zM164.0 426.0h1.0v1.0h-1.0zM164.0 427.0h1.0v1.0h-1.0zM164.0 428.0h1.0v1.0h-1.0zM164.0 429.0h1.0v1.0h-1.0zM164.0 430.0h1.0v1.0h-1.0zM164.0 431.0h1.0v1.0h-1.0zM164.0 432.0h1.0v1.0h-1.0zM164.0 433.0h1.0v1.0h-1.0zM164.0 434.0h1.0v1.0h-1.0zM164.0 435.0h1.0v1.0h-1.0zM164.0 436.0h1.0v1.0h-1.0zM164.0 437.0h1.0v1.0h-1.0zM164.0 438.0h1.0v1.0h-1.0zM164.0 439.0h1.0v1.0h-1.0zM164.0 440.0h1.0v1.0h-1.0zM164.0 441.0h1.0v1.0h-1.0zM164.0 442.0h1.0v1.0h-1.0zM164.0 443.0h1.0v1.0h-1.0zM164.0 444.0h1.0v1.0h-1.0zM165.0 421.0h1.0v1.0h-1.0zM165.0 422.0h1.0v1.0h-1.0zM165.0 423.0h1.0v1.0h-1.0zM165.0 424.0h1.0v1.0h-1.0zM165.0 425.0h1.0v1.0h-1.0zM165.0 426.0h1.0v1.0h-1.0zM165.0 427.0h1.0v1.0h-1.0zM165.0 428.0h1.0v1.0h-1.0zM165.0 429.0h1.0v1.0h-1.0zM165.0 430.0h1.0v1.0h-1.0zM165.0 431.0h1.0v1.0h-1.0zM165.0 432.0h1.0v1.0h-1.0zM165.0 433.0h1.0v1.0h-1.0zM165.0 434.0h1.0v1.0h-1.0zM165.0 435.0h1.0v1.0h-1.0zM165.0 436.0h1.0v1.0h-1.0zM165.0 437.0h1.0v1.0h-1.0zM165.0 438.0h1.0v1.0h-1.0zM165.0 439.0h1.0v1.0h-1.0zM165.0 440.0h1.0v1.0h-1.0zM165.0 441.0h1.0v1.0h-1.0zM165.0 442.0h1.0v1.0h-1.0zM165.0 443.0h1.0v1.0h-1.0zM165.0 444.0h1.0v1.0h-1.0zM166.0 419.0h1.0v1.0h-1.0zM166.0 422.0h1.0v1.0h-1.0zM166.0 423.0h1.0v1.0h-1.0zM166.0 424.0h1.0v1.0h-1.0zM166.0 425.0h1.0v1.0h-1.0zM166.0 426.0h1.0v1.0h-1.0zM166.0 427.0h1.0v1.0h-1.0zM166.0 428.0h1.0v1.0h-1.0zM166.0 429.0h1.0v1.0h-1.0zM166.0 430.0h1.0v1.0h-1.0zM166.0 431.0h1.0v1.0h-1.0zM166.0 432.0h1.0v1.0h-1.0zM166.0 433.0h1.0v1.0h-1.0zM166.0 434.0h1.0v1.0h-1.0zM166.0 435.0h1.0v1.0h-1.0zM166.0 436.0h1.0v1.0h-1.0zM166.0 437.0h1.0v1.0h-1.0zM166.0 438.0h1.0v1.0h-1.0zM166.0 439.0h1.0v1.0h-1.0zM166.0 440.0h1.0v1.0h-1.0zM166.0 441.0h1.0v1.0h-1.0zM166.0 442.0h1.0v1.0h-1.0zM166.0 443.0h1.0v1.0h-1.0zM166.0 444.0h1.0v1.0h-1.0zM167.0 420.0h1.0v1.0h-1.0zM167.0 421.0h1.0v1.0h-1.0zM167.0 422.0h1.0v1.0h-1.0zM167.0 423.0h1.0v1.0h-1.0zM167.0 424.0h1.0v1.0h-1.0zM167.0 425.0h1.0v1.0h-1.0zM167.0 426.0h1.0v1.0h-1.0zM167.0 427.0h1.0v1.0h-1.0zM167.0 428.0h1.0v1.0h-1.0zM167.0 429.0h1.0v1.0h-1.0zM167.0 430.0h1.0v1.0h-1.0zM167.0 431.0h1.0v1.0h-1.0zM167.0 432.0h1.0v1.0h-1.0zM167.0 433.0h1.0v1.0h-1.0zM167.0 434.0h1.0v1.0h-1.0zM167.0 435.0h1.0v1.0h-1.0zM167.0 436.0h1.0v1.0h-1.0zM167.0 437.0h1.0v1.0h-1.0zM167.0 438.0h1.0v1.0h-1.0zM167.0 439.0h1.0v1.0h-1.0zM167.0 440.0h1.0v1.0h-1.0zM167.0 441.0h1.0v1.0h-1.0zM167.0 442.0h1.0v1.0h-1.0zM167.0 443.0h1.0v1.0h-1.0zM167.0 444.0h1.0v1.0h-1.0zM168.0 422.0h1.0v1.0h-1.0zM168.0 423.0h1.0v1.0h-1.0zM168.0 424.0h1.0v1.0h-1.0zM168.0 425.0h1.0v1.0h-1.0zM168.0 426.0h1.0v1.0h-1.0zM168.0 427.0h1.0v1.0h-1.0zM168.0 428.0h1.0v1.0h-1.0zM168.0 429.0h1.0v1.0h-1.0zM168.0 430.0h1.0v1.0h-1.0zM168.0 431.0h1.0v1.0h-1.0zM168.0 432.0h1.0v1.0h-1.0zM168.0 433.0h1.0v1.0h-1.0zM168.0 434.0h1.0v1.0h-1.0zM168.0 435.0h1.0v1.0h-1.0zM168.0 436.0h1.0v1.0h-1.0zM168.0 437.0h1.0v1.0h-1.0zM168.0 438.0h1.0v1.0h-1.0zM168.0 439.0h1.0v1.0h-1.0zM168.0 440.0h1.0v1.0h-1.0zM168.0 441.0h1.0v1.0h-1.0zM168.0 442.0h1.0v1.0h-1.0zM168.0 443.0h1.0v1.0h-1.0zM168.0 444.0h1.0v1.0h-1.0zM169.0 421.0h1.0v1.0h-1.0zM169.0 422.0h1.0v1.0h-1.0zM169.0 423.0h1.0v1.0h-1.0zM169.0 424.0h1.0v1.0h-1.0zM169.0 425.0h1.0v1.0h-1.0zM169.0 426.0h1.0v1.0h-1.0zM169.0 427.0h1.0v1.0h-1.0zM169.0 428.0h1.0v1.0h-1.0zM169.0 429.0h1.0v1.0h-1.0zM169.0 430.0h1.0v1.0h-1.0zM169.0 431.0h1.0v1.0h-1.0zM169.0 432.0h1.0v1.0h-1.0zM169.0 433.0h1.0v1.0h-1.0zM169.0 434.0h1.0v1.0h-1.0zM169.0 435.0h1.0v1.0h-1.0zM169.0 436.0h1.0v1.0h-1.0zM169.0 437.0h1.0v1.0h-1.0zM169.0 438.0h1.0v1.0h-1.0zM169.0 439.0h1.0v1.0h-1.0zM169.0 440.0h1.0v1.0h-1.0zM169.0 441.0h1.0v1.0h-1.0zM169.0 442.0h1.0v1.0h-1.0zM169.0 443.0h1.0v1.0h-1.0zM169.0 444.0h1.0v1.0h-1.0zM170.0 422.0h1.0v1.0h-1.0zM170.0 423.0h1.0v1.0h-1.0zM170.0 424.0h1.0v1.0h-1.0zM170.0 425.0h1.0v1.0h-1.0zM170.0 426.0h1.0v1.0h-1.0zM170.0 427.0h1.0v1.0h-1.0zM170.0 428.0h1.0v1.0h-1.0zM170.0 429.0h1.0v1.0h-1.0zM170.0 430.0h1.0v1.0h-1.0zM170.0 431.0h1.0v1.0h-1.0zM170.0 432.0h1.0v1.0h-1.0zM170.0 433.0h1.0v1.0h-1.0zM170.0 434.0h1.0v1.0h-1.0zM170.0 435.0h1.0v1.0h-1.0zM170.0 436.0h1.0v1.0h-1.0zM170.0 437.0h1.0v1.0h-1.0zM170.0 438.0h1.0v1.0h-1.0zM170.0 439.0h1.0v1.0h-1.0zM170.0 440.0h1.0v1.0h-1.0zM170.0 441.0h1.0v1.0h-1.0zM170.0 442.0h1.0v1.0h-1.0zM170.0 443.0h1.0v1.0h-1.0zM170.0 444.0h1.0v1.0h-1.0zM171.0 416.0h1.0v1.0h-1.0zM171.0 421.0h1.0v1.0h-1.0zM171.0 422.0h1.0v1.0h-1.0zM171.0 423.0h1.0v1.0h-1.0zM171.0 424.0h1.0v1.0h-1.0zM171.0 425.0h1.0v1.0h-1.0zM171.0 426.0h1.0v1.0h-1.0zM171.0 427.0h1.0v1.0h-1.0zM171.0 428.0h1.0v1.0h-1.0zM171.0 429.0h1.0v1.0h-1.0zM171.0 430.0h1.0v1.0h-1.0zM171.0 431.0h1.0v1.0h-1.0zM171.0 432.0h1.0v1.0h-1.0zM171.0 433.0h1.0v1.0h-1.0zM171.0 434.0h1.0v1.0h-1.0zM171.0 435.0h1.0v1.0h-1.0zM171.0 436.0h1.0v1.0h-1.0zM171.0 437.0h1.0v1.0h-1.0zM171.0 438.0h1.0v1.0h-1.0zM171.0 439.0h1.0v1.0h-1.0zM171.0 440.0h1.0v1.0h-1.0zM171.0 441.0h1.0v1.0h-1.0zM171.0 442.0h1.0v1.0h-1.0zM171.0 443.0h1.0v1.0h-1.0zM171.0 444.0h1.0v1.0h-1.0zM172.0 420.0h1.0v1.0h-1.0zM172.0 421.0h1.0v1.0h-1.0zM172.0 422.0h1.0v1.0h-1.0zM172.0 423.0h1.0v1.0h-1.0zM172.0 424.0h1.0v1.0h-1.0zM172.0 425.0h1.0v1.0h-1.0zM172.0 426.0h1.0v1.0h-1.0zM172.0 427.0h1.0v1.0h-1.0zM172.0 428.0h1.0v1.0h-1.0zM172.0 429.0h1.0v1.0h-1.0zM172.0 430.0h1.0v1.0h-1.0zM172.0 431.0h1.0v1.0h-1.0zM172.0 432.0h1.0v1.0h-1.0zM172.0 433.0h1.0v1.0h-1.0zM172.0 434.0h1.0v1.0h-1.0zM172.0 435.0h1.0v1.0h-1.0zM172.0 436.0h1.0v1.0h-1.0zM172.0 437.0h1.0v1.0h-1.0zM172.0 438.0h1.0v1.0h-1.0zM172.0 439.0h1.0v1.0h-1.0zM172.0 440.0h1.0v1.0h-1.0zM172.0 441.0h1.0v1.0h-1.0zM172.0 442.0h1.0v1.0h-1.0zM172.0 443.0h1.0v1.0h-1.0zM172.0 444.0h1.0v1.0h-1.0zM173.0 421.0h1.0v1.0h-1.0zM173.0 423.0h1.0v1.0h-1.0zM173.0 424.0h1.0v1.0h-1.0zM173.0 425.0h1.0v1.0h-1.0zM173.0 426.0h1.0v1.0h-1.0zM173.0 427.0h1.0v1.0h-1.0zM173.0 428.0h1.0v1.0h-1.0zM173.0 429.0h1.0v1.0h-1.0zM173.0 430.0h1.0v1.0h-1.0zM173.0 431.0h1.0v1.0h-1.0zM173.0 432.0h1.0v1.0h-1.0zM173.0 433.0h1.0v1.0h-1.0zM173.0 434.0h1.0v1.0h-1.0zM173.0 435.0h1.0v1.0h-1.0zM173.0 436.0h1.0v1.0h-1.0zM173.0 437.0h1.0v1.0h-1.0zM173.0 438.0h1.0v1.0h-1.0zM173.0 439.0h1.0v1.0h-1.0zM173.0 440.0h1.0v1.0h-1.0zM173.0 441.0h1.0v1.0h-1.0zM173.0 442.0h1.0v1.0h-1.0zM173.0 443.0h1.0v1.0h-1.0zM173.0 444.0h1.0v1.0h-1.0zM174.0 421.0h1.0v1.0h-1.0zM174.0 423.0h1.0v1.0h-1.0zM174.0 424.0h1.0v1.0h-1.0zM174.0 425.0h1.0v1.0h-1.0zM174.0 426.0h1.0v1.0h-1.0zM174.0 427.0h1.0v1.0h-1.0zM174.0 428.0h1.0v1.0h-1.0zM174.0 429.0h1.0v1.0h-1.0zM174.0 430.0h1.0v1.0h-1.0zM174.0 431.0h1.0v1.0h-1.0zM174.0 432.0h1.0v1.0h-1.0zM174.0 433.0h1.0v1.0h-1.0zM174.0 434.0h1.0v1.0h-1.0zM174.0 435.0h1.0v1.0h-1.0zM174.0 436.0h1.0v1.0h-1.0zM174.0 437.0h1.0v1.0h-1.0zM174.0 438.0h1.0v1.0h-1.0zM174.0 439.0h1.0v1.0h-1.0zM174.0 440.0h1.0v1.0h-1.0zM174.0 441.0h1.0v1.0h-1.0zM174.0 442.0h1.0v1.0h-1.0zM174.0 443.0h1.0v1.0h-1.0zM174.0 444.0h1.0v1.0h-1.0zM175.0 421.0h1.0v1.0h-1.0zM175.0 422.0h1.0v1.0h-1.0zM175.0 423.0h1.0v1.0h-1.0zM175.0 424.0h1.0v1.0h-1.0zM175.0 425.0h1.0v1.0h-1.0zM175.0 426.0h1.0v1.0h-1.0zM175.0 427.0h1.0v1.0h-1.0zM175.0 428.0h1.0v1.0h-1.0zM175.0 429.0h1.0v1.0h-1.0zM175.0 430.0h1.0v1.0h-1.0zM175.0 431.0h1.0v1.0h-1.0zM175.0 432.0h1.0v1.0h-1.0zM175.0 433.0h1.0v1.0h-1.0zM175.0 434.0h1.0v1.0h-1.0zM175.0 435.0h1.0v1.0h-1.0zM175.0 436.0h1.0v1.0h-1.0zM175.0 437.0h1.0v1.0h-1.0zM175.0 438.0h1.0v1.0h-1.0zM175.0 439.0h1.0v1.0h-1.0zM175.0 440.0h1.0v1.0h-1.0zM175.0 441.0h1.0v1.0h-1.0zM175.0 442.0h1.0v1.0h-1.0zM175.0 443.0h1.0v1.0h-1.0zM175.0 444.0h1.0v1.0h-1.0zM176.0 421.0h1.0v1.0h-1.0zM176.0 422.0h1.0v1.0h-1.0zM176.0 423.0h1.0v1.0h-1.0zM176.0 424.0h1.0v1.0h-1.0zM176.0 425.0h1.0v1.0h-1.0zM176.0 426.0h1.0v1.0h-1.0zM176.0 427.0h1.0v1.0h-1.0zM176.0 428.0h1.0v1.0h-1.0zM176.0 429.0h1.0v1.0h-1.0zM176.0 430.0h1.0v1.0h-1.0zM176.0 431.0h1.0v1.0h-1.0zM176.0 432.0h1.0v1.0h-1.0zM176.0 433.0h1.0v1.0h-1.0zM176.0 434.0h1.0v1.0h-1.0zM176.0 435.0h1.0v1.0h-1.0zM176.0 436.0h1.0v1.0h-1.0zM176.0 437.0h1.0v1.0h-1.0zM176.0 438.0h1.0v1.0h-1.0zM176.0 439.0h1.0v1.0h-1.0zM176.0 440.0h1.0v1.0h-1.0zM176.0 441.0h1.0v1.0h-1.0zM176.0 442.0h1.0v1.0h-1.0zM176.0 443.0h1.0v1.0h-1.0zM176.0 444.0h1.0v1.0h-1.0zM177.0 420.0h1.0v1.0h-1.0zM177.0 423.0h1.0v1.0h-1.0zM177.0 424.0h1.0v1.0h-1.0zM177.0 425.0h1.0v1.0h-1.0zM177.0 426.0h1.0v1.0h-1.0zM177.0 427.0h1.0v1.0h-1.0zM177.0 428.0h1.0v1.0h-1.0zM177.0 429.0h1.0v1.0h-1.0zM177.0 430.0h1.0v1.0h-1.0zM177.0 431.0h1.0v1.0h-1.0zM177.0 432.0h1.0v1.0h-1.0zM177.0 433.0h1.0v1.0h-1.0zM177.0 434.0h1.0v1.0h-1.0zM177.0 435.0h1.0v1.0h-1.0zM177.0 436.0h1.0v1.0h-1.0zM177.0 437.0h1.0v1.0h-1.0zM177.0 438.0h1.0v1.0h-1.0zM177.0 439.0h1.0v1.0h-1.0zM177.0 440.0h1.0v1.0h-1.0zM177.0 441.0h1.0v1.0h-1.0zM177.0 442.0h1.0v1.0h-1.0zM177.0 443.0h1.0v1.0h-1.0zM177.0 444.0h1.0v1.0h-1.0zM178.0 422.0h1.0v1.0h-1.0zM178.0 423.0h1.0v1.0h-1.0zM178.0 424.0h1.0v1.0h-1.0zM178.0 425.0h1.0v1.0h-1.0zM178.0 426.0h1.0v1.0h-1.0zM178.0 427.0h1.0v1.0h-1.0zM178.0 428.0h1.0v1.0h-1.0zM178.0 429.0h1.0v1.0h-1.0zM178.0 430.0h1.0v1.0h-1.0zM178.0 431.0h1.0v1.0h-1.0zM178.0 432.0h1.0v1.0h-1.0zM178.0 433.0h1.0v1.0h-1.0zM178.0 434.0h1.0v1.0h-1.0zM178.0 435.0h1.0v1.0h-1.0zM178.0 436.0h1.0v1.0h-1.0zM178.0 437.0h1.0v1.0h-1.0zM178.0 438.0h1.0v1.0h-1.0zM178.0 439.0h1.0v1.0h-1.0zM178.0 440.0h1.0v1.0h-1.0zM178.0 441.0h1.0v1.0h-1.0zM178.0 442.0h1.0v1.0h-1.0zM178.0 443.0h1.0v1.0h-1.0zM178.0 444.0h1.0v1.0h-1.0zM179.0 423.0h1.0v1.0h-1.0zM179.0 424.0h1.0v1.0h-1.0zM179.0 425.0h1.0v1.0h-1.0zM179.0 426.0h1.0v1.0h-1.0zM179.0 427.0h1.0v1.0h-1.0zM179.0 428.0h1.0v1.0h-1.0zM179.0 429.0h1.0v1.0h-1.0zM179.0 430.0h1.0v1.0h-1.0zM179.0 431.0h1.0v1.0h-1.0zM179.0 432.0h1.0v1.0h-1.0zM179.0 433.0h1.0v1.0h-1.0zM179.0 434.0h1.0v1.0h-1.0zM179.0 435.0h1.0v1.0h-1.0zM179.0 436.0h1.0v1.0h-1.0zM179.0 437.0h1.0v1.0h-1.0zM179.0 438.0h1.0v1.0h-1.0zM179.0 439.0h1.0v1.0h-1.0zM179.0 440.0h1.0v1.0h-1.0zM179.0 441.0h1.0v1.0h-1.0zM179.0 442.0h1.0v1.0h-1.0zM179.0 443.0h1.0v1.0h-1.0zM179.0 444.0h1.0v1.0h-1.0zM180.0 418.0h1.0v1.0h-1.0zM180.0 422.0h1.0v1.0h-1.0zM180.0 423.0h1.0v1.0h-1.0zM180.0 425.0h1.0v1.0h-1.0zM180.0 426.0h1.0v1.0h-1.0zM180.0 427.0h1.0v1.0h-1.0zM180.0 430.0h1.0v1.0h-1.0zM180.0 431.0h1.0v1.0h-1.0zM180.0 432.0h1.0v1.0h-1.0zM180.0 433.0h1.0v1.0h-1.0zM180.0 434.0h1.0v1.0h-1.0zM180.0 435.0h1.0v1.0h-1.0zM180.0 436.0h1.0v1.0h-1.0zM180.0 437.0h1.0v1.0h-1.0zM180.0 438.0h1.0v1.0h-1.0zM180.0 439.0h1.0v1.0h-1.0zM180.0 440.0h1.0v1.0h-1.0zM180.0 441.0h1.0v1.0h-1.0zM180.0 442.0h1.0v1.0h-1.0zM180.0 443.0h1.0v1.0h-1.0zM180.0 444.0h1.0v1.0h-1.0zM181.0 422.0h1.0v1.0h-1.0zM181.0 423.0h1.0v1.0h-1.0zM181.0 425.0h1.0v1.0h-1.0zM181.0 427.0h1.0v1.0h-1.0zM181.0 428.0h1.0v1.0h-1.0zM181.0 431.0h1.0v1.0h-1.0zM181.0 436.0h1.0v1.0h-1.0zM181.0 437.0h1.0v1.0h-1.0zM181.0 438.0h1.0v1.0h-1.0zM181.0 441.0h1.0v1.0h-1.0zM181.0 444.0h1.0v1.0h-1.0zM182.0 422.0h1.0v1.0h-1.0zM182.0 423.0h1.0v1.0h-1.0zM182.0 426.0h1.0v1.0h-1.0zM182.0 427.0h1.0v1.0h-1.0zM182.0 428.0h1.0v1.0h-1.0zM182.0 430.0h1.0v1.0h-1.0zM182.0 431.0h1.0v1.0h-1.0zM182.0 433.0h1.0v1.0h-1.0zM182.0 435.0h1.0v1.0h-1.0zM182.0 436.0h1.0v1.0h-1.0zM182.0 441.0h1.0v1.0h-1.0zM182.0 442.0h1.0v1.0h-1.0zM183.0 423.0h1.0v1.0h-1.0zM183.0 424.0h1.0v1.0h-1.0zM183.0 426.0h1.0v1.0h-1.0zM183.0 427.0h1.0v1.0h-1.0zM183.0 431.0h1.0v1.0h-1.0zM183.0 434.0h1.0v1.0h-1.0zM183.0 444.0h1.0v1.0h-1.0zM184.0 427.0h1.0v1.0h-1.0zM184.0 429.0h1.0v1.0h-1.0zM184.0 431.0h1.0v1.0h-1.0zM184.0 433.0h1.0v1.0h-1.0zM184.0 440.0h1.0v1.0h-1.0zM184.0 443.0h1.0v1.0h-1.0zM185.0 422.0h1.0v1.0h-1.0zM185.0 432.0h1.0v1.0h-1.0zM185.0 442.0h1.0v1.0h-1.0zM186.0 440.0h1.0v1.0h-1.0zM186.0 442.0h1.0v1.0h-1.0zM188.0 429.0h1.0v1.0h-1.0zM188.0 442.0h1.0v1.0h-1.0zM189.0 439.0h1.0v1.0h-1.0zM192.0 441.0h1.0v1.0h-1.0zM194.0 443.0h1.0v1.0h-1.0zM199.0 424.0h1.0v1.0h-1.0z" fill="#1a1a1a"/>
</g>
</g>
<rect x="158.6" y="363.2" width="80.5" height="80.0" fill="none" stroke="#a0a0a0" stroke-width="0.9" />
<ellipse cx="207.25" cy="381.0" rx="21.05" ry="12.15" fill="none" stroke="#111" stroke-width="1.3"/>
<text x="209.3" y="405.0" font-size="11.5" font-weight="bold" text-anchor="start" fill="#111" textLength="25.7" lengthAdjust="spacingAndGlyphs" >3.2%</text>
<text x="159.1" y="448.5" font-size="4.8" font-weight="bold" text-anchor="middle" fill="#444" >10<tspan font-size="3.2" dy="-1.6">0</tspan></text>
<text x="179.225" y="448.5" font-size="4.8" font-weight="bold" text-anchor="middle" fill="#444" >10<tspan font-size="3.2" dy="-1.6">1</tspan></text>
<text x="199.35" y="448.5" font-size="4.8" font-weight="bold" text-anchor="middle" fill="#444" >10<tspan font-size="3.2" dy="-1.6">2</tspan></text>
<text x="219.475" y="448.5" font-size="4.8" font-weight="bold" text-anchor="middle" fill="#444" >10<tspan font-size="3.2" dy="-1.6">3</tspan></text>
<text x="239.6" y="448.5" font-size="4.8" font-weight="bold" text-anchor="middle" fill="#444" >10<tspan font-size="3.2" dy="-1.6">4</tspan></text>
<text x="0" y="0" font-size="4.8" font-weight="bold" text-anchor="middle" fill="#444" transform="translate(156.6,439.7) rotate(-90)">10<tspan font-size="3.2" dy="-1.6">0</tspan></text>
<text x="0" y="0" font-size="4.8" font-weight="bold" text-anchor="middle" fill="#444" transform="translate(156.6,420.2) rotate(-90)">10<tspan font-size="3.2" dy="-1.6">1</tspan></text>
<text x="0" y="0" font-size="4.8" font-weight="bold" text-anchor="middle" fill="#444" transform="translate(156.6,400.2) rotate(-90)">10<tspan font-size="3.2" dy="-1.6">2</tspan></text>
<text x="0" y="0" font-size="4.8" font-weight="bold" text-anchor="middle" fill="#444" transform="translate(156.6,382.2) rotate(-90)">10<tspan font-size="3.2" dy="-1.6">3</tspan></text>
<text x="0" y="0" font-size="4.8" font-weight="bold" text-anchor="middle" fill="#444" transform="translate(156.6,361.5) rotate(-90)">10<tspan font-size="3.2" dy="-1.6">4</tspan></text>
<text x="122.2" y="291.5" font-size="9.8" font-weight="bold" text-anchor="start" fill="#111" textLength="22.2" lengthAdjust="spacingAndGlyphs" stroke="#111" stroke-width="0.2">8422</text>
<line x1="120.3" y1="298.3" x2="144" y2="298.3" stroke="#222" stroke-width="0.9" />
<path d="M146 298.3 L142.5 296.8 L142.5 299.8 Z" fill="#111"/>
<text x="123.1" y="390.3" font-size="9.8" font-weight="bold" text-anchor="start" fill="#111" textLength="21.7" lengthAdjust="spacingAndGlyphs" stroke="#111" stroke-width="0.2">8424</text>
<line x1="122.6" y1="395.4" x2="142.5" y2="395.4" stroke="#222" stroke-width="0.9" />
<path d="M144.7 395.4 L141.2 393.9 L141.2 396.9 Z" fill="#111"/>
<text x="0" y="0" font-size="12.8" text-anchor="middle" fill="#111" textLength="69" lengthAdjust="spacingAndGlyphs" transform="translate(19.8,354.9) rotate(-90)">CD45 FITC</text>
<line x1="15.6" y1="273" x2="15.6" y2="315.5" stroke="#111" stroke-width="1.4" />
<path d="M15.6 268.5 L13.2 275.5 L18 275.5 Z" fill="#111"/>
<line x1="15.6" y1="393.5" x2="15.6" y2="458.5" stroke="#111" stroke-width="1.4" />
<text x="110.4" y="463.8" font-size="11.8" text-anchor="start" fill="#111" textLength="54.3" lengthAdjust="spacingAndGlyphs" >H-2K<tspan font-size="7.5" dy="-4.3">d</tspan><tspan dy="4.3"> PE</tspan></text>
<line x1="35.5" y1="460" x2="104.5" y2="460" stroke="#111" stroke-width="1.4" />
<line x1="169.5" y1="460" x2="235" y2="460" stroke="#111" stroke-width="1.4" />
<path d="M240.5 460 L233.5 457.6 L233.5 462.4 Z" fill="#111"/>
<text x="263.5" y="255.8" font-size="18" font-weight="bold" text-anchor="start" fill="#000" >D</text>
<rect x="288.2" y="265.3" width="213.60000000000002" height="161.3" fill="#9d9d9d" stroke="none" stroke-width="1" />
<line x1="288.2" y1="386.27500000000003" x2="501.8" y2="386.27500000000003" stroke="#444" stroke-width="1.1" />
<line x1="288.2" y1="345.95000000000005" x2="501.8" y2="345.95000000000005" stroke="#444" stroke-width="1.1" />
<line x1="288.2" y1="305.625" x2="501.8" y2="305.625" stroke="#444" stroke-width="1.1" />
<line x1="288.2" y1="265.7" x2="501.8" y2="265.7" stroke="#8a8a8a" stroke-width="0.8" />
<line x1="501.40000000000003" y1="265.3" x2="501.40000000000003" y2="426.6" stroke="#8a8a8a" stroke-width="0.8" />
<defs><clipPath id="dclip"><rect x="288.2" y="265.3" width="213.60000000000002" height="161.3"/></clipPath></defs>
<g clip-path="url(#dclip)">
<polyline points="299.1,356.0 309.8,366.1 331.1,360.1 373.6,406.4 472.9,416.5" fill="none" stroke="#ffffff" stroke-width="1.2" stroke-linejoin="round"/>
<rect x="297.3" y="354.2" width="3.6" height="3.6" fill="#ffffff"/>
<rect x="308.0" y="364.3" width="3.6" height="3.6" fill="#ffffff"/>
<rect x="329.3" y="358.3" width="3.6" height="3.6" fill="#ffffff"/>
<rect x="371.8" y="404.6" width="3.6" height="3.6" fill="#ffffff"/>
<rect x="471.1" y="414.7" width="3.6" height="3.6" fill="#ffffff"/>
<polyline points="299.1,356.0 309.8,354.0 331.1,374.2 373.6,392.3 472.9,418.5" fill="none" stroke="#e8ffff" stroke-width="1.2" stroke-linejoin="round"/>
<rect x="297.3" y="354.2" width="3.6" height="3.6" fill="#e8ffff"/>
<rect x="308.0" y="352.2" width="3.6" height="3.6" fill="#e8ffff"/>
<rect x="329.3" y="372.4" width="3.6" height="3.6" fill="#e8ffff"/>
<rect x="371.8" y="390.5" width="3.6" height="3.6" fill="#e8ffff"/>
<rect x="471.1" y="416.7" width="3.6" height="3.6" fill="#e8ffff"/>
<polyline points="299.1,325.8 309.8,333.9 331.1,348.0 373.6,346.0 472.9,301.6" fill="none" stroke="#ffcc99" stroke-width="1.2" stroke-linejoin="round"/>
<path d="M299.1 323.5l2.3 2.3l-2.3 2.3l-2.3 -2.3z" fill="#ffcc99"/>
<path d="M309.8 331.6l2.3 2.3l-2.3 2.3l-2.3 -2.3z" fill="#ffcc99"/>
<path d="M331.1 345.7l2.3 2.3l-2.3 2.3l-2.3 -2.3z" fill="#ffcc99"/>
<path d="M373.6 343.7l2.3 2.3l-2.3 2.3l-2.3 -2.3z" fill="#ffcc99"/>
<path d="M472.9 299.3l2.3 2.3l-2.3 2.3l-2.3 -2.3z" fill="#ffcc99"/>
<polyline points="299.1,325.8 309.8,321.8 331.1,350.0 373.6,285.5 472.9,329.8" fill="none" stroke="#ff99cc" stroke-width="1.2" stroke-linejoin="round"/>
<rect x="297.3" y="324.0" width="3.6" height="3.6" fill="#ff99cc"/>
<rect x="308.0" y="320.0" width="3.6" height="3.6" fill="#ff99cc"/>
<rect x="329.3" y="348.2" width="3.6" height="3.6" fill="#ff99cc"/>
<rect x="371.8" y="283.7" width="3.6" height="3.6" fill="#ff99cc"/>
<rect x="471.1" y="328.0" width="3.6" height="3.6" fill="#ff99cc"/>
<polyline points="299.1,329.8 309.8,333.9 331.1,299.6 373.6,305.6" fill="none" stroke="#99ccff" stroke-width="1.2" stroke-linejoin="round"/>
<path d="M297.1 327.8l4 4m0 -4l-4 4" stroke="#99ccff" stroke-width="1.2"/>
<path d="M307.8 331.9l4 4m0 -4l-4 4" stroke="#99ccff" stroke-width="1.2"/>
<path d="M329.1 297.6l4 4m0 -4l-4 4" stroke="#99ccff" stroke-width="1.2"/>
<path d="M371.6 303.6l4 4m0 -4l-4 4" stroke="#99ccff" stroke-width="1.2"/>
<polyline points="299.1,346.0 309.8,309.7 331.1,297.6 373.6,313.7 472.9,354.0" fill="none" stroke="#ffff99" stroke-width="1.3" stroke-linejoin="round"/>
<path d="M299.1 343.6l2.4 4.2h-4.8z" fill="#ffff99"/>
<path d="M309.8 307.3l2.4 4.2h-4.8z" fill="#ffff99"/>
<path d="M331.1 295.2l2.4 4.2h-4.8z" fill="#ffff99"/>
<path d="M373.6 311.3l2.4 4.2h-4.8z" fill="#ffff99"/>
<path d="M472.9 351.6l2.4 4.2h-4.8z" fill="#ffff99"/>
<polyline points="299.1,285.5 309.8,317.7 331.1,305.6 373.6,240.3 472.9,144.3" fill="none" stroke="#9acd32" stroke-width="1.8" stroke-linejoin="round"/>
<circle cx="299.1" cy="285.5" r="2" fill="#9acd32"/>
<circle cx="309.8" cy="317.7" r="2" fill="#9acd32"/>
<circle cx="331.1" cy="305.6" r="2" fill="#9acd32"/>
<circle cx="373.6" cy="240.3" r="2" fill="#9acd32"/>
<circle cx="472.9" cy="144.3" r="2" fill="#9acd32"/>
<polyline points="299.1,315.7 309.8,384.3 331.1,391.1 373.6,392.3 472.9,412.5" fill="none" stroke="#4f6fe8" stroke-width="1.6" stroke-linejoin="round"/>
<polyline points="299.1,368.1 309.8,382.2 331.1,416.5 373.6,422.6 472.9,422.6" fill="none" stroke="#33ccee" stroke-width="1.6" stroke-linejoin="round"/>
<polyline points="299.1,386.3 309.8,414.5 331.1,420.6 373.6,424.6 472.9,420.6" fill="none" stroke="#008080" stroke-width="1.5" stroke-linejoin="round"/>
<polyline points="299.1,388.3 309.8,422.6 331.1,418.5 373.6,424.6 472.9,424.6" fill="none" stroke="#800080" stroke-width="1.5" stroke-linejoin="round"/>
<polyline points="299.1,398.4 309.8,424.6 331.1,415.3 373.6,426.6 472.9,424.6" fill="none" stroke="#ffff00" stroke-width="1.5" stroke-linejoin="round"/>
<path d="M299.1 396.0l2.4 4.2h-4.8z" fill="#ffff00"/>
<path d="M309.8 422.2l2.4 4.2h-4.8z" fill="#ffff00"/>
<path d="M331.1 412.9l2.4 4.2h-4.8z" fill="#ffff00"/>
<path d="M373.6 424.2l2.4 4.2h-4.8z" fill="#ffff00"/>
<path d="M472.9 422.2l2.4 4.2h-4.8z" fill="#ffff00"/>
<polyline points="299.1,403.6 309.8,426.6 331.1,420.6 373.6,425.8 472.9,425.8" fill="none" stroke="#ff00ff" stroke-width="1.5" stroke-linejoin="round"/>
<rect x="297.3" y="401.8" width="3.6" height="3.6" fill="#ff00ff"/>
<rect x="308.0" y="424.8" width="3.6" height="3.6" fill="#ff00ff"/>
<rect x="329.3" y="418.8" width="3.6" height="3.6" fill="#ff00ff"/>
<rect x="371.8" y="424.0" width="3.6" height="3.6" fill="#ff00ff"/>
<rect x="471.1" y="424.0" width="3.6" height="3.6" fill="#ff00ff"/>
<polyline points="299.1,409.3 309.8,422.6 331.1,418.5 373.6,424.6 472.9,425.4" fill="none" stroke="#000099" stroke-width="1.6" stroke-linejoin="round"/>
<circle cx="299.1" cy="409.3" r="2" fill="#000099"/>
<circle cx="309.8" cy="422.6" r="2" fill="#000099"/>
<circle cx="331.1" cy="418.5" r="2" fill="#000099"/>
<circle cx="373.6" cy="424.6" r="2" fill="#000099"/>
<circle cx="472.9" cy="425.4" r="2" fill="#000099"/>
<polyline points="299.1,377.4 309.8,422.6 331.1,418.5 373.6,424.6 472.9,425.4" fill="none" stroke="#000080" stroke-width="2.0" stroke-linejoin="round"/>
<rect x="297.3" y="375.6" width="3.6" height="3.6" fill="#000080"/>
<rect x="308.0" y="420.8" width="3.6" height="3.6" fill="#000080"/>
<rect x="329.3" y="416.7" width="3.6" height="3.6" fill="#000080"/>
<rect x="371.8" y="422.8" width="3.6" height="3.6" fill="#000080"/>
<rect x="471.1" y="423.6" width="3.6" height="3.6" fill="#000080"/>
<polyline points="299.1,386.3 309.8,423.4 331.1,419.3 373.6,424.6 472.9,424.2" fill="none" stroke="#3333ff" stroke-width="1.6" stroke-linejoin="round"/>
<polyline points="299.1,386.3 309.8,382.2 331.1,420.6 373.6,423.4 472.9,422.6" fill="none" stroke="#22c8ee" stroke-width="1.5" stroke-linejoin="round"/>
</g>
<line x1="288.2" y1="265.0" x2="288.2" y2="426.90000000000003" stroke="#555" stroke-width="1.3" />
<line x1="288.2" y1="426.6" x2="501.8" y2="426.6" stroke="#555" stroke-width="1.3" />
<line x1="285.2" y1="426.6" x2="288.2" y2="426.6" stroke="#333" stroke-width="1" />
<text x="281.2" y="429.8" font-size="9" font-weight="bold" text-anchor="end" fill="#111" >0</text>
<line x1="285.2" y1="386.27500000000003" x2="288.2" y2="386.27500000000003" stroke="#333" stroke-width="1" />
<text x="281.2" y="389.475" font-size="9" font-weight="bold" text-anchor="end" fill="#111" >1</text>
<line x1="285.2" y1="345.95000000000005" x2="288.2" y2="345.95000000000005" stroke="#333" stroke-width="1" />
<text x="281.2" y="349.15000000000003" font-size="9" font-weight="bold" text-anchor="end" fill="#111" >2</text>
<line x1="285.2" y1="305.625" x2="288.2" y2="305.625" stroke="#333" stroke-width="1" />
<text x="281.2" y="308.825" font-size="9" font-weight="bold" text-anchor="end" fill="#111" >3</text>
<line x1="285.2" y1="265.3" x2="288.2" y2="265.3" stroke="#333" stroke-width="1" />
<text x="281.2" y="268.5" font-size="9" font-weight="bold" text-anchor="end" fill="#111" >4</text>
<line x1="288.5" y1="426.6" x2="288.5" y2="429.1" stroke="#333" stroke-width="1" />
<text x="288.5" y="443.8" font-size="9" font-weight="bold" text-anchor="middle" fill="#111" >0</text>
<line x1="359.4230769230769" y1="426.6" x2="359.4230769230769" y2="429.1" stroke="#333" stroke-width="1" />
<text x="359.4230769230769" y="443.8" font-size="9" font-weight="bold" text-anchor="middle" fill="#111" textLength="10" lengthAdjust="spacingAndGlyphs" >20</text>
<line x1="430.3461538461538" y1="426.6" x2="430.3461538461538" y2="429.1" stroke="#333" stroke-width="1" />
<text x="430.3461538461538" y="443.8" font-size="9" font-weight="bold" text-anchor="middle" fill="#111" textLength="10" lengthAdjust="spacingAndGlyphs" >40</text>
<line x1="501.2692307692307" y1="426.6" x2="501.2692307692307" y2="429.1" stroke="#333" stroke-width="1" />
<text x="501.2692307692307" y="443.8" font-size="9" font-weight="bold" text-anchor="middle" fill="#111" textLength="10" lengthAdjust="spacingAndGlyphs" >60</text>
<text x="371.5" y="455.4" font-size="9.2" font-weight="bold" text-anchor="start" fill="#111" textLength="45" lengthAdjust="spacingAndGlyphs" >Age (wks)</text>
<text x="0" y="0" font-size="9.2" font-weight="bold" text-anchor="middle" fill="#111" textLength="58" lengthAdjust="spacingAndGlyphs" transform="translate(267.4,350.5) rotate(-90)">% PB Chimerism</text>
<line x1="288.2" y1="353.9" x2="501.8" y2="353.9" stroke="#dc1f2c" stroke-width="2.6" stroke-dasharray="5.2 2.815" stroke-dashoffset="-1.2"/>
<text x="504" y="356" font-size="6.6" text-anchor="start" fill="#e0202a" textLength="15" lengthAdjust="spacingAndGlyphs" >1.8%</text>
<text x="-1.6" y="477.3" font-size="18" font-weight="bold" text-anchor="start" fill="#000" >E</text>
<rect x="26" y="470.2" width="233.60000000000002" height="18.400000000000034" fill="#000" stroke="none" stroke-width="1" />
<line x1="26" y1="471.2" x2="514" y2="471.2" stroke="#000" stroke-width="2" />
<line x1="26" y1="606.4" x2="514" y2="606.4" stroke="#000" stroke-width="2.2" />
<line x1="27" y1="470.2" x2="27" y2="607.5" stroke="#000" stroke-width="2" />
<line x1="513" y1="470.2" x2="513" y2="607.5" stroke="#000" stroke-width="2" />
<line x1="26" y1="488.2" x2="514" y2="488.2" stroke="#000" stroke-width="2" />
<line x1="259.6" y1="470.2" x2="259.6" y2="607.5" stroke="#000" stroke-width="1.6" />
<line x1="141.6" y1="488" x2="141.6" y2="607.5" stroke="#000" stroke-width="1.5" />
<line x1="306.9" y1="488" x2="306.9" y2="607.5" stroke="#000" stroke-width="1.5" />
<line x1="364.1" y1="488" x2="364.1" y2="607.5" stroke="#000" stroke-width="1.5" />
<line x1="412.4" y1="488" x2="412.4" y2="607.5" stroke="#000" stroke-width="1.5" />
<line x1="458.2" y1="488" x2="458.2" y2="607.5" stroke="#000" stroke-width="1.5" />
<line x1="26" y1="516.6" x2="514" y2="516.6" stroke="#000" stroke-width="2.2" />
<line x1="141.6" y1="538.9" x2="514" y2="538.9" stroke="#000" stroke-width="1.5" />
<line x1="26" y1="562.3" x2="514" y2="562.3" stroke="#000" stroke-width="2" />
<line x1="141.6" y1="585.3" x2="514" y2="585.3" stroke="#000" stroke-width="1.5" />
<text x="386.2" y="483.2" font-size="9.3" font-weight="bold" text-anchor="middle" fill="#1a1a1a" textLength="144" lengthAdjust="spacingAndGlyphs" >Animals remaining chimeric (%)</text>
<text x="84.2" y="500.8" font-size="9.3" font-weight="bold" text-anchor="middle" fill="#1a1a1a" textLength="59" lengthAdjust="spacingAndGlyphs" >Immunologic</text>
<text x="84.2" y="511.8" font-size="9.3" font-weight="bold" text-anchor="middle" fill="#1a1a1a" textLength="40.7" lengthAdjust="spacingAndGlyphs" >Disparity</text>
<text x="200.3" y="506.2" font-size="9.3" font-weight="bold" text-anchor="middle" fill="#1a1a1a" textLength="92" lengthAdjust="spacingAndGlyphs" >Initial Chimerism (n)</text>
<text x="283.25" y="506.2" font-size="9.3" font-weight="bold" text-anchor="middle" fill="#1a1a1a" textLength="25" lengthAdjust="spacingAndGlyphs" >3 wks</text>
<text x="335.5" y="506.2" font-size="9.3" font-weight="bold" text-anchor="middle" fill="#1a1a1a" textLength="25" lengthAdjust="spacingAndGlyphs" >6 wks</text>
<text x="388.25" y="506.2" font-size="9.3" font-weight="bold" text-anchor="middle" fill="#1a1a1a" textLength="30.5" lengthAdjust="spacingAndGlyphs" >12 wks</text>
<text x="435.29999999999995" y="506.2" font-size="9.3" font-weight="bold" text-anchor="middle" fill="#1a1a1a" textLength="30.5" lengthAdjust="spacingAndGlyphs" >24 wks</text>
<text x="485.6" y="506.2" font-size="9.3" font-weight="bold" text-anchor="middle" fill="#1a1a1a" textLength="30.5" lengthAdjust="spacingAndGlyphs" >52 wks</text>
<text x="84.2" y="535.4" font-size="9.3" font-weight="bold" text-anchor="middle" fill="#1a1a1a" textLength="43" lengthAdjust="spacingAndGlyphs" >Congenic</text>
<text x="84.2" y="551.4" font-size="9.3" font-weight="bold" text-anchor="middle" fill="#1a1a1a" textLength="90" lengthAdjust="spacingAndGlyphs" >(B6Ly5.2<tspan font-weight="normal">□</tspan> B6Ly5.1)</text>
<text x="84.2" y="580.6" font-size="9.3" font-weight="bold" text-anchor="middle" fill="#1a1a1a" textLength="47" lengthAdjust="spacingAndGlyphs" >Allogeneic</text>
<text x="84.2" y="596.4" font-size="9.3" font-weight="bold" text-anchor="middle" fill="#1a1a1a" textLength="83" lengthAdjust="spacingAndGlyphs" >(Balb/c<tspan font-weight="normal">□</tspan> B6Ly5.2)</text>
<text x="200.3" y="532.2" font-size="9.3" font-weight="bold" text-anchor="middle" fill="#1a1a1a" >&gt; 1.8% (16)</text>
<text x="283.25" y="532.2" font-size="9" text-anchor="middle" fill="#222" textLength="14.8" lengthAdjust="spacingAndGlyphs" >100</text>
<text x="335.5" y="532.2" font-size="9" text-anchor="middle" fill="#222" textLength="14.8" lengthAdjust="spacingAndGlyphs" >100</text>
<text x="388.25" y="532.2" font-size="9" text-anchor="middle" fill="#222" textLength="14.8" lengthAdjust="spacingAndGlyphs" >100</text>
<text x="435.29999999999995" y="532.2" font-size="9" text-anchor="middle" fill="#222" textLength="14.8" lengthAdjust="spacingAndGlyphs" >100</text>
<text x="485.6" y="532.2" font-size="9" text-anchor="middle" fill="#222" textLength="14.8" lengthAdjust="spacingAndGlyphs" >100</text>
<text x="200.3" y="555.1" font-size="9.3" font-weight="bold" text-anchor="middle" fill="#1a1a1a" >&lt; 1.8% (10)</text>
<text x="283.25" y="555.1" font-size="9" text-anchor="middle" fill="#222" textLength="14.8" lengthAdjust="spacingAndGlyphs" >100</text>
<text x="335.5" y="555.1" font-size="9" text-anchor="middle" fill="#222" textLength="14.8" lengthAdjust="spacingAndGlyphs" >100</text>
<text x="388.25" y="555.1" font-size="9" text-anchor="middle" fill="#222" textLength="14.8" lengthAdjust="spacingAndGlyphs" >100</text>
<text x="435.29999999999995" y="555.1" font-size="9" text-anchor="middle" fill="#222" textLength="14.8" lengthAdjust="spacingAndGlyphs" >100</text>
<text x="485.6" y="555.1" font-size="9" text-anchor="middle" fill="#222" textLength="14.8" lengthAdjust="spacingAndGlyphs" >100</text>
<text x="200.3" y="577.5" font-size="9.3" font-weight="bold" text-anchor="middle" fill="#1a1a1a" >&gt; 1.8% (18)</text>
<text x="283.25" y="577.5" font-size="9" text-anchor="middle" fill="#222" textLength="14.8" lengthAdjust="spacingAndGlyphs" >100</text>
<text x="335.5" y="577.5" font-size="9" text-anchor="middle" fill="#222" textLength="14.8" lengthAdjust="spacingAndGlyphs" >100</text>
<text x="388.25" y="577.5" font-size="9" text-anchor="middle" fill="#222" textLength="14.8" lengthAdjust="spacingAndGlyphs" >100</text>
<text x="435.29999999999995" y="577.5" font-size="9" text-anchor="middle" fill="#222" textLength="14.8" lengthAdjust="spacingAndGlyphs" >100</text>
<text x="485.6" y="577.5" font-size="9" text-anchor="middle" fill="#222" textLength="14.8" lengthAdjust="spacingAndGlyphs" >100</text>
<text x="200.3" y="600.3" font-size="9.3" font-weight="bold" text-anchor="middle" fill="#1a1a1a" >&lt; 1.8% (10)</text>
<text x="283.25" y="600.3" font-size="9" text-anchor="middle" fill="#222" textLength="14.8" lengthAdjust="spacingAndGlyphs" >100</text>
<text x="335.5" y="600.3" font-size="9" text-anchor="middle" fill="#222" >40<tspan font-size="6.5" dy="-2.8">*</tspan></text>
<text x="388.25" y="600.3" font-size="9" text-anchor="middle" fill="#222" >20<tspan font-size="6.5" dy="-2.8">*</tspan></text>
<text x="435.29999999999995" y="600.3" font-size="9" text-anchor="middle" fill="#222" >20<tspan font-size="6.5" dy="-2.8">*</tspan></text>
<text x="485.6" y="600.3" font-size="9" text-anchor="middle" fill="#222" >0<tspan font-size="6.5" dy="-2.8">*</tspan></text>
</svg>
</body></html>
